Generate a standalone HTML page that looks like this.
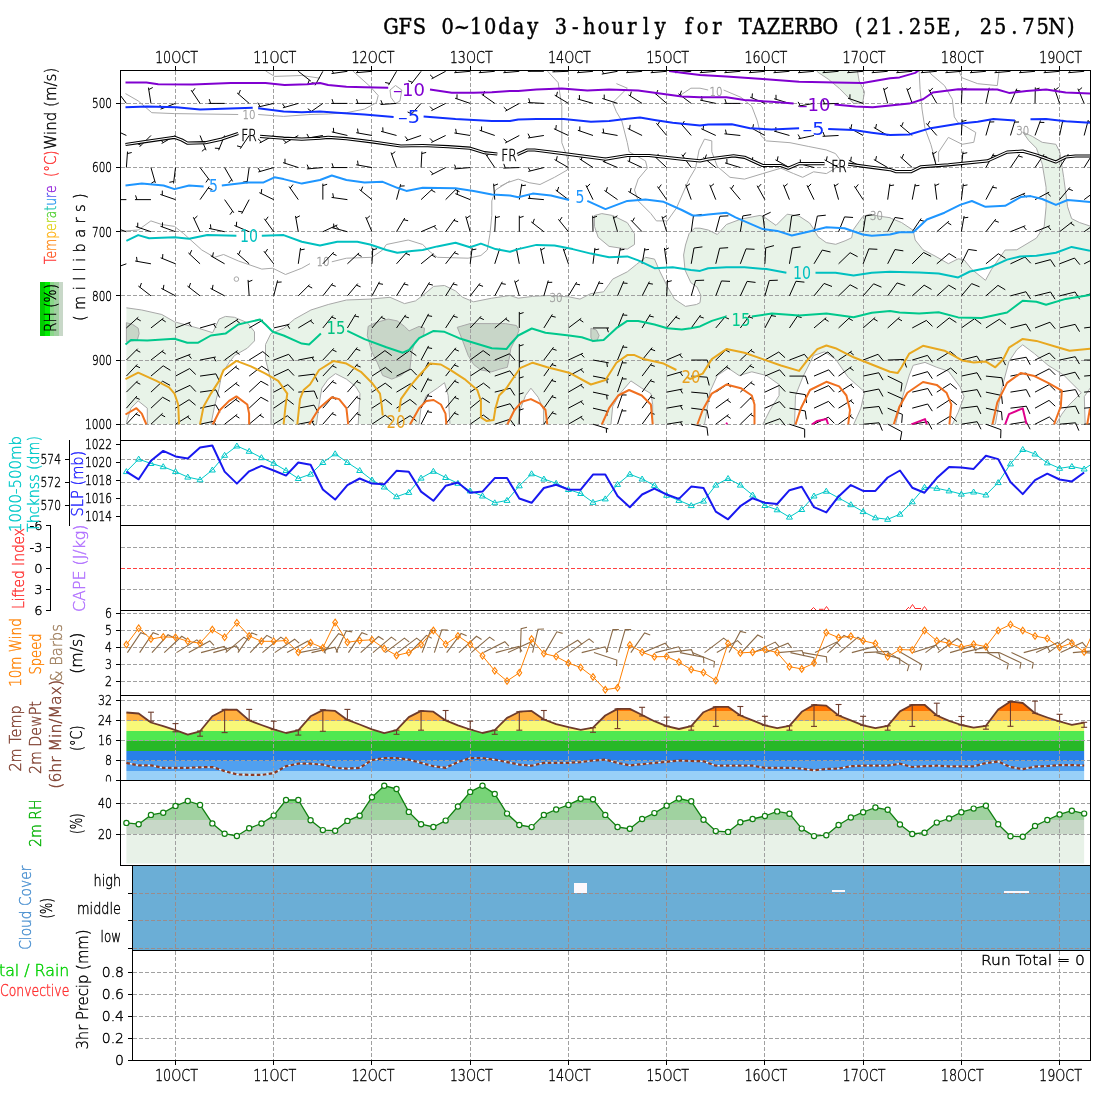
<!DOCTYPE html>
<html><head><meta charset="utf-8"><title>GFS 0~10day 3-hourly for TAZERBO</title>
<style>
html,body{margin:0;padding:0;background:#fff;width:1100px;height:1100px;overflow:hidden}
svg{display:block}
.F{font-family:"DejaVu Sans","Liberation Sans",sans-serif;font-weight:200;stroke:currentColor;stroke-width:0.4px}
.C{font-family:"DejaVu Sans","Liberation Sans",sans-serif}
.S{font-family:"Liberation Serif","DejaVu Serif",serif}
.M{font-family:"Liberation Mono","DejaVu Sans Mono",monospace}
</style></head><body>
<svg width="1100" height="1100" viewBox="0 0 1100 1100">
<rect x="0" y="0" width="1100" height="1100" fill="#fff"/>
<clipPath id="mainclip"><rect x="121" y="71" width="969" height="353.7"/></clipPath>
<g clip-path="url(#mainclip)">
<polygon points="126.4,307.8 141.8,310 161.8,314.5 174.5,321.8 198.2,328.2 212.7,332.7 219.1,319.1 225.5,316.4 234.5,317.3 247.3,322.7 254.5,331.8 254.5,340.9 247.3,348.2 234.5,355.5 229.1,362.7 221.8,373.6 219.1,388.2 214.5,406.4 210.9,424.5 271,424.5 271,380.9 265.5,359.1 265.5,344.5 270.9,333.6 283.6,328.2 294.5,319.1 310.9,310 328.2,304.5 346.4,300 370,299.1 390,297.3 404.5,303.6 415.5,300.9 422.7,295.5 433.6,286.4 444.5,285.5 455.5,290.9 462.7,297.3 473.6,301.8 491.8,298.2 510,295.5 518.2,298.2 532.7,296.4 549.1,295.5 569.1,296.9 580,299.1 590.9,293.6 603.6,291.8 612.7,279.1 627.3,271.8 636.4,264.5 645.5,257.3 654.5,259.1 660,271.8 667.3,286.4 674.5,299.1 685.5,306.4 696.4,304.5 700,302.7 700.9,295.5 697,287 690.9,282.7 685,270 683.6,255 685.5,245 689.1,233.6 694.5,228.2 700,228.2 708.2,230 717.3,234.5 726.4,224.5 740.9,219.1 760,215.4 763.5,216.5 776,225.4 787.2,214.2 799,216 809.6,223 814.4,230.1 817.9,236.6 826.2,242.6 835.7,244.3 845.1,240.8 851.6,237.8 853.4,229.6 859.3,221.3 862.8,216.5 869.9,214.2 878.2,216 890,217.7 891.7,218.6 901.5,222.5 913.2,230.3 915.2,240 923,249.8 935,256 948.4,263.7 958.2,258.8 964.1,259.8 971.9,269.5 985.5,280.3 991.4,269.5 1005.1,250 1016.8,249.8 1036.4,238.1 1044.2,226.4 1046.1,206.8 1046.1,187.3 1042.2,163.8 1036.4,148.2 1028.6,140.4 1022.7,132 1032.5,136.5 1042.2,142.3 1055.9,144.3 1059.8,152.1 1063.7,177.5 1067.6,206.8 1071.6,218.6 1079.4,222.5 1091,226.4 1091,424.2 126.4,424.2" fill="#e8f3e8" stroke="none" />
<polygon points="594.5,215.5 601.8,213.6 612.7,215.5 627.3,222.7 634.5,233.6 634.5,244.5 627.3,249.1 609.1,246.4 598.2,237.3 594.5,226.4" fill="#e8f3e8" stroke="#a8a8a8" stroke-width="1"/>
<polygon points="817.3,70 817.3,71.8 828.2,79.1 839.1,88.2 848.2,97.3 853.6,103.6 862.7,102.7 864.5,91.8 859.1,80.9 857.3,70" fill="#e8f3e8" stroke="#a8a8a8" stroke-width="1"/>
<polygon points="126.4,422.7 130.9,408.2 138.2,400.9 147.3,408.2 147.3,424.5" fill="#fff" stroke="none" />
<polygon points="316.4,424.5 319.1,404.5 321.8,388.2 328.2,379.1 335.5,373.6 346.4,379.1 355.5,386.4 360,393.6 359.1,408.2 358.2,424.5" fill="#fff" stroke="none" />
<polygon points="419.1,424.5 420.9,408.2 426.4,395.5 437.3,388.2 444.5,382.7 448.2,395.5 450,424.5" fill="#fff" stroke="none" />
<polygon points="518.2,424.5 520,410 525.5,395.5 530.9,388.2 538.2,397.3 543.6,410 543.6,424.5" fill="#fff" stroke="none" />
<polygon points="610.9,424.5 612.7,406.4 620,393.6 630.9,380.9 641.8,388.2 650.9,393.6 652.7,404.5 652.7,424.5" fill="#fff" stroke="none" />
<polygon points="704.5,424.5 710,391.8 717.3,375.5 728.2,368.2 739.1,375.5 751.8,371.8 766.4,375.5 779.1,384.5 779.1,395.5 770,410 762.7,424.5" fill="#fff" stroke="none" />
<polygon points="794.5,424.5 795.5,395.5 802.7,377.3 813.6,355.5 824.5,351.8 835.5,359.1 848.2,377.3 864.5,391.8 860.9,408.2 853.6,424.5" fill="#fff" stroke="none" />
<polygon points="895.6,424.5 901.5,400.5 909.3,375.1 913.2,365.3 925,362.4 936.7,367.3 948.4,371.2 960.1,386.8 964.1,396.6 958.2,412.2 952.3,424.5" fill="#fff" stroke="none" />
<polygon points="995.3,424.5 1001.2,390.7 1009,361.4 1016.8,349.7 1022.7,344.8 1034.4,353.6 1048.1,365.3 1063.7,375.1 1081.3,392.7 1067.6,406.4 1061.8,414.2 1055.9,424.5" fill="#fff" stroke="none" />
<polygon points="1085.2,424.5 1084.3,396.6 1091,386.8 1091,424.5" fill="#fff" stroke="none" />
<polygon points="126.4,322.7 132.7,324.5 138.2,328.2 139.1,333.6 137.3,340 126.4,341.8" fill="#c8d6c8" stroke="#a8a8a8" stroke-width="1"/>
<polygon points="368.2,326.4 375.5,322.7 388.2,319.1 397.3,320.9 404.5,326.4 409.1,330.9 419.1,326.4 424.5,328.2 423.6,335.5 415.5,340.9 411.8,351.8 410,368.2 400.9,375.5 391.8,379.1 382.7,375.5 377.3,362.7 371.8,351.8 367.3,335.5" fill="#c8d6c8" stroke="#a8a8a8" stroke-width="1"/>
<polygon points="457.3,327.3 470,323.6 491.8,323.6 505.5,323.6 516.4,325.5 519.1,330 516.4,337.3 510.9,348.2 509.1,359.1 507.3,367.3 500,369.1 491.8,371.8 480.9,370 473.6,364.5 468.2,355.5 462.7,340.9" fill="#c8d6c8" stroke="#a8a8a8" stroke-width="1"/>
<polygon points="590.9,328.2 596.4,330 599.1,335.5 597.3,340 592.7,341.8 590.9,337.3" fill="#c8d6c8" stroke="#a8a8a8" stroke-width="1"/>
<polyline points="126.4,307.8 141.8,310 161.8,314.5 174.5,321.8 198.2,328.2 212.7,332.7 219.1,319.1 225.5,316.4 234.5,317.3 247.3,322.7 254.5,331.8 254.5,340.9 247.3,348.2 234.5,355.5 229.1,362.7 221.8,373.6 219.1,388.2 214.5,406.4 210.9,424.5 271,424.5 271,380.9 265.5,359.1 265.5,344.5 270.9,333.6 283.6,328.2 294.5,319.1 310.9,310 328.2,304.5 346.4,300 370,299.1 390,297.3 404.5,303.6 415.5,300.9 422.7,295.5 433.6,286.4 444.5,285.5 455.5,290.9 462.7,297.3 473.6,301.8 491.8,298.2 510,295.5 518.2,298.2 532.7,296.4 549.1,295.5 569.1,296.9 580,299.1 590.9,293.6 603.6,291.8 612.7,279.1 627.3,271.8 636.4,264.5 645.5,257.3 654.5,259.1 660,271.8 667.3,286.4 674.5,299.1 685.5,306.4 696.4,304.5 700,302.7 700.9,295.5 697,287 690.9,282.7 685,270 683.6,255 685.5,245 689.1,233.6 694.5,228.2 700,228.2 708.2,230 717.3,234.5 726.4,224.5 740.9,219.1 760,215.4 763.5,216.5 776,225.4 787.2,214.2 799,216 809.6,223 814.4,230.1 817.9,236.6 826.2,242.6 835.7,244.3 845.1,240.8 851.6,237.8 853.4,229.6 859.3,221.3 862.8,216.5 869.9,214.2 878.2,216 890,217.7 891.7,218.6 901.5,222.5 913.2,230.3 915.2,240 923,249.8 935,256 948.4,263.7 958.2,258.8 964.1,259.8 971.9,269.5 985.5,280.3 991.4,269.5 1005.1,250 1016.8,249.8 1036.4,238.1 1044.2,226.4 1046.1,206.8 1046.1,187.3 1042.2,163.8 1036.4,148.2 1028.6,140.4 1022.7,132 1032.5,136.5 1042.2,142.3 1055.9,144.3 1059.8,152.1 1063.7,177.5 1067.6,206.8 1071.6,218.6 1079.4,222.5 1091,226.4" fill="none" stroke="#a8a8a8" stroke-width="1" stroke-linejoin="round" />
<polyline points="126.4,422.7 130.9,408.2 138.2,400.9 147.3,408.2 147.3,424.5" fill="none" stroke="#a8a8a8" stroke-width="1" stroke-linejoin="round" />
<polyline points="316.4,424.5 319.1,404.5 321.8,388.2 328.2,379.1 335.5,373.6 346.4,379.1 355.5,386.4 360,393.6 359.1,408.2 358.2,424.5" fill="none" stroke="#a8a8a8" stroke-width="1" stroke-linejoin="round" />
<polyline points="419.1,424.5 420.9,408.2 426.4,395.5 437.3,388.2 444.5,382.7 448.2,395.5 450,424.5" fill="none" stroke="#a8a8a8" stroke-width="1" stroke-linejoin="round" />
<polyline points="518.2,424.5 520,410 525.5,395.5 530.9,388.2 538.2,397.3 543.6,410 543.6,424.5" fill="none" stroke="#a8a8a8" stroke-width="1" stroke-linejoin="round" />
<polyline points="610.9,424.5 612.7,406.4 620,393.6 630.9,380.9 641.8,388.2 650.9,393.6 652.7,404.5 652.7,424.5" fill="none" stroke="#a8a8a8" stroke-width="1" stroke-linejoin="round" />
<polyline points="704.5,424.5 710,391.8 717.3,375.5 728.2,368.2 739.1,375.5 751.8,371.8 766.4,375.5 779.1,384.5 779.1,395.5 770,410 762.7,424.5" fill="none" stroke="#a8a8a8" stroke-width="1" stroke-linejoin="round" />
<polyline points="794.5,424.5 795.5,395.5 802.7,377.3 813.6,355.5 824.5,351.8 835.5,359.1 848.2,377.3 864.5,391.8 860.9,408.2 853.6,424.5" fill="none" stroke="#a8a8a8" stroke-width="1" stroke-linejoin="round" />
<polyline points="895.6,424.5 901.5,400.5 909.3,375.1 913.2,365.3 925,362.4 936.7,367.3 948.4,371.2 960.1,386.8 964.1,396.6 958.2,412.2 952.3,424.5" fill="none" stroke="#a8a8a8" stroke-width="1" stroke-linejoin="round" />
<polyline points="995.3,424.5 1001.2,390.7 1009,361.4 1016.8,349.7 1022.7,344.8 1034.4,353.6 1048.1,365.3 1063.7,375.1 1081.3,392.7 1067.6,406.4 1061.8,414.2 1055.9,424.5" fill="none" stroke="#a8a8a8" stroke-width="1" stroke-linejoin="round" />
<polyline points="1085.2,424.5 1084.3,396.6 1091,386.8 1091,424.5" fill="none" stroke="#a8a8a8" stroke-width="1" stroke-linejoin="round" />
</g>
<clipPath id="rhclip"><polygon points="126.38,822.9 138.66,824.2 150.94,814.9 163.22,812.7 175.5,805.9 187.78,801 200.06,804.9 212.34,823.4 224.62,833.7 236.89,836 249.17,828.3 261.45,823.5 273.73,815.6 286.01,800 298.29,800 310.57,820.3 322.85,830.1 335.13,830.7 347.41,820.9 359.69,815.7 371.96,797.2 384.24,785.7 396.52,789 408.8,811.9 421.08,824.2 433.36,827 445.64,820.6 457.92,806.5 470.2,791.9 482.48,785.7 494.75,793.9 507.03,813.6 519.31,825 531.59,827.1 543.87,814.9 556.15,809.5 568.43,804.9 580.71,798.8 592.99,799.3 605.26,814.9 617.54,827 629.82,828.8 642.1,819 654.38,813.1 666.66,805.7 678.94,798.5 691.22,801.3 703.5,819.8 715.78,831.1 728.05,831.9 740.33,822.2 752.61,819 764.89,816 777.17,811.4 789.45,813.7 801.73,828.6 814.01,836.1 826.29,835.2 838.57,825 850.85,817.5 863.12,812.2 875.4,807.5 887.68,809.8 899.96,824.5 912.24,834 924.52,832.7 936.8,822.6 949.08,818.5 961.36,812.2 973.63,808.6 985.91,805.7 998.19,824.2 1010.47,836.2 1022.75,836.8 1035.03,825.9 1047.31,820 1059.59,814.4 1071.87,810.7 1084.15,813.6 1084.15,863.6 126.38,863.6"/></clipPath>
<g clip-path="url(#rhclip)" shape-rendering="crispEdges">
<rect x="120" y="834.4" width="980" height="30" fill="#e8f2e8" stroke="none" stroke-width="1" />
<rect x="120" y="819.9" width="980" height="14.5" fill="#c8d8c8" stroke="none" stroke-width="1" />
<rect x="120" y="803.4" width="980" height="16.5" fill="#a0d2a0" stroke="none" stroke-width="1" />
<rect x="120" y="770" width="980" height="33.4" fill="#78d478" stroke="none" stroke-width="1" />
</g>
<clipPath id="t2clip"><polygon points="126.38,712.5 138.66,713.5 150.94,722.5 163.22,726.1 175.5,730.2 187.78,734.6 200.06,731.3 212.34,716.3 224.62,709.7 236.89,709.7 249.17,720.4 261.45,725 273.73,729.4 286.01,733 298.29,730.3 310.57,716.3 322.85,710.1 335.13,710.9 347.41,719.9 359.69,724.5 371.96,729.4 384.24,733.1 396.52,730.2 408.8,717.1 421.08,710.9 433.36,711.7 445.64,720.4 457.92,725.3 470.2,729.5 482.48,733 494.75,730.2 507.03,717.9 519.31,711.7 531.59,710.9 543.87,719.5 556.15,724.1 568.43,727.2 580.71,729.9 592.99,727.7 605.26,715.5 617.54,708.9 629.82,708.9 642.1,715 654.38,721.2 666.66,726.1 678.94,729 691.22,726.1 703.5,712.2 715.78,706.8 728.05,706.8 740.33,715.5 752.61,720.4 764.89,725.3 777.17,728.1 789.45,725.8 801.73,711.8 814.01,704.8 826.29,705.6 838.57,715.5 850.85,720.4 863.12,725.3 875.4,728.1 887.68,725.8 899.96,711.4 912.24,704.8 924.52,704.8 936.8,715.5 949.08,720.8 961.36,725 973.63,727.7 985.91,725.8 998.19,709.5 1010.47,701.5 1022.75,703 1035.03,713.2 1047.31,717.5 1059.59,721.5 1071.87,724.8 1084.15,722.6 1084.15,780 126.38,780"/></clipPath>
<g clip-path="url(#t2clip)" shape-rendering="crispEdges">
<rect x="120" y="696" width="980" height="14.6" fill="#ff7000" stroke="none" stroke-width="1" />
<rect x="120" y="710.6" width="980" height="9.9" fill="#ffb040" stroke="none" stroke-width="1" />
<rect x="120" y="720.5" width="980" height="10.2" fill="#f8f878" stroke="none" stroke-width="1" />
<rect x="120" y="730.7" width="980" height="10.1" fill="#50e850" stroke="none" stroke-width="1" />
<rect x="120" y="740.8" width="980" height="10" fill="#28b828" stroke="none" stroke-width="1" />
<rect x="120" y="750.8" width="980" height="9.8" fill="#2880e8" stroke="none" stroke-width="1" />
<rect x="120" y="760.6" width="980" height="10" fill="#50a0f0" stroke="none" stroke-width="1" />
<rect x="120" y="770.6" width="980" height="9.4" fill="#98d0f8" stroke="none" stroke-width="1" />
</g>
<rect x="133" y="866" width="957" height="84" fill="#6baed6" stroke="none" stroke-width="1" shape-rendering="crispEdges"/>
<rect x="574" y="883" width="13" height="10" fill="#fcf8fc" stroke="none" stroke-width="1" shape-rendering="crispEdges"/>
<rect x="832" y="890" width="13" height="2" fill="#fcf8fc" stroke="none" stroke-width="1" shape-rendering="crispEdges"/>
<rect x="1004" y="891" width="25" height="2" fill="#fcf8fc" stroke="none" stroke-width="1" shape-rendering="crispEdges"/>
<line x1="120.5" y1="103.4" x2="1090.5" y2="103.4" stroke="#a0a0a0" stroke-width="1" stroke-dasharray="4 2" stroke-linecap="butt" shape-rendering="crispEdges"/>
<line x1="120.5" y1="167.56" x2="1090.5" y2="167.56" stroke="#a0a0a0" stroke-width="1" stroke-dasharray="4 2" stroke-linecap="butt" shape-rendering="crispEdges"/>
<line x1="120.5" y1="231.72" x2="1090.5" y2="231.72" stroke="#a0a0a0" stroke-width="1" stroke-dasharray="4 2" stroke-linecap="butt" shape-rendering="crispEdges"/>
<line x1="120.5" y1="295.88" x2="1090.5" y2="295.88" stroke="#a0a0a0" stroke-width="1" stroke-dasharray="4 2" stroke-linecap="butt" shape-rendering="crispEdges"/>
<line x1="120.5" y1="360.04" x2="1090.5" y2="360.04" stroke="#a0a0a0" stroke-width="1" stroke-dasharray="4 2" stroke-linecap="butt" shape-rendering="crispEdges"/>
<line x1="120.5" y1="424.2" x2="1090.5" y2="424.2" stroke="#a0a0a0" stroke-width="1" stroke-dasharray="4 2" stroke-linecap="butt" shape-rendering="crispEdges"/>
<line x1="175.5" y1="70.5" x2="175.5" y2="440.5" stroke="#a0a0a0" stroke-width="1" stroke-dasharray="4 2" stroke-linecap="butt" shape-rendering="crispEdges"/>
<line x1="273.73" y1="70.5" x2="273.73" y2="440.5" stroke="#a0a0a0" stroke-width="1" stroke-dasharray="4 2" stroke-linecap="butt" shape-rendering="crispEdges"/>
<line x1="371.96" y1="70.5" x2="371.96" y2="440.5" stroke="#a0a0a0" stroke-width="1" stroke-dasharray="4 2" stroke-linecap="butt" shape-rendering="crispEdges"/>
<line x1="470.19" y1="70.5" x2="470.19" y2="440.5" stroke="#a0a0a0" stroke-width="1" stroke-dasharray="4 2" stroke-linecap="butt" shape-rendering="crispEdges"/>
<line x1="568.42" y1="70.5" x2="568.42" y2="440.5" stroke="#a0a0a0" stroke-width="1" stroke-dasharray="4 2" stroke-linecap="butt" shape-rendering="crispEdges"/>
<line x1="666.65" y1="70.5" x2="666.65" y2="440.5" stroke="#a0a0a0" stroke-width="1" stroke-dasharray="4 2" stroke-linecap="butt" shape-rendering="crispEdges"/>
<line x1="764.88" y1="70.5" x2="764.88" y2="440.5" stroke="#a0a0a0" stroke-width="1" stroke-dasharray="4 2" stroke-linecap="butt" shape-rendering="crispEdges"/>
<line x1="863.11" y1="70.5" x2="863.11" y2="440.5" stroke="#a0a0a0" stroke-width="1" stroke-dasharray="4 2" stroke-linecap="butt" shape-rendering="crispEdges"/>
<line x1="961.34" y1="70.5" x2="961.34" y2="440.5" stroke="#a0a0a0" stroke-width="1" stroke-dasharray="4 2" stroke-linecap="butt" shape-rendering="crispEdges"/>
<line x1="1059.57" y1="70.5" x2="1059.57" y2="440.5" stroke="#a0a0a0" stroke-width="1" stroke-dasharray="4 2" stroke-linecap="butt" shape-rendering="crispEdges"/>
<line x1="120.5" y1="459.5" x2="1090.5" y2="459.5" stroke="#a0a0a0" stroke-width="1" stroke-dasharray="4 2" stroke-linecap="butt" shape-rendering="crispEdges"/>
<line x1="120.5" y1="482.5" x2="1090.5" y2="482.5" stroke="#a0a0a0" stroke-width="1" stroke-dasharray="4 2" stroke-linecap="butt" shape-rendering="crispEdges"/>
<line x1="120.5" y1="505.5" x2="1090.5" y2="505.5" stroke="#a0a0a0" stroke-width="1" stroke-dasharray="4 2" stroke-linecap="butt" shape-rendering="crispEdges"/>
<line x1="175.5" y1="440.5" x2="175.5" y2="525.5" stroke="#a0a0a0" stroke-width="1" stroke-dasharray="4 2" stroke-linecap="butt" shape-rendering="crispEdges"/>
<line x1="273.73" y1="440.5" x2="273.73" y2="525.5" stroke="#a0a0a0" stroke-width="1" stroke-dasharray="4 2" stroke-linecap="butt" shape-rendering="crispEdges"/>
<line x1="371.96" y1="440.5" x2="371.96" y2="525.5" stroke="#a0a0a0" stroke-width="1" stroke-dasharray="4 2" stroke-linecap="butt" shape-rendering="crispEdges"/>
<line x1="470.19" y1="440.5" x2="470.19" y2="525.5" stroke="#a0a0a0" stroke-width="1" stroke-dasharray="4 2" stroke-linecap="butt" shape-rendering="crispEdges"/>
<line x1="568.42" y1="440.5" x2="568.42" y2="525.5" stroke="#a0a0a0" stroke-width="1" stroke-dasharray="4 2" stroke-linecap="butt" shape-rendering="crispEdges"/>
<line x1="666.65" y1="440.5" x2="666.65" y2="525.5" stroke="#a0a0a0" stroke-width="1" stroke-dasharray="4 2" stroke-linecap="butt" shape-rendering="crispEdges"/>
<line x1="764.88" y1="440.5" x2="764.88" y2="525.5" stroke="#a0a0a0" stroke-width="1" stroke-dasharray="4 2" stroke-linecap="butt" shape-rendering="crispEdges"/>
<line x1="863.11" y1="440.5" x2="863.11" y2="525.5" stroke="#a0a0a0" stroke-width="1" stroke-dasharray="4 2" stroke-linecap="butt" shape-rendering="crispEdges"/>
<line x1="961.34" y1="440.5" x2="961.34" y2="525.5" stroke="#a0a0a0" stroke-width="1" stroke-dasharray="4 2" stroke-linecap="butt" shape-rendering="crispEdges"/>
<line x1="1059.57" y1="440.5" x2="1059.57" y2="525.5" stroke="#a0a0a0" stroke-width="1" stroke-dasharray="4 2" stroke-linecap="butt" shape-rendering="crispEdges"/>
<line x1="120.5" y1="547.5" x2="1090.5" y2="547.5" stroke="#a0a0a0" stroke-width="1" stroke-dasharray="4 2" stroke-linecap="butt" shape-rendering="crispEdges"/>
<line x1="120.5" y1="589.5" x2="1090.5" y2="589.5" stroke="#a0a0a0" stroke-width="1" stroke-dasharray="4 2" stroke-linecap="butt" shape-rendering="crispEdges"/>
<line x1="120.5" y1="568.5" x2="1090.5" y2="568.5" stroke="#ff4040" stroke-width="1" stroke-dasharray="4 2" stroke-linecap="butt" shape-rendering="crispEdges"/>
<line x1="175.5" y1="525.5" x2="175.5" y2="610.5" stroke="#a0a0a0" stroke-width="1" stroke-dasharray="4 2" stroke-linecap="butt" shape-rendering="crispEdges"/>
<line x1="273.73" y1="525.5" x2="273.73" y2="610.5" stroke="#a0a0a0" stroke-width="1" stroke-dasharray="4 2" stroke-linecap="butt" shape-rendering="crispEdges"/>
<line x1="371.96" y1="525.5" x2="371.96" y2="610.5" stroke="#a0a0a0" stroke-width="1" stroke-dasharray="4 2" stroke-linecap="butt" shape-rendering="crispEdges"/>
<line x1="470.19" y1="525.5" x2="470.19" y2="610.5" stroke="#a0a0a0" stroke-width="1" stroke-dasharray="4 2" stroke-linecap="butt" shape-rendering="crispEdges"/>
<line x1="568.42" y1="525.5" x2="568.42" y2="610.5" stroke="#a0a0a0" stroke-width="1" stroke-dasharray="4 2" stroke-linecap="butt" shape-rendering="crispEdges"/>
<line x1="666.65" y1="525.5" x2="666.65" y2="610.5" stroke="#a0a0a0" stroke-width="1" stroke-dasharray="4 2" stroke-linecap="butt" shape-rendering="crispEdges"/>
<line x1="764.88" y1="525.5" x2="764.88" y2="610.5" stroke="#a0a0a0" stroke-width="1" stroke-dasharray="4 2" stroke-linecap="butt" shape-rendering="crispEdges"/>
<line x1="863.11" y1="525.5" x2="863.11" y2="610.5" stroke="#a0a0a0" stroke-width="1" stroke-dasharray="4 2" stroke-linecap="butt" shape-rendering="crispEdges"/>
<line x1="961.34" y1="525.5" x2="961.34" y2="610.5" stroke="#a0a0a0" stroke-width="1" stroke-dasharray="4 2" stroke-linecap="butt" shape-rendering="crispEdges"/>
<line x1="1059.57" y1="525.5" x2="1059.57" y2="610.5" stroke="#a0a0a0" stroke-width="1" stroke-dasharray="4 2" stroke-linecap="butt" shape-rendering="crispEdges"/>
<line x1="120.5" y1="613.5" x2="1090.5" y2="613.5" stroke="#a0a0a0" stroke-width="1" stroke-dasharray="4 2" stroke-linecap="butt" shape-rendering="crispEdges"/>
<line x1="120.5" y1="630.5" x2="1090.5" y2="630.5" stroke="#a0a0a0" stroke-width="1" stroke-dasharray="4 2" stroke-linecap="butt" shape-rendering="crispEdges"/>
<line x1="120.5" y1="647.5" x2="1090.5" y2="647.5" stroke="#a0a0a0" stroke-width="1" stroke-dasharray="4 2" stroke-linecap="butt" shape-rendering="crispEdges"/>
<line x1="120.5" y1="664.5" x2="1090.5" y2="664.5" stroke="#a0a0a0" stroke-width="1" stroke-dasharray="4 2" stroke-linecap="butt" shape-rendering="crispEdges"/>
<line x1="120.5" y1="681.5" x2="1090.5" y2="681.5" stroke="#a0a0a0" stroke-width="1" stroke-dasharray="4 2" stroke-linecap="butt" shape-rendering="crispEdges"/>
<line x1="175.5" y1="610.5" x2="175.5" y2="695.5" stroke="#a0a0a0" stroke-width="1" stroke-dasharray="4 2" stroke-linecap="butt" shape-rendering="crispEdges"/>
<line x1="273.73" y1="610.5" x2="273.73" y2="695.5" stroke="#a0a0a0" stroke-width="1" stroke-dasharray="4 2" stroke-linecap="butt" shape-rendering="crispEdges"/>
<line x1="371.96" y1="610.5" x2="371.96" y2="695.5" stroke="#a0a0a0" stroke-width="1" stroke-dasharray="4 2" stroke-linecap="butt" shape-rendering="crispEdges"/>
<line x1="470.19" y1="610.5" x2="470.19" y2="695.5" stroke="#a0a0a0" stroke-width="1" stroke-dasharray="4 2" stroke-linecap="butt" shape-rendering="crispEdges"/>
<line x1="568.42" y1="610.5" x2="568.42" y2="695.5" stroke="#a0a0a0" stroke-width="1" stroke-dasharray="4 2" stroke-linecap="butt" shape-rendering="crispEdges"/>
<line x1="666.65" y1="610.5" x2="666.65" y2="695.5" stroke="#a0a0a0" stroke-width="1" stroke-dasharray="4 2" stroke-linecap="butt" shape-rendering="crispEdges"/>
<line x1="764.88" y1="610.5" x2="764.88" y2="695.5" stroke="#a0a0a0" stroke-width="1" stroke-dasharray="4 2" stroke-linecap="butt" shape-rendering="crispEdges"/>
<line x1="863.11" y1="610.5" x2="863.11" y2="695.5" stroke="#a0a0a0" stroke-width="1" stroke-dasharray="4 2" stroke-linecap="butt" shape-rendering="crispEdges"/>
<line x1="961.34" y1="610.5" x2="961.34" y2="695.5" stroke="#a0a0a0" stroke-width="1" stroke-dasharray="4 2" stroke-linecap="butt" shape-rendering="crispEdges"/>
<line x1="1059.57" y1="610.5" x2="1059.57" y2="695.5" stroke="#a0a0a0" stroke-width="1" stroke-dasharray="4 2" stroke-linecap="butt" shape-rendering="crispEdges"/>
<line x1="120.5" y1="700.5" x2="1090.5" y2="700.5" stroke="#a0a0a0" stroke-width="1" stroke-dasharray="4 2" stroke-linecap="butt" shape-rendering="crispEdges"/>
<line x1="120.5" y1="720.5" x2="1090.5" y2="720.5" stroke="#a0a0a0" stroke-width="1" stroke-dasharray="4 2" stroke-linecap="butt" shape-rendering="crispEdges"/>
<line x1="120.5" y1="740.5" x2="1090.5" y2="740.5" stroke="#a0a0a0" stroke-width="1" stroke-dasharray="4 2" stroke-linecap="butt" shape-rendering="crispEdges"/>
<line x1="120.5" y1="760.5" x2="1090.5" y2="760.5" stroke="#a0a0a0" stroke-width="1" stroke-dasharray="4 2" stroke-linecap="butt" shape-rendering="crispEdges"/>
<line x1="175.5" y1="695.5" x2="175.5" y2="780.5" stroke="#a0a0a0" stroke-width="1" stroke-dasharray="4 2" stroke-linecap="butt" shape-rendering="crispEdges"/>
<line x1="273.73" y1="695.5" x2="273.73" y2="780.5" stroke="#a0a0a0" stroke-width="1" stroke-dasharray="4 2" stroke-linecap="butt" shape-rendering="crispEdges"/>
<line x1="371.96" y1="695.5" x2="371.96" y2="780.5" stroke="#a0a0a0" stroke-width="1" stroke-dasharray="4 2" stroke-linecap="butt" shape-rendering="crispEdges"/>
<line x1="470.19" y1="695.5" x2="470.19" y2="780.5" stroke="#a0a0a0" stroke-width="1" stroke-dasharray="4 2" stroke-linecap="butt" shape-rendering="crispEdges"/>
<line x1="568.42" y1="695.5" x2="568.42" y2="780.5" stroke="#a0a0a0" stroke-width="1" stroke-dasharray="4 2" stroke-linecap="butt" shape-rendering="crispEdges"/>
<line x1="666.65" y1="695.5" x2="666.65" y2="780.5" stroke="#a0a0a0" stroke-width="1" stroke-dasharray="4 2" stroke-linecap="butt" shape-rendering="crispEdges"/>
<line x1="764.88" y1="695.5" x2="764.88" y2="780.5" stroke="#a0a0a0" stroke-width="1" stroke-dasharray="4 2" stroke-linecap="butt" shape-rendering="crispEdges"/>
<line x1="863.11" y1="695.5" x2="863.11" y2="780.5" stroke="#a0a0a0" stroke-width="1" stroke-dasharray="4 2" stroke-linecap="butt" shape-rendering="crispEdges"/>
<line x1="961.34" y1="695.5" x2="961.34" y2="780.5" stroke="#a0a0a0" stroke-width="1" stroke-dasharray="4 2" stroke-linecap="butt" shape-rendering="crispEdges"/>
<line x1="1059.57" y1="695.5" x2="1059.57" y2="780.5" stroke="#a0a0a0" stroke-width="1" stroke-dasharray="4 2" stroke-linecap="butt" shape-rendering="crispEdges"/>
<line x1="120.5" y1="803.5" x2="1090.5" y2="803.5" stroke="#a0a0a0" stroke-width="1" stroke-dasharray="4 2" stroke-linecap="butt" shape-rendering="crispEdges"/>
<line x1="120.5" y1="834.5" x2="1090.5" y2="834.5" stroke="#a0a0a0" stroke-width="1" stroke-dasharray="4 2" stroke-linecap="butt" shape-rendering="crispEdges"/>
<line x1="175.5" y1="780.5" x2="175.5" y2="865.5" stroke="#a0a0a0" stroke-width="1" stroke-dasharray="4 2" stroke-linecap="butt" shape-rendering="crispEdges"/>
<line x1="273.73" y1="780.5" x2="273.73" y2="865.5" stroke="#a0a0a0" stroke-width="1" stroke-dasharray="4 2" stroke-linecap="butt" shape-rendering="crispEdges"/>
<line x1="371.96" y1="780.5" x2="371.96" y2="865.5" stroke="#a0a0a0" stroke-width="1" stroke-dasharray="4 2" stroke-linecap="butt" shape-rendering="crispEdges"/>
<line x1="470.19" y1="780.5" x2="470.19" y2="865.5" stroke="#a0a0a0" stroke-width="1" stroke-dasharray="4 2" stroke-linecap="butt" shape-rendering="crispEdges"/>
<line x1="568.42" y1="780.5" x2="568.42" y2="865.5" stroke="#a0a0a0" stroke-width="1" stroke-dasharray="4 2" stroke-linecap="butt" shape-rendering="crispEdges"/>
<line x1="666.65" y1="780.5" x2="666.65" y2="865.5" stroke="#a0a0a0" stroke-width="1" stroke-dasharray="4 2" stroke-linecap="butt" shape-rendering="crispEdges"/>
<line x1="764.88" y1="780.5" x2="764.88" y2="865.5" stroke="#a0a0a0" stroke-width="1" stroke-dasharray="4 2" stroke-linecap="butt" shape-rendering="crispEdges"/>
<line x1="863.11" y1="780.5" x2="863.11" y2="865.5" stroke="#a0a0a0" stroke-width="1" stroke-dasharray="4 2" stroke-linecap="butt" shape-rendering="crispEdges"/>
<line x1="961.34" y1="780.5" x2="961.34" y2="865.5" stroke="#a0a0a0" stroke-width="1" stroke-dasharray="4 2" stroke-linecap="butt" shape-rendering="crispEdges"/>
<line x1="1059.57" y1="780.5" x2="1059.57" y2="865.5" stroke="#a0a0a0" stroke-width="1" stroke-dasharray="4 2" stroke-linecap="butt" shape-rendering="crispEdges"/>
<line x1="132.5" y1="893.5" x2="1090.5" y2="893.5" stroke="#9a8c8c" stroke-width="1" stroke-dasharray="4 2" stroke-linecap="butt" shape-rendering="crispEdges"/>
<line x1="132.5" y1="920.5" x2="1090.5" y2="920.5" stroke="#9a8c8c" stroke-width="1" stroke-dasharray="4 2" stroke-linecap="butt" shape-rendering="crispEdges"/>
<line x1="132.5" y1="948.5" x2="1090.5" y2="948.5" stroke="#9a8c8c" stroke-width="1" stroke-dasharray="4 2" stroke-linecap="butt" shape-rendering="crispEdges"/>
<line x1="175.5" y1="865.5" x2="175.5" y2="950.5" stroke="#9a8c8c" stroke-width="1" stroke-dasharray="4 2" stroke-linecap="butt" shape-rendering="crispEdges"/>
<line x1="273.73" y1="865.5" x2="273.73" y2="950.5" stroke="#9a8c8c" stroke-width="1" stroke-dasharray="4 2" stroke-linecap="butt" shape-rendering="crispEdges"/>
<line x1="371.96" y1="865.5" x2="371.96" y2="950.5" stroke="#9a8c8c" stroke-width="1" stroke-dasharray="4 2" stroke-linecap="butt" shape-rendering="crispEdges"/>
<line x1="470.19" y1="865.5" x2="470.19" y2="950.5" stroke="#9a8c8c" stroke-width="1" stroke-dasharray="4 2" stroke-linecap="butt" shape-rendering="crispEdges"/>
<line x1="568.42" y1="865.5" x2="568.42" y2="950.5" stroke="#9a8c8c" stroke-width="1" stroke-dasharray="4 2" stroke-linecap="butt" shape-rendering="crispEdges"/>
<line x1="666.65" y1="865.5" x2="666.65" y2="950.5" stroke="#9a8c8c" stroke-width="1" stroke-dasharray="4 2" stroke-linecap="butt" shape-rendering="crispEdges"/>
<line x1="764.88" y1="865.5" x2="764.88" y2="950.5" stroke="#9a8c8c" stroke-width="1" stroke-dasharray="4 2" stroke-linecap="butt" shape-rendering="crispEdges"/>
<line x1="863.11" y1="865.5" x2="863.11" y2="950.5" stroke="#9a8c8c" stroke-width="1" stroke-dasharray="4 2" stroke-linecap="butt" shape-rendering="crispEdges"/>
<line x1="961.34" y1="865.5" x2="961.34" y2="950.5" stroke="#9a8c8c" stroke-width="1" stroke-dasharray="4 2" stroke-linecap="butt" shape-rendering="crispEdges"/>
<line x1="1059.57" y1="865.5" x2="1059.57" y2="950.5" stroke="#9a8c8c" stroke-width="1" stroke-dasharray="4 2" stroke-linecap="butt" shape-rendering="crispEdges"/>
<line x1="132.5" y1="972.5" x2="1090.5" y2="972.5" stroke="#a0a0a0" stroke-width="1" stroke-dasharray="4 2" stroke-linecap="butt" shape-rendering="crispEdges"/>
<line x1="132.5" y1="994.5" x2="1090.5" y2="994.5" stroke="#a0a0a0" stroke-width="1" stroke-dasharray="4 2" stroke-linecap="butt" shape-rendering="crispEdges"/>
<line x1="132.5" y1="1016.5" x2="1090.5" y2="1016.5" stroke="#a0a0a0" stroke-width="1" stroke-dasharray="4 2" stroke-linecap="butt" shape-rendering="crispEdges"/>
<line x1="132.5" y1="1038.5" x2="1090.5" y2="1038.5" stroke="#a0a0a0" stroke-width="1" stroke-dasharray="4 2" stroke-linecap="butt" shape-rendering="crispEdges"/>
<line x1="175.5" y1="950.5" x2="175.5" y2="1060.5" stroke="#a0a0a0" stroke-width="1" stroke-dasharray="4 2" stroke-linecap="butt" shape-rendering="crispEdges"/>
<line x1="273.73" y1="950.5" x2="273.73" y2="1060.5" stroke="#a0a0a0" stroke-width="1" stroke-dasharray="4 2" stroke-linecap="butt" shape-rendering="crispEdges"/>
<line x1="371.96" y1="950.5" x2="371.96" y2="1060.5" stroke="#a0a0a0" stroke-width="1" stroke-dasharray="4 2" stroke-linecap="butt" shape-rendering="crispEdges"/>
<line x1="470.19" y1="950.5" x2="470.19" y2="1060.5" stroke="#a0a0a0" stroke-width="1" stroke-dasharray="4 2" stroke-linecap="butt" shape-rendering="crispEdges"/>
<line x1="568.42" y1="950.5" x2="568.42" y2="1060.5" stroke="#a0a0a0" stroke-width="1" stroke-dasharray="4 2" stroke-linecap="butt" shape-rendering="crispEdges"/>
<line x1="666.65" y1="950.5" x2="666.65" y2="1060.5" stroke="#a0a0a0" stroke-width="1" stroke-dasharray="4 2" stroke-linecap="butt" shape-rendering="crispEdges"/>
<line x1="764.88" y1="950.5" x2="764.88" y2="1060.5" stroke="#a0a0a0" stroke-width="1" stroke-dasharray="4 2" stroke-linecap="butt" shape-rendering="crispEdges"/>
<line x1="863.11" y1="950.5" x2="863.11" y2="1060.5" stroke="#a0a0a0" stroke-width="1" stroke-dasharray="4 2" stroke-linecap="butt" shape-rendering="crispEdges"/>
<line x1="961.34" y1="950.5" x2="961.34" y2="1060.5" stroke="#a0a0a0" stroke-width="1" stroke-dasharray="4 2" stroke-linecap="butt" shape-rendering="crispEdges"/>
<line x1="1059.57" y1="950.5" x2="1059.57" y2="1060.5" stroke="#a0a0a0" stroke-width="1" stroke-dasharray="4 2" stroke-linecap="butt" shape-rendering="crispEdges"/>
<g clip-path="url(#mainclip)">
<polyline points="125.5,93.6 138.2,100.9 151.8,112.7 174.5,113.6 238.2,114.5" fill="none" stroke="#a8a8a8" stroke-width="1" stroke-linejoin="round" />
<polyline points="258.2,114.5 283.6,116.4 310,114.5 328.2,114 346.4,112.7 364.5,109.1 376.4,102.7 378.2,95.5 370,86.4 352.7,70.9" fill="none" stroke="#a8a8a8" stroke-width="1" stroke-linejoin="round" />
<polyline points="265.5,70.9 274.5,76.4 301.8,75.5 320,78.2" fill="none" stroke="#a8a8a8" stroke-width="1" stroke-linejoin="round" />
<polyline points="390,90 395.5,85.5 401.8,90 400,100.9 395.5,103.6 390.9,97.3 390,90" fill="none" stroke="#a8a8a8" stroke-width="1" stroke-linejoin="round" />
<polyline points="125.5,230.9 138.2,230 150.9,220.9 161.8,224.5 174.5,226.4 183.6,233.6 201.8,250 214.5,257.3 223.6,254.5 238.2,260.9 261.8,269.1 272.7,268.2 285.5,274.5 301.8,268.2 310,263.6" fill="none" stroke="#a8a8a8" stroke-width="1" stroke-linejoin="round" />
<polyline points="331.8,261.8 346.4,258.2 371.8,257.3 382.7,250 386.4,244.5 408.2,240 422.7,244.5 430,251.8 437.3,257.3 468.2,258.2 480.9,255.5 487.3,250 490,233.6 491.8,215.5 491.8,200.9 495.5,190 510,180.9" fill="none" stroke="#a8a8a8" stroke-width="1" stroke-linejoin="round" />
<polyline points="547.3,70.9 558.2,82.7 561.8,106.4 561.8,142.7 567.3,157.3 568.2,166.4 567.3,170 554.5,177.3 540,184.5 529.1,182.7 518.2,179.1 507.3,182.7 500,186.4" fill="none" stroke="#a8a8a8" stroke-width="1" stroke-linejoin="round" />
<polyline points="680,95.5 690.9,88.2 700,88.2 708.2,90" fill="none" stroke="#a8a8a8" stroke-width="1" stroke-linejoin="round" />
<polyline points="723.6,90 740.9,97.3 751.8,106.4 757.3,120.9 760.9,135.5 766.4,140.9 790,142.7 808.2,146.4 826.4,150 835.5,153.6 840.9,160.9 835.5,168.2 826.4,173.6 813.6,171.8 802.7,177.3 793.6,173.6 780.9,168.2 762.7,173.6 744.5,179.1 730,177.3 717.3,166.4 711.8,151.8 711.8,140.9 704.5,139.1 699.1,150 695.5,168.2 689.1,179.1 676.4,208.2 667.3,220.9 656.4,220.9 650.9,213.6 638.2,200.9 634.5,190 638.2,179.1 647.3,168.2 645.5,160.9 629.1,151.8 627.3,142.7 621.8,120.9 616.4,111.8 612.7,102.7 627.3,88.2 616.4,83.6" fill="none" stroke="#a8a8a8" stroke-width="1" stroke-linejoin="round" />
<polyline points="919.1,70 920.1,89.5 922,109.1 925,128.6 930.8,144.3 935.7,161.9" fill="none" stroke="#a8a8a8" stroke-width="1" stroke-linejoin="round" />
<polyline points="938.6,161.9 938.6,152.1 948.4,137.4 962.1,144.3 973.8,142.3 975.8,132.5 966,126.7 958.2,122.8 954.3,116.9 952.3,99.3 944.5,85.6 930.8,73.9 928.9,70" fill="none" stroke="#a8a8a8" stroke-width="1" stroke-linejoin="round" />
<polyline points="958.2,70 962.1,77.8 977.7,83.7 997.3,85.6 999.2,70" fill="none" stroke="#a8a8a8" stroke-width="1" stroke-linejoin="round" />
<circle cx="236.4" cy="279.1" r="2.3" fill="none" stroke="#a8a8a8" stroke-width="1"/>
<text class="F" x="249" y="118.5" font-size="13" fill="#a0a0a0" style="color:#a0a0a0" text-anchor="middle" textLength="13" lengthAdjust="spacingAndGlyphs" >10</text>
<text class="F" x="323" y="266" font-size="13" fill="#a0a0a0" style="color:#a0a0a0" text-anchor="middle" textLength="13" lengthAdjust="spacingAndGlyphs" >10</text>
</g><clipPath id="barbclip"><rect x="121" y="71" width="969" height="369"/></clipPath><g clip-path="url(#barbclip)">
<path d="M298.29 71.32L310.9 81.17M309.32 79.94L307.78 84.17" stroke="#000" stroke-width="1" fill="none"/>
<path d="M322.85 71.32L315.09 85.31M316.06 83.56L311.64 82.71" stroke="#000" stroke-width="1" fill="none"/>
<path d="M347.41 71.32L331.56 73.55M333.54 73.27L331.57 69.22" stroke="#000" stroke-width="1" fill="none"/>
<path d="M396.52 71.32L388.52 85.18M389.52 83.44L385.12 82.51" stroke="#000" stroke-width="1" fill="none"/>
<path d="M421.08 71.32L411.23 83.93M412.46 82.35L408.23 80.81" stroke="#000" stroke-width="1" fill="none"/>
<path d="M445.64 71.32L431.51 78.83M433.28 77.89L430.04 74.77" stroke="#000" stroke-width="1" fill="none"/>
<path d="M519.31 71.32L503.37 72.71M505.37 72.54L503.61 68.4" stroke="#000" stroke-width="1" fill="none"/>
<path d="M543.87 71.32L527.87 71.32M529.87 71.32L528.48 67.04" stroke="#000" stroke-width="1" fill="none"/>
<path d="M568.43 71.32L552.44 71.88M554.44 71.81L552.9 67.58" stroke="#000" stroke-width="1" fill="none"/>
<path d="M592.99 71.32L577.05 72.71M579.04 72.54L577.28 68.4" stroke="#000" stroke-width="1" fill="none"/>
<path d="M617.54 71.32L601.79 74.1M603.76 73.75L601.64 69.78" stroke="#000" stroke-width="1" fill="none"/>
<path d="M691.22 71.32L675.28 72.71M677.27 72.54L675.51 68.4" stroke="#000" stroke-width="1" fill="none"/>
<path d="M715.78 71.32L699.84 72.71M701.83 72.54L700.07 68.4" stroke="#000" stroke-width="1" fill="none"/>
<path d="M740.33 71.32L724.39 72.71M726.39 72.54L724.63 68.4" stroke="#000" stroke-width="1" fill="none"/>
<path d="M764.89 71.32L748.95 72.71M750.95 72.54L749.19 68.4" stroke="#000" stroke-width="1" fill="none"/>
<path d="M789.45 71.32L773.51 72.71M775.5 72.54L773.74 68.4" stroke="#000" stroke-width="1" fill="none"/>
<path d="M814.01 71.32L798.07 72.71M800.06 72.54L798.3 68.4" stroke="#000" stroke-width="1" fill="none"/>
<path d="M838.57 71.32L822.63 72.71M824.62 72.54L822.86 68.4" stroke="#000" stroke-width="1" fill="none"/>
<path d="M863.12 71.32L847.18 72.71M849.18 72.54L847.42 68.4" stroke="#000" stroke-width="1" fill="none"/>
<path d="M887.68 71.32L871.74 72.71M873.74 72.54L871.98 68.4" stroke="#000" stroke-width="1" fill="none"/>
<path d="M912.24 71.32L896.3 72.71M898.29 72.54L896.53 68.4" stroke="#000" stroke-width="1" fill="none"/>
<path d="M936.8 71.32L920.86 72.71M922.85 72.54L921.09 68.4" stroke="#000" stroke-width="1" fill="none"/>
<path d="M961.36 71.32L945.42 72.71M947.41 72.54L945.65 68.4" stroke="#000" stroke-width="1" fill="none"/>
<path d="M985.91 71.32L969.97 72.71M971.97 72.54L970.21 68.4" stroke="#000" stroke-width="1" fill="none"/>
<path d="M1010.47 71.32L994.53 72.71M996.53 72.54L994.77 68.4" stroke="#000" stroke-width="1" fill="none"/>
<path d="M1035.03 71.32L1019.09 72.71M1021.08 72.54L1019.32 68.4" stroke="#000" stroke-width="1" fill="none"/>
<path d="M1059.59 71.32L1043.65 72.71M1045.64 72.54L1043.88 68.4" stroke="#000" stroke-width="1" fill="none"/>
<path d="M1084.15 71.32L1068.21 72.71M1070.2 72.54L1068.44 68.4" stroke="#000" stroke-width="1" fill="none"/>
<path d="M470.2 71.32L454.26 72.71M456.25 72.54L454.49 68.4" stroke="#000" stroke-width="1" fill="none"/>
<path d="M494.75 71.32L478.81 72.71M480.81 72.54L479.05 68.4" stroke="#000" stroke-width="1" fill="none"/>
<path d="M642.1 71.32L626.16 72.71M628.16 72.54L626.4 68.4" stroke="#000" stroke-width="1" fill="none"/>
<path d="M666.66 71.32L650.72 72.71M652.71 72.54L650.95 68.4" stroke="#000" stroke-width="1" fill="none"/>
<path d="M371.96 71.32L356.02 72.71M358.02 72.54L356.26 68.4" stroke="#000" stroke-width="1" fill="none"/>
<path d="M126.38 103.4L116.75 90.62M117.96 92.22L120.54 88.53" stroke="#000" stroke-width="1" fill="none"/>
<path d="M150.94 103.4L148.44 87.6M148.75 89.57L152.76 87.53" stroke="#000" stroke-width="1" fill="none"/>
<path d="M175.5 103.4L160.56 109.13M162.43 108.42L159.6 104.92" stroke="#000" stroke-width="1" fill="none"/>
<path d="M200.06 103.4L191.11 90.14M192.23 91.79L195 88.25" stroke="#000" stroke-width="1" fill="none"/>
<path d="M224.62 103.4L208.62 103.4M210.62 103.4L209.23 99.12" stroke="#000" stroke-width="1" fill="none"/>
<path d="M249.17 103.4L237.1 92.9M238.61 94.22L240.37 90.07" stroke="#000" stroke-width="1" fill="none"/>
<path d="M273.73 103.4L258.14 107M260.09 106.55L257.77 102.69" stroke="#000" stroke-width="1" fill="none"/>
<path d="M298.29 103.4L282.91 107.81M284.83 107.26L282.32 103.53" stroke="#000" stroke-width="1" fill="none"/>
<path d="M322.85 103.4L309.74 112.58M311.38 111.43L307.79 108.72" stroke="#000" stroke-width="1" fill="none"/>
<path d="M347.41 103.4L331.41 103.4M333.41 103.4L332.02 99.12" stroke="#000" stroke-width="1" fill="none"/>
<path d="M371.96 103.4L355.96 103.4M357.96 103.4L356.57 99.12" stroke="#000" stroke-width="1" fill="none"/>
<path d="M396.52 103.4L380.56 104.52M382.56 104.38L380.87 100.2" stroke="#000" stroke-width="1" fill="none"/>
<path d="M421.08 103.4L410.37 115.29M411.71 113.8L407.6 111.97" stroke="#000" stroke-width="1" fill="none"/>
<path d="M445.64 103.4L431.38 110.66M433.16 109.76L429.98 106.57" stroke="#000" stroke-width="1" fill="none"/>
<path d="M470.2 103.4L455.07 98.19M456.96 98.84L457.04 94.34" stroke="#000" stroke-width="1" fill="none"/>
<path d="M494.75 103.4L481.65 94.22M483.29 95.37L484.6 91.07" stroke="#000" stroke-width="1" fill="none"/>
<path d="M519.31 103.4L505.32 111.16M507.07 110.19L503.78 107.12" stroke="#000" stroke-width="1" fill="none"/>
<path d="M543.87 103.4L527.89 102.56M529.89 102.67L528.72 98.32" stroke="#000" stroke-width="1" fill="none"/>
<path d="M568.43 103.4L554.71 95.16M556.43 96.19L557.44 91.8" stroke="#000" stroke-width="1" fill="none"/>
<path d="M592.99 103.4L577.61 98.99M579.53 99.54L579.37 95.04" stroke="#000" stroke-width="1" fill="none"/>
<path d="M617.54 103.4L602.33 98.46M604.23 99.07L604.23 94.57" stroke="#000" stroke-width="1" fill="none"/>
<path d="M642.1 103.4L628.53 94.92M630.23 95.98L631.32 91.61" stroke="#000" stroke-width="1" fill="none"/>
<path d="M666.66 103.4L654.58 92.9M656.09 94.22L657.85 90.07" stroke="#000" stroke-width="1" fill="none"/>
<path d="M691.22 103.4L678.44 93.77M680.04 94.97L681.5 90.72" stroke="#000" stroke-width="1" fill="none"/>
<path d="M715.78 103.4L700.13 100.07M702.08 100.49L701.61 96.01" stroke="#000" stroke-width="1" fill="none"/>
<path d="M740.33 103.4L724.33 103.4M726.33 103.4L724.94 99.12" stroke="#000" stroke-width="1" fill="none"/>
<path d="M764.89 103.4L750.16 97.15M752 97.93L752.4 93.45" stroke="#000" stroke-width="1" fill="none"/>
<path d="M789.45 103.4L774.15 98.72M776.06 99.31L775.98 94.81" stroke="#000" stroke-width="1" fill="none"/>
<path d="M814.01 103.4L798.25 106.18M800.22 105.83L798.11 101.86" stroke="#000" stroke-width="1" fill="none"/>
<path d="M838.57 103.4L822.58 103.96M824.57 103.89L823.04 99.66" stroke="#000" stroke-width="1" fill="none"/>
<path d="M863.12 103.4L848 98.19M849.89 98.84L849.97 94.34" stroke="#000" stroke-width="1" fill="none"/>
<path d="M887.68 103.4L883.54 87.95M884.06 89.88L887.83 87.43" stroke="#000" stroke-width="1" fill="none"/>
<path d="M912.24 103.4L906.77 88.36M907.45 90.24L911 87.47" stroke="#000" stroke-width="1" fill="none"/>
<path d="M936.8 103.4L928.8 89.54M929.8 91.28L932.81 87.93" stroke="#000" stroke-width="1" fill="none"/>
<path d="M961.36 103.4L962.19 87.42M962.09 89.42L966.44 88.25" stroke="#000" stroke-width="1" fill="none"/>
<path d="M985.91 103.4L989.24 87.75M988.82 89.71L993.3 89.24" stroke="#000" stroke-width="1" fill="none"/>
<path d="M1010.47 103.4L1016.72 88.67M1015.94 90.51L1020.43 90.91" stroke="#000" stroke-width="1" fill="none"/>
<path d="M1035.03 103.4L1035.31 87.4M1035.27 89.4L1039.58 88.09" stroke="#000" stroke-width="1" fill="none"/>
<path d="M1059.59 103.4L1054.38 88.27M1055.03 90.16L1058.62 87.45" stroke="#000" stroke-width="1" fill="none"/>
<path d="M1084.15 103.4L1077.89 88.67M1078.68 90.51L1082.07 87.56" stroke="#000" stroke-width="1" fill="none"/>
<path d="M126.38 135.48L111.88 128.72M113.7 129.56L114.24 125.1" stroke="#000" stroke-width="1" fill="none"/>
<path d="M150.94 135.48L139.63 146.79M141.04 145.38L137.03 143.34" stroke="#000" stroke-width="1" fill="none"/>
<path d="M175.5 135.48L161.64 143.48M163.38 142.48L160.03 139.47" stroke="#000" stroke-width="1" fill="none"/>
<path d="M200.06 135.48L206.05 150.31M205.3 148.46L201.86 151.35" stroke="#000" stroke-width="1" fill="none"/>
<path d="M224.62 135.48L218.62 150.31M219.37 148.46L214.88 148.15" stroke="#000" stroke-width="1" fill="none"/>
<path d="M249.17 135.48L240.23 148.74M241.35 147.09L237.02 145.85" stroke="#000" stroke-width="1" fill="none"/>
<path d="M273.73 135.48L259.6 142.99M261.37 142.05L258.13 138.93" stroke="#000" stroke-width="1" fill="none"/>
<path d="M298.29 135.48L284.43 143.48M286.17 142.48L282.82 139.47" stroke="#000" stroke-width="1" fill="none"/>
<path d="M322.85 135.48L307.09 138.26M309.06 137.91L306.95 133.94" stroke="#000" stroke-width="1" fill="none"/>
<path d="M347.41 135.48L331.82 131.88M333.76 132.33L333.37 127.85" stroke="#000" stroke-width="1" fill="none"/>
<path d="M371.96 135.48L356.21 132.7M358.18 133.05L357.55 128.59" stroke="#000" stroke-width="1" fill="none"/>
<path d="M396.52 135.48L381.07 131.34M383 131.86L382.76 127.36" stroke="#000" stroke-width="1" fill="none"/>
<path d="M421.08 135.48L405.95 140.69M407.84 140.04L405.13 136.44" stroke="#000" stroke-width="1" fill="none"/>
<path d="M445.64 135.48L431.26 142.49M433.05 141.62L429.93 138.38" stroke="#000" stroke-width="1" fill="none"/>
<path d="M470.2 135.48L454.39 132.98M456.37 133.29L455.66 128.85" stroke="#000" stroke-width="1" fill="none"/>
<path d="M494.75 135.48L479.63 130.27M481.52 130.92L481.6 126.42" stroke="#000" stroke-width="1" fill="none"/>
<path d="M519.31 135.48L505.18 142.99M506.95 142.05L503.71 138.93" stroke="#000" stroke-width="1" fill="none"/>
<path d="M543.87 135.48L528.07 137.98M530.04 137.67L528 133.66" stroke="#000" stroke-width="1" fill="none"/>
<path d="M568.43 135.48L553.93 128.72M555.74 129.56L556.29 125.1" stroke="#000" stroke-width="1" fill="none"/>
<path d="M592.99 135.48L577.86 130.27M579.75 130.92L579.83 126.42" stroke="#000" stroke-width="1" fill="none"/>
<path d="M617.54 135.48L601.79 132.7M603.76 133.05L603.13 128.59" stroke="#000" stroke-width="1" fill="none"/>
<path d="M642.1 135.48L627.72 128.47M629.52 129.34L630.15 124.89" stroke="#000" stroke-width="1" fill="none"/>
<path d="M666.66 135.48L656.38 123.22M657.66 124.76L660.05 120.94" stroke="#000" stroke-width="1" fill="none"/>
<path d="M691.22 135.48L680.72 123.4M682.03 124.91L684.35 121.06" stroke="#000" stroke-width="1" fill="none"/>
<path d="M715.78 135.48L701.28 128.72M703.09 129.56L703.64 125.1" stroke="#000" stroke-width="1" fill="none"/>
<path d="M740.33 135.48L724.42 133.81M726.41 134.02L725.48 129.61" stroke="#000" stroke-width="1" fill="none"/>
<path d="M764.89 135.48L750.9 127.72M752.65 128.69L753.51 124.28" stroke="#000" stroke-width="1" fill="none"/>
<path d="M789.45 135.48L774.07 131.07M775.99 131.62L775.84 127.12" stroke="#000" stroke-width="1" fill="none"/>
<path d="M814.01 135.48L798.36 138.81M800.31 138.39L798.06 134.49" stroke="#000" stroke-width="1" fill="none"/>
<path d="M838.57 135.48L822.59 136.32M824.59 136.21L822.97 132.01" stroke="#000" stroke-width="1" fill="none"/>
<path d="M863.12 135.48L849.13 127.72M850.88 128.69L851.74 124.28" stroke="#000" stroke-width="1" fill="none"/>
<path d="M887.68 135.48L873.83 127.48M875.56 128.48L876.49 124.08" stroke="#000" stroke-width="1" fill="none"/>
<path d="M912.24 135.48L899.98 125.2M901.52 126.48L903.2 122.31" stroke="#000" stroke-width="1" fill="none"/>
<path d="M936.8 135.48L926.3 123.4M927.61 124.91L929.93 121.06" stroke="#000" stroke-width="1" fill="none"/>
<path d="M961.36 135.48L962.19 119.5M962.09 121.5L966.44 120.33" stroke="#000" stroke-width="1" fill="none"/>
<path d="M985.91 135.48L990.32 120.1M989.77 122.02L994.27 121.87" stroke="#000" stroke-width="1" fill="none"/>
<path d="M1010.47 135.48L1015.15 120.18M1014.57 122.09L1019.06 122.01" stroke="#000" stroke-width="1" fill="none"/>
<path d="M1035.03 135.48L1040.5 120.44M1039.82 122.32L1044.32 122.48" stroke="#000" stroke-width="1" fill="none"/>
<path d="M1059.59 135.48L1062.91 119.83M1062.5 121.79L1066.97 121.32" stroke="#000" stroke-width="1" fill="none"/>
<path d="M1084.15 135.48L1088.29 120.03M1087.77 121.96L1092.26 121.72" stroke="#000" stroke-width="1" fill="none"/>
<path d="M126.38 167.56L127.5 151.6M127.36 153.59L131.73 152.51" stroke="#000" stroke-width="1" fill="none"/>
<path d="M150.94 167.56L155.35 182.94M154.8 181.02L151.07 183.53" stroke="#000" stroke-width="1" fill="none"/>
<path d="M175.5 167.56L173.55 183.44M173.79 181.46L169.38 182.31" stroke="#000" stroke-width="1" fill="none"/>
<path d="M200.06 167.56L209.69 180.34M208.48 178.74L205.9 182.43" stroke="#000" stroke-width="1" fill="none"/>
<path d="M224.62 167.56L232.62 181.42M231.62 179.68L228.6 183.03" stroke="#000" stroke-width="1" fill="none"/>
<path d="M249.17 167.56L246.95 183.4M247.23 181.42L242.79 182.21" stroke="#000" stroke-width="1" fill="none"/>
<path d="M273.73 167.56L258.35 171.97M260.27 171.42L257.76 167.69" stroke="#000" stroke-width="1" fill="none"/>
<path d="M298.29 167.56L283.07 162.62M284.98 163.23L284.98 158.73" stroke="#000" stroke-width="1" fill="none"/>
<path d="M322.85 167.56L306.91 168.95M308.9 168.78L307.14 164.64" stroke="#000" stroke-width="1" fill="none"/>
<path d="M347.41 167.56L331.41 167.56M333.41 167.56L332.02 163.28" stroke="#000" stroke-width="1" fill="none"/>
<path d="M371.96 167.56L356.21 164.78M358.18 165.13L357.55 160.67" stroke="#000" stroke-width="1" fill="none"/>
<path d="M396.52 167.56L391.05 152.52M391.73 154.4L395.28 151.63" stroke="#000" stroke-width="1" fill="none"/>
<path d="M421.08 167.56L421.92 151.58M421.81 153.58L426.16 152.41" stroke="#000" stroke-width="1" fill="none"/>
<path d="M445.64 167.56L431.38 174.82M433.16 173.92L429.98 170.73" stroke="#000" stroke-width="1" fill="none"/>
<path d="M470.2 167.56L454.26 168.95M456.25 168.78L454.49 164.64" stroke="#000" stroke-width="1" fill="none"/>
<path d="M494.75 167.56L485.81 154.3M486.93 155.95L489.7 152.41" stroke="#000" stroke-width="1" fill="none"/>
<path d="M519.31 167.56L503.32 168.12M505.32 168.05L503.78 163.82" stroke="#000" stroke-width="1" fill="none"/>
<path d="M543.87 167.56L528.35 171.43M530.29 170.95L527.9 167.13" stroke="#000" stroke-width="1" fill="none"/>
<path d="M568.43 167.56L554.57 159.56M556.3 160.56L557.24 156.16" stroke="#000" stroke-width="1" fill="none"/>
<path d="M592.99 167.56L579.57 158.85M581.24 159.94L582.41 155.59" stroke="#000" stroke-width="1" fill="none"/>
<path d="M617.54 167.56L602.82 161.31M604.66 162.09L605.05 157.61" stroke="#000" stroke-width="1" fill="none"/>
<path d="M642.1 167.56L627.6 160.8M629.41 161.64L629.96 157.18" stroke="#000" stroke-width="1" fill="none"/>
<path d="M666.66 167.56L654.96 156.65M656.42 158.01L658.32 153.93" stroke="#000" stroke-width="1" fill="none"/>
<path d="M691.22 167.56L681.81 154.62M682.99 156.23L685.63 152.59" stroke="#000" stroke-width="1" fill="none"/>
<path d="M715.78 167.56L703.34 157.49M704.9 158.75L706.51 154.55" stroke="#000" stroke-width="1" fill="none"/>
<path d="M740.33 167.56L725.03 162.88M726.95 163.47L726.87 158.97" stroke="#000" stroke-width="1" fill="none"/>
<path d="M764.89 167.56L750.39 160.8M752.2 161.64L752.75 157.18" stroke="#000" stroke-width="1" fill="none"/>
<path d="M789.45 167.56L775.46 159.8M777.21 160.77L778.06 156.36" stroke="#000" stroke-width="1" fill="none"/>
<path d="M814.01 167.56L798.55 163.42M800.49 163.94L800.25 159.44" stroke="#000" stroke-width="1" fill="none"/>
<path d="M838.57 167.56L824.57 159.8M826.32 160.77L827.18 156.36" stroke="#000" stroke-width="1" fill="none"/>
<path d="M863.12 167.56L848.87 160.3M850.65 161.2L851.35 156.76" stroke="#000" stroke-width="1" fill="none"/>
<path d="M887.68 167.56L873.83 159.56M875.56 160.56L876.49 156.16" stroke="#000" stroke-width="1" fill="none"/>
<path d="M912.24 167.56L900.35 156.85M901.84 158.19L903.67 154.08" stroke="#000" stroke-width="1" fill="none"/>
<path d="M936.8 167.56L932.39 152.18M932.94 154.1L936.67 151.59" stroke="#000" stroke-width="1" fill="none"/>
<path d="M961.36 167.56L963.03 151.65M962.82 153.64L967.22 152.7" stroke="#000" stroke-width="1" fill="none"/>
<path d="M985.91 167.56L993.67 153.57M992.7 155.32L997.12 156.17" stroke="#000" stroke-width="1" fill="none"/>
<path d="M1010.47 167.56L1019.42 154.3M1018.3 155.95L1022.63 157.19" stroke="#000" stroke-width="1" fill="none"/>
<path d="M1035.03 167.56L1043.98 154.3M1042.86 155.95L1047.18 157.19" stroke="#000" stroke-width="1" fill="none"/>
<path d="M1059.59 167.56L1068.3 154.14M1067.21 155.82L1071.56 156.98" stroke="#000" stroke-width="1" fill="none"/>
<path d="M1084.15 167.56L1092.62 153.99M1091.56 155.69L1095.93 156.78" stroke="#000" stroke-width="1" fill="none"/>
<path d="M126.38 199.64L110.38 199.64M112.38 199.64L110.99 195.36" stroke="#000" stroke-width="1" fill="none"/>
<path d="M150.94 199.64L134.94 199.64M136.94 199.64L135.55 195.36" stroke="#000" stroke-width="1" fill="none"/>
<path d="M175.5 199.64L160.37 194.43M162.26 195.08L162.34 190.58" stroke="#000" stroke-width="1" fill="none"/>
<path d="M200.06 199.64L209.24 186.53M208.09 188.17L212.39 189.49" stroke="#000" stroke-width="1" fill="none"/>
<path d="M224.62 199.64L233.79 212.75M232.65 211.11L229.94 214.7" stroke="#000" stroke-width="1" fill="none"/>
<path d="M249.17 199.64L241.66 213.77M242.6 212L238.17 211.22" stroke="#000" stroke-width="1" fill="none"/>
<path d="M273.73 199.64L259.35 192.63M261.15 193.5L261.78 189.05" stroke="#000" stroke-width="1" fill="none"/>
<path d="M298.29 199.64L289.11 186.53M290.26 188.17L292.97 184.58" stroke="#000" stroke-width="1" fill="none"/>
<path d="M322.85 199.64L322.85 183.64M322.85 185.64L327.13 184.25" stroke="#000" stroke-width="1" fill="none"/>
<path d="M347.41 199.64L331.56 197.41M333.54 197.69L332.76 193.26" stroke="#000" stroke-width="1" fill="none"/>
<path d="M371.96 199.64L359.53 189.57M361.08 190.83L362.7 186.63" stroke="#000" stroke-width="1" fill="none"/>
<path d="M396.52 199.64L400.66 184.19M400.15 186.12L404.64 185.88" stroke="#000" stroke-width="1" fill="none"/>
<path d="M421.08 199.64L432.78 188.73M431.32 190.09L435.25 192.27" stroke="#000" stroke-width="1" fill="none"/>
<path d="M445.64 199.64L456.95 188.33M455.54 189.74L459.55 191.78" stroke="#000" stroke-width="1" fill="none"/>
<path d="M470.2 199.64L455.36 193.65M457.22 194.4L457.53 189.91" stroke="#000" stroke-width="1" fill="none"/>
<path d="M494.75 199.64L493.64 183.68M493.78 185.67L497.95 183.99" stroke="#000" stroke-width="1" fill="none"/>
<path d="M519.31 199.64L521.81 183.84M521.5 185.81L525.95 185.11" stroke="#000" stroke-width="1" fill="none"/>
<path d="M543.87 199.64L527.93 198.25M529.92 198.42L528.91 194.04" stroke="#000" stroke-width="1" fill="none"/>
<path d="M568.43 199.64L555.65 190.01M557.25 191.21L558.71 186.96" stroke="#000" stroke-width="1" fill="none"/>
<path d="M592.99 199.64L585.97 185.26M586.85 187.06L590.09 183.93" stroke="#000" stroke-width="1" fill="none"/>
<path d="M617.54 199.64L604.44 190.46M606.08 191.61L607.39 187.31" stroke="#000" stroke-width="1" fill="none"/>
<path d="M642.1 199.64L628.39 191.4M630.1 192.43L631.11 188.04" stroke="#000" stroke-width="1" fill="none"/>
<path d="M666.66 199.64L657.48 186.53M658.63 188.17L661.34 184.58" stroke="#000" stroke-width="1" fill="none"/>
<path d="M691.22 199.64L685.75 184.6M686.43 186.48L689.98 183.71" stroke="#000" stroke-width="1" fill="none"/>
<path d="M715.78 199.64L709.78 184.81M710.53 186.66L713.98 183.77" stroke="#000" stroke-width="1" fill="none"/>
<path d="M740.33 199.64L730.05 187.38M731.33 188.92L733.72 185.1" stroke="#000" stroke-width="1" fill="none"/>
<path d="M764.89 199.64L757.14 185.65M758.1 187.4L761.17 184.1" stroke="#000" stroke-width="1" fill="none"/>
<path d="M789.45 199.64L783.46 184.81M784.21 186.66L787.65 183.77" stroke="#000" stroke-width="1" fill="none"/>
<path d="M814.01 199.64L806.99 185.26M807.87 187.06L811.11 183.93" stroke="#000" stroke-width="1" fill="none"/>
<path d="M838.57 199.64L834.16 184.26M834.71 186.18L838.44 183.67" stroke="#000" stroke-width="1" fill="none"/>
<path d="M863.12 199.64L854.41 186.22M855.5 187.9L858.33 184.4" stroke="#000" stroke-width="1" fill="none"/>
<path d="M887.68 199.64L889.91 183.8M889.63 185.78L894.06 184.99" stroke="#000" stroke-width="1" fill="none"/>
<path d="M912.24 199.64L915.29 183.93M914.91 185.9L919.38 185.35" stroke="#000" stroke-width="1" fill="none"/>
<path d="M936.8 199.64L934.85 183.76M935.09 185.74L939.17 183.84" stroke="#000" stroke-width="1" fill="none"/>
<path d="M961.36 199.64L963.31 183.76M963.06 185.74L967.48 184.89" stroke="#000" stroke-width="1" fill="none"/>
<path d="M985.91 199.64L993.43 185.51M992.49 187.28L996.92 188.06" stroke="#000" stroke-width="1" fill="none"/>
<path d="M1010.47 199.64L1025.09 193.13M1023.26 193.95L1026.27 197.29" stroke="#000" stroke-width="1" fill="none"/>
<path d="M1035.03 199.64L1049.16 192.13M1047.39 193.07L1050.63 196.19" stroke="#000" stroke-width="1" fill="none"/>
<path d="M1059.59 199.64L1069.87 187.38M1068.59 188.92L1072.76 190.6" stroke="#000" stroke-width="1" fill="none"/>
<path d="M1084.15 199.64L1096.92 190.01M1095.33 191.21L1099.01 193.8" stroke="#000" stroke-width="1" fill="none"/>
<path d="M126.38 231.72L111.26 226.51M113.15 227.16L113.23 222.66" stroke="#000" stroke-width="1" fill="none"/>
<path d="M150.94 231.72L135.81 226.51M137.7 227.16L137.78 222.66" stroke="#000" stroke-width="1" fill="none"/>
<path d="M175.5 231.72L160.46 226.25M162.34 226.93L162.5 222.43" stroke="#000" stroke-width="1" fill="none"/>
<path d="M200.06 231.72L193.3 217.22M194.14 219.03L197.43 215.96" stroke="#000" stroke-width="1" fill="none"/>
<path d="M224.62 231.72L208.97 228.39M210.92 228.81L210.45 224.33" stroke="#000" stroke-width="1" fill="none"/>
<path d="M249.17 231.72L234.45 225.47M236.29 226.25L236.68 221.77" stroke="#000" stroke-width="1" fill="none"/>
<path d="M273.73 231.72L264.33 218.78M265.5 220.39L268.15 216.75" stroke="#000" stroke-width="1" fill="none"/>
<path d="M298.29 231.72L295.51 215.96M295.86 217.93L299.83 215.82" stroke="#000" stroke-width="1" fill="none"/>
<path d="M322.85 231.72L337.35 224.96M335.54 225.8L338.61 229.09" stroke="#000" stroke-width="1" fill="none"/>
<path d="M347.41 231.72L331.95 227.58M333.88 228.1L333.65 223.6" stroke="#000" stroke-width="1" fill="none"/>
<path d="M371.96 231.72L365.71 216.99M366.49 218.83L369.89 215.88" stroke="#000" stroke-width="1" fill="none"/>
<path d="M396.52 231.72L404.76 218.01M403.73 219.72L408.12 220.73" stroke="#000" stroke-width="1" fill="none"/>
<path d="M421.08 231.72L435.81 225.47M433.97 226.25L436.92 229.65" stroke="#000" stroke-width="1" fill="none"/>
<path d="M445.64 231.72L455.04 218.78M453.87 220.39L458.15 221.78" stroke="#000" stroke-width="1" fill="none"/>
<path d="M470.2 231.72L465.79 216.34M466.34 218.26L470.07 215.75" stroke="#000" stroke-width="1" fill="none"/>
<path d="M494.75 231.72L495.59 215.74M495.49 217.74L499.83 216.57" stroke="#000" stroke-width="1" fill="none"/>
<path d="M519.31 231.72L519.31 215.72M519.31 217.72L523.59 216.33" stroke="#000" stroke-width="1" fill="none"/>
<path d="M543.87 231.72L531.26 221.87M532.84 223.1L534.38 218.87" stroke="#000" stroke-width="1" fill="none"/>
<path d="M568.43 231.72L558.36 219.29M559.62 220.84L562.07 217.07" stroke="#000" stroke-width="1" fill="none"/>
<path d="M592.99 231.72L592.71 215.72M592.74 217.72L597 216.26" stroke="#000" stroke-width="1" fill="none"/>
<path d="M617.54 231.72L613.13 216.34M613.69 218.26L617.42 215.75" stroke="#000" stroke-width="1" fill="none"/>
<path d="M642.1 231.72L630.99 220.21M632.38 221.65L634.49 217.68" stroke="#000" stroke-width="1" fill="none"/>
<path d="M666.66 231.72L661.98 216.42M662.57 218.33L666.25 215.75" stroke="#000" stroke-width="1" fill="none"/>
<path d="M691.22 231.72L693.44 215.88L701.82 214.4" stroke="#000" stroke-width="1" fill="none"/>
<path d="M715.78 231.72L719.92 216.27L728.41 215.82" stroke="#000" stroke-width="1" fill="none"/>
<path d="M740.33 231.72L742.84 215.92L751.23 214.59" stroke="#000" stroke-width="1" fill="none"/>
<path d="M764.89 231.72L762.94 215.84L770.65 212.25" stroke="#000" stroke-width="1" fill="none"/>
<path d="M789.45 231.72L791.68 215.88L800.05 214.4" stroke="#000" stroke-width="1" fill="none"/>
<path d="M814.01 231.72L817.33 216.07L825.79 215.18" stroke="#000" stroke-width="1" fill="none"/>
<path d="M838.57 231.72L844.56 216.89L853.04 217.48" stroke="#000" stroke-width="1" fill="none"/>
<path d="M863.12 231.72L865.63 215.92L874.02 214.59" stroke="#000" stroke-width="1" fill="none"/>
<path d="M887.68 231.72L894.95 217.46L903.34 218.79" stroke="#000" stroke-width="1" fill="none"/>
<path d="M912.24 231.72L921.19 218.46M920.07 220.11L924.39 221.35" stroke="#000" stroke-width="1" fill="none"/>
<path d="M936.8 231.72L948.87 221.22M947.36 222.54L951.22 224.85" stroke="#000" stroke-width="1" fill="none"/>
<path d="M961.36 231.72L964.13 215.96M963.79 217.93L968.24 217.31" stroke="#000" stroke-width="1" fill="none"/>
<path d="M985.91 231.72L995.76 219.11M994.53 220.69L998.76 222.23" stroke="#000" stroke-width="1" fill="none"/>
<path d="M1010.47 231.72L1025.31 225.73M1023.45 226.48L1026.35 229.92" stroke="#000" stroke-width="1" fill="none"/>
<path d="M1035.03 231.72L1049.86 225.73M1048.01 226.48L1050.9 229.92" stroke="#000" stroke-width="1" fill="none"/>
<path d="M1059.59 231.72L1072.2 221.87M1070.62 223.1L1074.35 225.62" stroke="#000" stroke-width="1" fill="none"/>
<path d="M1084.15 231.72L1097.25 222.54M1095.61 223.69L1099.21 226.4" stroke="#000" stroke-width="1" fill="none"/>
<path d="M126.38 263.8L111.35 269.27M113.23 268.59L110.46 265.04" stroke="#000" stroke-width="1" fill="none"/>
<path d="M150.94 263.8L135.19 261.02M137.15 261.37L136.53 256.91" stroke="#000" stroke-width="1" fill="none"/>
<path d="M175.5 263.8L160.67 257.81M162.52 258.56L162.83 254.07" stroke="#000" stroke-width="1" fill="none"/>
<path d="M200.06 263.8L188.36 252.89M189.82 254.25L191.72 250.17" stroke="#000" stroke-width="1" fill="none"/>
<path d="M224.62 263.8L210.76 255.8M212.49 256.8L213.43 252.4" stroke="#000" stroke-width="1" fill="none"/>
<path d="M249.17 263.8L237.1 253.3M238.61 254.62L240.37 250.47" stroke="#000" stroke-width="1" fill="none"/>
<path d="M273.73 263.8L263.88 251.19M265.11 252.77L267.63 249.04" stroke="#000" stroke-width="1" fill="none"/>
<path d="M298.29 263.8L300.52 247.96M300.24 249.94L304.67 249.15" stroke="#000" stroke-width="1" fill="none"/>
<path d="M322.85 263.8L333.76 252.1M332.4 253.56L336.47 255.46" stroke="#000" stroke-width="1" fill="none"/>
<path d="M347.41 263.8L359.11 252.89M357.64 254.25L361.58 256.43" stroke="#000" stroke-width="1" fill="none"/>
<path d="M371.96 263.8L372.8 247.82M372.7 249.82L377.04 248.65" stroke="#000" stroke-width="1" fill="none"/>
<path d="M396.52 263.8L407.23 251.91M405.89 253.4L410 255.23" stroke="#000" stroke-width="1" fill="none"/>
<path d="M421.08 263.8L433.51 253.73M431.96 254.99L435.73 257.44" stroke="#000" stroke-width="1" fill="none"/>
<path d="M445.64 263.8L455.49 251.19M454.26 252.77L458.49 254.31" stroke="#000" stroke-width="1" fill="none"/>
<path d="M470.2 263.8L472.15 247.92M471.9 249.9L476.32 249.05" stroke="#000" stroke-width="1" fill="none"/>
<path d="M494.75 263.8L499.7 248.58M499.08 250.49L503.58 250.49" stroke="#000" stroke-width="1" fill="none"/>
<path d="M519.31 263.8L516.26 248.09M516.64 250.06L520.58 247.88" stroke="#000" stroke-width="1" fill="none"/>
<path d="M543.87 263.8L540.54 248.15M540.96 250.11L544.86 247.86" stroke="#000" stroke-width="1" fill="none"/>
<path d="M568.43 263.8L563.22 248.67M563.87 250.56L567.46 247.85" stroke="#000" stroke-width="1" fill="none"/>
<path d="M592.99 263.8L594.94 247.92M594.69 249.9L599.11 249.05" stroke="#000" stroke-width="1" fill="none"/>
<path d="M617.54 263.8L620.32 248.04M619.98 250.01L624.43 249.39" stroke="#000" stroke-width="1" fill="none"/>
<path d="M642.1 263.8L644.88 248.04M644.53 250.01L648.99 249.39" stroke="#000" stroke-width="1" fill="none"/>
<path d="M666.66 263.8L664.43 247.96M664.71 249.94L668.76 247.96" stroke="#000" stroke-width="1" fill="none"/>
<path d="M691.22 263.8L694 248.04L702.41 246.86" stroke="#000" stroke-width="1" fill="none"/>
<path d="M715.78 263.8L719.65 248.28L728.13 247.68" stroke="#000" stroke-width="1" fill="none"/>
<path d="M740.33 263.8L746.07 248.86L754.56 249.31" stroke="#000" stroke-width="1" fill="none"/>
<path d="M764.89 263.8L765.73 247.82L773.94 245.62" stroke="#000" stroke-width="1" fill="none"/>
<path d="M789.45 263.8L792.23 248.04L800.65 246.86" stroke="#000" stroke-width="1" fill="none"/>
<path d="M814.01 263.8L822.25 250.09L830.53 252" stroke="#000" stroke-width="1" fill="none"/>
<path d="M838.57 263.8L850.08 252.69L857.58 256.68" stroke="#000" stroke-width="1" fill="none"/>
<path d="M863.12 263.8L868.86 248.86L877.35 249.31" stroke="#000" stroke-width="1" fill="none"/>
<path d="M887.68 263.8L894.95 249.54L903.34 250.87" stroke="#000" stroke-width="1" fill="none"/>
<path d="M912.24 263.8L923.55 252.49L931.13 256.35" stroke="#000" stroke-width="1" fill="none"/>
<path d="M936.8 263.8L949.05 253.52L956.26 258.02" stroke="#000" stroke-width="1" fill="none"/>
<path d="M961.36 263.8L968.37 249.42L976.79 250.6" stroke="#000" stroke-width="1" fill="none"/>
<path d="M985.91 263.8L998.35 253.73L1005.48 258.36" stroke="#000" stroke-width="1" fill="none"/>
<path d="M1010.47 263.8L1024.97 257.04L1030.77 263.25" stroke="#000" stroke-width="1" fill="none"/>
<path d="M1035.03 263.8L1050.48 259.66L1055.11 266.79" stroke="#000" stroke-width="1" fill="none"/>
<path d="M1059.59 263.8L1074.53 258.07L1079.87 264.67" stroke="#000" stroke-width="1" fill="none"/>
<path d="M1084.15 263.8L1098.4 256.54L1104.41 262.55" stroke="#000" stroke-width="1" fill="none"/>
<path d="M150.94 295.88L138.33 286.03M139.91 287.26L141.45 283.03" stroke="#000" stroke-width="1" fill="none"/>
<path d="M175.5 295.88L161.37 288.37M163.14 289.31L163.92 284.88" stroke="#000" stroke-width="1" fill="none"/>
<path d="M200.06 295.88L187.45 286.03M189.03 287.26L190.56 283.03" stroke="#000" stroke-width="1" fill="none"/>
<path d="M224.62 295.88L210.49 288.37M212.25 289.31L213.04 284.88" stroke="#000" stroke-width="1" fill="none"/>
<path d="M249.17 295.88L248.06 279.92M248.2 281.91L252.37 280.23" stroke="#000" stroke-width="1" fill="none"/>
<path d="M273.73 295.88L277.6 280.36M277.12 282.3L281.61 281.98" stroke="#000" stroke-width="1" fill="none"/>
<path d="M298.29 295.88L309.6 284.57M308.19 285.98L312.2 288.02" stroke="#000" stroke-width="1" fill="none"/>
<path d="M322.85 295.88L332.7 283.27M331.47 284.85L335.7 286.39" stroke="#000" stroke-width="1" fill="none"/>
<path d="M347.41 295.88L357.69 283.62M356.41 285.16L360.58 286.84" stroke="#000" stroke-width="1" fill="none"/>
<path d="M371.96 295.88L379.48 281.75M378.54 283.52L382.97 284.3" stroke="#000" stroke-width="1" fill="none"/>
<path d="M396.52 295.88L405 282.31M403.94 284.01L408.31 285.1" stroke="#000" stroke-width="1" fill="none"/>
<path d="M421.08 295.88L429.56 282.31M428.5 284.01L432.87 285.1" stroke="#000" stroke-width="1" fill="none"/>
<path d="M445.64 295.88L454.12 282.31M453.06 284.01L457.42 285.1" stroke="#000" stroke-width="1" fill="none"/>
<path d="M470.2 295.88L480.05 283.27M478.82 284.85L483.04 286.39" stroke="#000" stroke-width="1" fill="none"/>
<path d="M494.75 295.88L502.27 281.75M501.33 283.52L505.76 284.3" stroke="#000" stroke-width="1" fill="none"/>
<path d="M519.31 295.88L514.63 280.58M515.22 282.49L518.9 279.91" stroke="#000" stroke-width="1" fill="none"/>
<path d="M543.87 295.88L548.28 280.5M547.73 282.42L552.23 282.27" stroke="#000" stroke-width="1" fill="none"/>
<path d="M568.43 295.88L576.67 282.17M575.64 283.88L580.02 284.89" stroke="#000" stroke-width="1" fill="none"/>
<path d="M592.99 295.88L599.49 281.26M598.68 283.09L603.16 283.56" stroke="#000" stroke-width="1" fill="none"/>
<path d="M617.54 295.88L623.8 281.15M623.01 282.99L627.5 283.39" stroke="#000" stroke-width="1" fill="none"/>
<path d="M642.1 295.88L649.37 281.62M648.46 283.41L652.9 284.11" stroke="#000" stroke-width="1" fill="none"/>
<path d="M666.66 295.88L667.5 279.9M667.39 281.9L671.74 280.73" stroke="#000" stroke-width="1" fill="none"/>
<path d="M691.22 295.88L695.63 280.5L704.12 280.2" stroke="#000" stroke-width="1" fill="none"/>
<path d="M715.78 295.88L721.51 280.94L730 281.39" stroke="#000" stroke-width="1" fill="none"/>
<path d="M740.33 295.88L747.1 281.38L755.53 282.41" stroke="#000" stroke-width="1" fill="none"/>
<path d="M764.89 295.88L769.3 280.5L777.8 280.2" stroke="#000" stroke-width="1" fill="none"/>
<path d="M789.45 295.88L795.96 281.26L804.41 282.15" stroke="#000" stroke-width="1" fill="none"/>
<path d="M814.01 295.88L824.08 283.45L832.01 286.49" stroke="#000" stroke-width="1" fill="none"/>
<path d="M838.57 295.88L850.08 284.77L857.58 288.76" stroke="#000" stroke-width="1" fill="none"/>
<path d="M863.12 295.88L873.62 283.8L881.45 287.13" stroke="#000" stroke-width="1" fill="none"/>
<path d="M887.68 295.88L897.09 282.94L905.17 285.56" stroke="#000" stroke-width="1" fill="none"/>
<path d="M912.24 295.88L924.13 285.17L931.49 289.42" stroke="#000" stroke-width="1" fill="none"/>
<path d="M936.8 295.88L948.69 285.17L956.05 289.42" stroke="#000" stroke-width="1" fill="none"/>
<path d="M961.36 295.88L971.64 283.62L979.52 286.81" stroke="#000" stroke-width="1" fill="none"/>
<path d="M985.91 295.88L997.99 285.38L1005.28 289.76" stroke="#000" stroke-width="1" fill="none"/>
<path d="M1010.47 295.88L1025.93 291.74L1030.56 298.87" stroke="#000" stroke-width="1" fill="none"/>
<path d="M1035.03 295.88L1050.55 292.01L1055.06 299.22" stroke="#000" stroke-width="1" fill="none"/>
<path d="M1059.59 295.88L1075.11 292.01L1079.62 299.22" stroke="#000" stroke-width="1" fill="none"/>
<path d="M1084.15 295.88L1099.36 290.94L1104.36 297.81" stroke="#000" stroke-width="1" fill="none"/>
<path d="M126.38 327.96L138.27 317.25M136.79 318.59L140.69 320.84" stroke="#000" stroke-width="1" fill="none"/>
<path d="M150.94 327.96L163.55 318.11M161.97 319.34L165.7 321.86" stroke="#000" stroke-width="1" fill="none"/>
<path d="M175.5 327.96L190.44 322.23M188.57 322.94L191.4 326.44" stroke="#000" stroke-width="1" fill="none"/>
<path d="M200.06 327.96L215.44 323.55M213.52 324.1L216.03 327.83" stroke="#000" stroke-width="1" fill="none"/>
<path d="M224.62 327.96L238.03 319.25M236.36 320.34L239.85 323.17" stroke="#000" stroke-width="1" fill="none"/>
<path d="M249.17 327.96L263.03 319.96M261.3 320.96L264.64 323.97" stroke="#000" stroke-width="1" fill="none"/>
<path d="M273.73 327.96L289.32 324.36M287.37 324.81L289.69 328.67" stroke="#000" stroke-width="1" fill="none"/>
<path d="M298.29 327.96L312 319.72M310.29 320.75L313.69 323.7" stroke="#000" stroke-width="1" fill="none"/>
<path d="M322.85 327.96L332.92 315.53M331.66 317.08L335.86 318.69" stroke="#000" stroke-width="1" fill="none"/>
<path d="M347.41 327.96L355.65 314.25M354.62 315.96L359 316.97" stroke="#000" stroke-width="1" fill="none"/>
<path d="M371.96 327.96L382.46 315.88M381.15 317.39L385.29 319.15" stroke="#000" stroke-width="1" fill="none"/>
<path d="M396.52 327.96L405.7 314.85M404.55 316.49L408.86 317.81" stroke="#000" stroke-width="1" fill="none"/>
<path d="M421.08 327.96L428.59 313.83M427.65 315.6L432.08 316.38" stroke="#000" stroke-width="1" fill="none"/>
<path d="M445.64 327.96L454.35 314.54M453.26 316.22L457.61 317.38" stroke="#000" stroke-width="1" fill="none"/>
<path d="M470.2 327.96L481.11 316.26M479.74 317.72L483.82 319.62" stroke="#000" stroke-width="1" fill="none"/>
<path d="M494.75 327.96L507.01 317.68M505.48 318.96L509.29 321.35" stroke="#000" stroke-width="1" fill="none"/>
<path d="M519.31 327.96L519.31 311.96M519.31 313.96L523.59 312.57" stroke="#000" stroke-width="1" fill="none"/>
<path d="M543.87 327.96L552.35 314.39M551.29 316.09L555.66 317.18" stroke="#000" stroke-width="1" fill="none"/>
<path d="M568.43 327.96L581.21 318.33M579.61 319.53L583.3 322.12" stroke="#000" stroke-width="1" fill="none"/>
<path d="M592.99 327.96L608.99 327.96M606.99 327.96L608.38 332.24" stroke="#000" stroke-width="1" fill="none"/>
<path d="M617.54 327.96L623.54 313.13M622.79 314.98L627.28 315.29" stroke="#000" stroke-width="1" fill="none"/>
<path d="M642.1 327.96L650.34 314.25M649.31 315.96L653.7 316.97" stroke="#000" stroke-width="1" fill="none"/>
<path d="M666.66 327.96L676.94 315.7M675.66 317.24L679.83 318.92" stroke="#000" stroke-width="1" fill="none"/>
<path d="M691.22 327.96L700.62 315.02M699.45 316.63L703.73 318.02" stroke="#000" stroke-width="1" fill="none"/>
<path d="M715.78 327.96L726.06 315.7M724.78 317.24L728.95 318.92" stroke="#000" stroke-width="1" fill="none"/>
<path d="M740.33 327.96L749.96 315.18M748.76 316.78L753.01 318.24" stroke="#000" stroke-width="1" fill="none"/>
<path d="M764.89 327.96L772.4 313.83M771.46 315.6L775.9 316.38" stroke="#000" stroke-width="1" fill="none"/>
<path d="M789.45 327.96L798.4 314.7M797.28 316.35L801.6 317.59" stroke="#000" stroke-width="1" fill="none"/>
<path d="M814.01 327.96L826.26 317.68M824.73 318.96L828.55 321.35" stroke="#000" stroke-width="1" fill="none"/>
<path d="M838.57 327.96L850.27 317.05M848.8 318.41L852.74 320.59" stroke="#000" stroke-width="1" fill="none"/>
<path d="M863.12 327.96L875.2 317.46M873.69 318.78L877.55 321.09" stroke="#000" stroke-width="1" fill="none"/>
<path d="M887.68 327.96L899.57 317.25M898.09 318.59L901.98 320.84" stroke="#000" stroke-width="1" fill="none"/>
<path d="M912.24 327.96L926.37 320.45L932.48 326.35" stroke="#000" stroke-width="1" fill="none"/>
<path d="M936.8 327.96L949.23 317.89L956.36 322.52" stroke="#000" stroke-width="1" fill="none"/>
<path d="M961.36 327.96L974.46 318.78L981.25 323.9" stroke="#000" stroke-width="1" fill="none"/>
<path d="M985.91 327.96L999.33 319.25L1005.94 324.59" stroke="#000" stroke-width="1" fill="none"/>
<path d="M1010.47 327.96L1026 324.09L1030.5 331.3" stroke="#000" stroke-width="1" fill="none"/>
<path d="M1035.03 327.96L1049.97 322.23L1055.32 328.83" stroke="#000" stroke-width="1" fill="none"/>
<path d="M1059.59 327.96L1075.18 324.36L1079.56 331.65" stroke="#000" stroke-width="1" fill="none"/>
<path d="M1084.15 327.96L1100.03 326.01L1103.62 333.71" stroke="#000" stroke-width="1" fill="none"/>
<path d="M126.38 360.04L137.7 348.73M136.28 350.14L140.29 352.18" stroke="#000" stroke-width="1" fill="none"/>
<path d="M150.94 360.04L163.55 350.19M161.97 351.42L165.7 353.94" stroke="#000" stroke-width="1" fill="none"/>
<path d="M175.5 360.04L190.44 354.31M188.57 355.02L191.4 358.52" stroke="#000" stroke-width="1" fill="none"/>
<path d="M200.06 360.04L215.76 356.99M213.8 357.37L215.98 361.3" stroke="#000" stroke-width="1" fill="none"/>
<path d="M224.62 360.04L237.56 350.64M235.94 351.81L239.58 354.46" stroke="#000" stroke-width="1" fill="none"/>
<path d="M249.17 360.04L262.74 351.56L269.25 357.02" stroke="#000" stroke-width="1" fill="none"/>
<path d="M273.73 360.04L288.67 354.31L294.02 360.91" stroke="#000" stroke-width="1" fill="none"/>
<path d="M298.29 360.04L314 356.99M312.03 357.37L314.21 361.3" stroke="#000" stroke-width="1" fill="none"/>
<path d="M322.85 360.04L333.76 348.34M332.4 349.8L336.47 351.7" stroke="#000" stroke-width="1" fill="none"/>
<path d="M347.41 360.04L357.26 347.43M356.03 349.01L360.25 350.55" stroke="#000" stroke-width="1" fill="none"/>
<path d="M371.96 360.04L384.91 350.64L391.78 355.63" stroke="#000" stroke-width="1" fill="none"/>
<path d="M396.52 360.04L409.47 350.64L416.34 355.63" stroke="#000" stroke-width="1" fill="none"/>
<path d="M421.08 360.04L428.59 345.91M427.65 347.68L432.08 348.46" stroke="#000" stroke-width="1" fill="none"/>
<path d="M445.64 360.04L455.92 347.78M454.64 349.32L458.81 351" stroke="#000" stroke-width="1" fill="none"/>
<path d="M470.2 360.04L483.14 350.64L490.02 355.63" stroke="#000" stroke-width="1" fill="none"/>
<path d="M494.75 360.04L509.48 353.79L515.06 360.2" stroke="#000" stroke-width="1" fill="none"/>
<path d="M519.31 360.04L519.31 344.04M519.31 346.04L523.59 344.65" stroke="#000" stroke-width="1" fill="none"/>
<path d="M543.87 360.04L553.5 347.26M552.3 348.86L556.55 350.32" stroke="#000" stroke-width="1" fill="none"/>
<path d="M568.43 360.04L582.93 353.28M581.12 354.12L584.19 357.41" stroke="#000" stroke-width="1" fill="none"/>
<path d="M592.99 360.04L608.74 362.82M606.77 362.47L607.4 366.93" stroke="#000" stroke-width="1" fill="none"/>
<path d="M617.54 360.04L623.54 345.21M622.79 347.06L627.28 347.37" stroke="#000" stroke-width="1" fill="none"/>
<path d="M642.1 360.04L652.17 347.61M650.91 349.16L655.11 350.77" stroke="#000" stroke-width="1" fill="none"/>
<path d="M666.66 360.04L681.39 353.79M679.55 354.57L682.5 357.97" stroke="#000" stroke-width="1" fill="none"/>
<path d="M691.22 360.04L707.22 360.04L709.84 368.12" stroke="#000" stroke-width="1" fill="none"/>
<path d="M715.78 360.04L727.09 348.73M725.68 350.14L729.69 352.18" stroke="#000" stroke-width="1" fill="none"/>
<path d="M740.33 360.04L752.04 349.13M750.57 350.49L754.51 352.67" stroke="#000" stroke-width="1" fill="none"/>
<path d="M764.89 360.04L778.75 352.04L785.07 357.73" stroke="#000" stroke-width="1" fill="none"/>
<path d="M789.45 360.04L804.39 354.31L809.74 360.91" stroke="#000" stroke-width="1" fill="none"/>
<path d="M814.01 360.04L827.86 352.04L834.18 357.73" stroke="#000" stroke-width="1" fill="none"/>
<path d="M838.57 360.04L851.83 351.09M850.17 352.21L853.72 354.98" stroke="#000" stroke-width="1" fill="none"/>
<path d="M863.12 360.04L878.06 354.31L883.41 360.91" stroke="#000" stroke-width="1" fill="none"/>
<path d="M887.68 360.04L903.67 359.48L906.58 367.47" stroke="#000" stroke-width="1" fill="none"/>
<path d="M912.24 360.04L927.54 355.36L932.42 362.32" stroke="#000" stroke-width="1" fill="none"/>
<path d="M936.8 360.04L950.37 351.56L956.88 357.02" stroke="#000" stroke-width="1" fill="none"/>
<path d="M961.36 360.04L976.88 356.17L981.39 363.38" stroke="#000" stroke-width="1" fill="none"/>
<path d="M985.91 360.04L1001.72 357.54L1005.58 365.11" stroke="#000" stroke-width="1" fill="none"/>
<path d="M1010.47 360.04L1026.23 357.26L1030.22 364.77" stroke="#000" stroke-width="1" fill="none"/>
<path d="M1035.03 360.04L1049.41 353.03L1055.32 359.14" stroke="#000" stroke-width="1" fill="none"/>
<path d="M1059.59 360.04L1075.24 356.71L1079.49 364.07" stroke="#000" stroke-width="1" fill="none"/>
<path d="M1084.15 360.04L1100.15 360.04L1102.77 368.12" stroke="#000" stroke-width="1" fill="none"/>
<path d="M126.38 376.08L137.3 364.38M135.93 365.84L140.01 367.74" stroke="#000" stroke-width="1" fill="none"/>
<path d="M150.94 376.08L163.2 365.8L170.41 370.3" stroke="#000" stroke-width="1" fill="none"/>
<path d="M175.5 376.08L189.63 368.57L195.74 374.47" stroke="#000" stroke-width="1" fill="none"/>
<path d="M200.06 376.08L215.9 373.85L219.63 381.49" stroke="#000" stroke-width="1" fill="none"/>
<path d="M224.62 376.08L236.87 365.8M235.34 367.08L239.16 369.47" stroke="#000" stroke-width="1" fill="none"/>
<path d="M249.17 376.08L261.78 366.23L268.83 370.98" stroke="#000" stroke-width="1" fill="none"/>
<path d="M273.73 376.08L288.23 369.32L294.03 375.53" stroke="#000" stroke-width="1" fill="none"/>
<path d="M298.29 376.08L314.17 374.13L317.76 381.83" stroke="#000" stroke-width="1" fill="none"/>
<path d="M322.85 376.08L333.76 364.38M332.4 365.84L336.47 367.74" stroke="#000" stroke-width="1" fill="none"/>
<path d="M347.41 376.08L357.69 363.82M356.41 365.36L360.58 367.04" stroke="#000" stroke-width="1" fill="none"/>
<path d="M371.96 376.08L385.38 367.37L391.99 372.71" stroke="#000" stroke-width="1" fill="none"/>
<path d="M396.52 376.08L410.9 369.07L416.81 375.18" stroke="#000" stroke-width="1" fill="none"/>
<path d="M421.08 376.08L428.59 361.95M427.65 363.72L432.08 364.5" stroke="#000" stroke-width="1" fill="none"/>
<path d="M445.64 376.08L455.49 363.47M454.26 365.05L458.49 366.59" stroke="#000" stroke-width="1" fill="none"/>
<path d="M470.2 376.08L483.61 367.37L490.22 372.71" stroke="#000" stroke-width="1" fill="none"/>
<path d="M494.75 376.08L509.88 370.87L515 377.66" stroke="#000" stroke-width="1" fill="none"/>
<path d="M519.31 376.08L519.31 360.08M519.31 362.08L523.59 360.69" stroke="#000" stroke-width="1" fill="none"/>
<path d="M543.87 376.08L553.05 362.97M551.9 364.61L556.2 365.93" stroke="#000" stroke-width="1" fill="none"/>
<path d="M568.43 376.08L582.56 368.57M580.79 369.51L584.03 372.63" stroke="#000" stroke-width="1" fill="none"/>
<path d="M592.99 376.08L608.69 379.13M606.73 378.75L607.28 383.22" stroke="#000" stroke-width="1" fill="none"/>
<path d="M617.54 376.08L622.75 360.95M622.1 362.84L626.6 362.92" stroke="#000" stroke-width="1" fill="none"/>
<path d="M642.1 376.08L651.73 363.3M650.53 364.9L654.78 366.36" stroke="#000" stroke-width="1" fill="none"/>
<path d="M666.66 376.08L682.04 371.67M680.12 372.22L682.63 375.95" stroke="#000" stroke-width="1" fill="none"/>
<path d="M691.22 376.08L707.18 377.2L709.24 385.44" stroke="#000" stroke-width="1" fill="none"/>
<path d="M715.78 376.08L727.85 365.58M726.34 366.9L730.2 369.21" stroke="#000" stroke-width="1" fill="none"/>
<path d="M740.33 376.08L751.25 364.38M749.88 365.84L753.96 367.74" stroke="#000" stroke-width="1" fill="none"/>
<path d="M764.89 376.08L779.62 369.83L785.2 376.24" stroke="#000" stroke-width="1" fill="none"/>
<path d="M789.45 376.08L805.45 376.08L808.08 384.16" stroke="#000" stroke-width="1" fill="none"/>
<path d="M814.01 376.08L828.74 369.83L834.31 376.24" stroke="#000" stroke-width="1" fill="none"/>
<path d="M838.57 376.08L851.51 366.68M849.89 367.85L853.53 370.5" stroke="#000" stroke-width="1" fill="none"/>
<path d="M863.12 376.08L878.77 372.75L883.02 380.11" stroke="#000" stroke-width="1" fill="none"/>
<path d="M887.68 376.08L902.06 383.09L900.88 391.51" stroke="#000" stroke-width="1" fill="none"/>
<path d="M912.24 376.08L927.62 371.67L932.37 378.72" stroke="#000" stroke-width="1" fill="none"/>
<path d="M936.8 376.08L950.65 368.08L956.97 373.77" stroke="#000" stroke-width="1" fill="none"/>
<path d="M961.36 376.08L977.01 372.75L981.26 380.11" stroke="#000" stroke-width="1" fill="none"/>
<path d="M985.91 376.08L1001.83 377.75L1003.59 386.07" stroke="#000" stroke-width="1" fill="none"/>
<path d="M1010.47 376.08L1026.18 373.03L1030.3 380.46" stroke="#000" stroke-width="1" fill="none"/>
<path d="M1035.03 376.08L1049.29 368.82L1055.3 374.83" stroke="#000" stroke-width="1" fill="none"/>
<path d="M1059.59 376.08L1075.11 372.21L1079.62 379.42" stroke="#000" stroke-width="1" fill="none"/>
<path d="M1084.15 376.08L1100.09 374.69L1103.41 382.51" stroke="#000" stroke-width="1" fill="none"/>
<path d="M126.38 392.12L137.7 380.81M136.28 382.22L140.29 384.26" stroke="#000" stroke-width="1" fill="none"/>
<path d="M150.94 392.12L162.64 381.21L170.08 385.33" stroke="#000" stroke-width="1" fill="none"/>
<path d="M175.5 392.12L190 385.36L195.8 391.57" stroke="#000" stroke-width="1" fill="none"/>
<path d="M200.06 392.12L215.9 389.89L219.63 397.53" stroke="#000" stroke-width="1" fill="none"/>
<path d="M224.62 392.12L237.22 382.27M235.65 383.5L239.38 386.02" stroke="#000" stroke-width="1" fill="none"/>
<path d="M249.17 392.12L260.88 381.21L268.31 385.33" stroke="#000" stroke-width="1" fill="none"/>
<path d="M273.73 392.12L287.86 384.61L293.97 390.51" stroke="#000" stroke-width="1" fill="none"/>
<path d="M298.29 392.12L314.25 391L317.44 398.88" stroke="#000" stroke-width="1" fill="none"/>
<path d="M322.85 392.12L333.55 380.23M332.22 381.72L336.33 383.55" stroke="#000" stroke-width="1" fill="none"/>
<path d="M347.41 392.12L357.9 380.04M356.59 381.55L360.73 383.31" stroke="#000" stroke-width="1" fill="none"/>
<path d="M371.96 392.12L385.23 383.17L391.93 388.41" stroke="#000" stroke-width="1" fill="none"/>
<path d="M396.52 392.12L410.24 383.88L416.65 389.46" stroke="#000" stroke-width="1" fill="none"/>
<path d="M421.08 392.12L428.34 377.86M427.44 379.65L431.88 380.35" stroke="#000" stroke-width="1" fill="none"/>
<path d="M445.64 392.12L455.71 379.69M454.45 381.24L458.65 382.85" stroke="#000" stroke-width="1" fill="none"/>
<path d="M470.2 392.12L483.46 383.17L490.16 388.41" stroke="#000" stroke-width="1" fill="none"/>
<path d="M494.75 392.12L510.28 388.25L514.78 395.46" stroke="#000" stroke-width="1" fill="none"/>
<path d="M519.31 392.12L519.31 376.12M519.31 378.12L523.59 376.73" stroke="#000" stroke-width="1" fill="none"/>
<path d="M543.87 392.12L552.82 378.86M551.7 380.51L556.02 381.75" stroke="#000" stroke-width="1" fill="none"/>
<path d="M568.43 392.12L582.28 384.12M580.55 385.12L583.9 388.13" stroke="#000" stroke-width="1" fill="none"/>
<path d="M592.99 392.12L608.64 395.45M606.68 395.03L607.15 399.51" stroke="#000" stroke-width="1" fill="none"/>
<path d="M617.54 392.12L622.75 376.99M622.1 378.88L626.6 378.96" stroke="#000" stroke-width="1" fill="none"/>
<path d="M642.1 392.12L651.51 379.18M650.33 380.79L654.61 382.18" stroke="#000" stroke-width="1" fill="none"/>
<path d="M666.66 392.12L682.37 389.07M680.4 389.45L682.58 393.38" stroke="#000" stroke-width="1" fill="none"/>
<path d="M691.22 392.12L707.16 393.51L709.07 401.8" stroke="#000" stroke-width="1" fill="none"/>
<path d="M715.78 392.12L729.04 383.17M727.38 384.29L730.93 387.06" stroke="#000" stroke-width="1" fill="none"/>
<path d="M740.33 392.12L752.22 381.41M750.74 382.75L754.64 385" stroke="#000" stroke-width="1" fill="none"/>
<path d="M764.89 392.12L779.39 385.36L785.19 391.57" stroke="#000" stroke-width="1" fill="none"/>
<path d="M789.45 392.12L805.25 394.62L806.58 403.02" stroke="#000" stroke-width="1" fill="none"/>
<path d="M814.01 392.12L828.62 385.61L834.31 391.93" stroke="#000" stroke-width="1" fill="none"/>
<path d="M838.57 392.12L852.28 383.88M850.57 384.91L853.96 387.86" stroke="#000" stroke-width="1" fill="none"/>
<path d="M863.12 392.12L878.83 389.07L882.95 396.5" stroke="#000" stroke-width="1" fill="none"/>
<path d="M887.68 392.12L902.3 398.63L901.41 407.08" stroke="#000" stroke-width="1" fill="none"/>
<path d="M912.24 392.12L927.83 388.52L932.21 395.81" stroke="#000" stroke-width="1" fill="none"/>
<path d="M936.8 392.12L950.37 383.64L956.88 389.1" stroke="#000" stroke-width="1" fill="none"/>
<path d="M961.36 392.12L977.16 389.62L981.02 397.19" stroke="#000" stroke-width="1" fill="none"/>
<path d="M985.91 392.12L1001.56 395.45L1002.45 403.9" stroke="#000" stroke-width="1" fill="none"/>
<path d="M1010.47 392.12L1026.28 389.62L1030.13 397.19" stroke="#000" stroke-width="1" fill="none"/>
<path d="M1035.03 392.12L1049.16 384.61L1055.27 390.51" stroke="#000" stroke-width="1" fill="none"/>
<path d="M1059.59 392.12L1075.39 389.62L1079.25 397.19" stroke="#000" stroke-width="1" fill="none"/>
<path d="M1084.15 392.12L1100.09 390.73L1103.41 398.55" stroke="#000" stroke-width="1" fill="none"/>
<path d="M126.38 408.16L136.88 396.08M135.57 397.59L139.71 399.35" stroke="#000" stroke-width="1" fill="none"/>
<path d="M150.94 408.16L162.64 397.25L170.08 401.37" stroke="#000" stroke-width="1" fill="none"/>
<path d="M175.5 408.16L189.07 399.68L195.58 405.14" stroke="#000" stroke-width="1" fill="none"/>
<path d="M200.06 408.16L215.71 404.83L219.96 412.19" stroke="#000" stroke-width="1" fill="none"/>
<path d="M224.62 408.16L237.22 398.31M235.65 399.54L239.38 402.06" stroke="#000" stroke-width="1" fill="none"/>
<path d="M249.17 408.16L260.88 397.25L268.31 401.37" stroke="#000" stroke-width="1" fill="none"/>
<path d="M273.73 408.16L287 399.21L293.69 404.45" stroke="#000" stroke-width="1" fill="none"/>
<path d="M298.29 408.16L314 405.11L318.12 412.54" stroke="#000" stroke-width="1" fill="none"/>
<path d="M322.85 408.16L333.34 396.08M332.03 397.59L336.18 399.35" stroke="#000" stroke-width="1" fill="none"/>
<path d="M347.41 408.16L357.69 395.9M356.41 397.44L360.58 399.12" stroke="#000" stroke-width="1" fill="none"/>
<path d="M371.96 408.16L385.38 399.45L391.99 404.79" stroke="#000" stroke-width="1" fill="none"/>
<path d="M396.52 408.16L409.94 399.45L416.55 404.79" stroke="#000" stroke-width="1" fill="none"/>
<path d="M421.08 408.16L428.59 394.03M427.65 395.8L432.08 396.58" stroke="#000" stroke-width="1" fill="none"/>
<path d="M445.64 408.16L455.92 395.9M454.64 397.44L458.81 399.12" stroke="#000" stroke-width="1" fill="none"/>
<path d="M470.2 408.16L482.63 398.09L489.76 402.72" stroke="#000" stroke-width="1" fill="none"/>
<path d="M494.75 408.16L510.13 403.75L514.89 410.8" stroke="#000" stroke-width="1" fill="none"/>
<path d="M519.31 408.16L519.31 392.16M519.31 394.16L523.59 392.77" stroke="#000" stroke-width="1" fill="none"/>
<path d="M543.87 408.16L553.05 395.05M551.9 396.69L556.2 398.01" stroke="#000" stroke-width="1" fill="none"/>
<path d="M568.43 408.16L582.56 400.65M580.79 401.59L584.03 404.71" stroke="#000" stroke-width="1" fill="none"/>
<path d="M592.99 408.16L608.58 411.76M606.63 411.31L607.02 415.79" stroke="#000" stroke-width="1" fill="none"/>
<path d="M617.54 408.16L622.75 393.03M622.1 394.92L626.6 395" stroke="#000" stroke-width="1" fill="none"/>
<path d="M642.1 408.16L651.73 395.38M650.53 396.98L654.78 398.44" stroke="#000" stroke-width="1" fill="none"/>
<path d="M666.66 408.16L682.42 405.38M680.45 405.73L682.56 409.7" stroke="#000" stroke-width="1" fill="none"/>
<path d="M691.22 408.16L707.1 410.11L708.72 418.45" stroke="#000" stroke-width="1" fill="none"/>
<path d="M715.78 408.16L728.72 398.76M727.1 399.93L730.74 402.58" stroke="#000" stroke-width="1" fill="none"/>
<path d="M740.33 408.16L751.65 396.85M750.23 398.26L754.24 400.3" stroke="#000" stroke-width="1" fill="none"/>
<path d="M764.89 408.16L779.51 401.65L785.2 407.97" stroke="#000" stroke-width="1" fill="none"/>
<path d="M789.45 408.16L805.21 410.94L806.39 419.36" stroke="#000" stroke-width="1" fill="none"/>
<path d="M814.01 408.16L828.51 401.4L834.31 407.61" stroke="#000" stroke-width="1" fill="none"/>
<path d="M838.57 408.16L852.13 399.68M850.44 400.74L853.89 403.63" stroke="#000" stroke-width="1" fill="none"/>
<path d="M863.12 408.16L879.04 406.49L882.49 414.25" stroke="#000" stroke-width="1" fill="none"/>
<path d="M887.68 408.16L902.41 414.41L901.67 422.88" stroke="#000" stroke-width="1" fill="none"/>
<path d="M912.24 408.16L927.69 404.02L932.32 411.15" stroke="#000" stroke-width="1" fill="none"/>
<path d="M936.8 408.16L950.22 399.45L956.82 404.79" stroke="#000" stroke-width="1" fill="none"/>
<path d="M961.36 408.16L977.24 406.21L980.83 413.91" stroke="#000" stroke-width="1" fill="none"/>
<path d="M985.91 408.16L1001.5 411.76L1002.24 420.23" stroke="#000" stroke-width="1" fill="none"/>
<path d="M1010.47 408.16L1026.35 406.21L1029.94 413.91" stroke="#000" stroke-width="1" fill="none"/>
<path d="M1035.03 408.16L1049.02 400.4L1055.24 406.2" stroke="#000" stroke-width="1" fill="none"/>
<path d="M1059.59 408.16L1075.47 406.21L1079.06 413.91" stroke="#000" stroke-width="1" fill="none"/>
<path d="M1084.15 408.16L1100.09 406.77L1103.41 414.59" stroke="#000" stroke-width="1" fill="none"/>
<path d="M126.38 424.2L137.3 412.5M135.93 413.96L140.01 415.86" stroke="#000" stroke-width="1" fill="none"/>
<path d="M150.94 424.2L162.64 413.29M161.18 414.65L165.12 416.83" stroke="#000" stroke-width="1" fill="none"/>
<path d="M175.5 424.2L189.07 415.72M187.37 416.78L190.82 419.67" stroke="#000" stroke-width="1" fill="none"/>
<path d="M200.06 424.2L215.71 420.87M213.75 421.29L216 425.19" stroke="#000" stroke-width="1" fill="none"/>
<path d="M224.62 424.2L237.22 414.35M235.65 415.58L239.38 418.1" stroke="#000" stroke-width="1" fill="none"/>
<path d="M249.17 424.2L261.43 413.92M259.9 415.2L263.71 417.59" stroke="#000" stroke-width="1" fill="none"/>
<path d="M273.73 424.2L287.3 415.72L293.81 421.18" stroke="#000" stroke-width="1" fill="none"/>
<path d="M298.29 424.2L314 421.15M312.03 421.53L314.21 425.46" stroke="#000" stroke-width="1" fill="none"/>
<path d="M322.85 424.2L333.34 412.12M332.03 413.63L336.18 415.39" stroke="#000" stroke-width="1" fill="none"/>
<path d="M347.41 424.2L357.9 412.12M356.59 413.63L360.73 415.39" stroke="#000" stroke-width="1" fill="none"/>
<path d="M371.96 424.2L385.23 415.25L391.93 420.49" stroke="#000" stroke-width="1" fill="none"/>
<path d="M396.52 424.2L410.09 415.72L416.6 421.18" stroke="#000" stroke-width="1" fill="none"/>
<path d="M421.08 424.2L428.34 409.94M427.44 411.73L431.88 412.43" stroke="#000" stroke-width="1" fill="none"/>
<path d="M445.64 424.2L455.49 411.59M454.26 413.17L458.49 414.71" stroke="#000" stroke-width="1" fill="none"/>
<path d="M470.2 424.2L483.3 415.02L490.09 420.14" stroke="#000" stroke-width="1" fill="none"/>
<path d="M494.75 424.2L509.97 419.26L514.97 426.13" stroke="#000" stroke-width="1" fill="none"/>
<path d="M519.31 424.2L519.31 408.2M519.31 410.2L523.59 408.81" stroke="#000" stroke-width="1" fill="none"/>
<path d="M543.87 424.2L553.27 411.26M552.1 412.87L556.38 414.26" stroke="#000" stroke-width="1" fill="none"/>
<path d="M568.43 424.2L582.28 416.2M580.55 417.2L583.9 420.21" stroke="#000" stroke-width="1" fill="none"/>
<path d="M592.99 424.2L608.29 428.88M606.37 428.29L606.45 432.79" stroke="#000" stroke-width="1" fill="none"/>
<path d="M617.54 424.2L622.49 408.98M621.87 410.89L626.37 410.89" stroke="#000" stroke-width="1" fill="none"/>
<path d="M642.1 424.2L651.51 411.26M650.33 412.87L654.61 414.26" stroke="#000" stroke-width="1" fill="none"/>
<path d="M666.66 424.2L682.46 421.7M680.49 422.01L682.53 426.02" stroke="#000" stroke-width="1" fill="none"/>
<path d="M691.22 424.2L706.92 427.25L707.96 435.69" stroke="#000" stroke-width="1" fill="none"/>
<path d="M715.78 424.2L728.55 414.57M726.96 415.77L730.64 418.36" stroke="#000" stroke-width="1" fill="none"/>
<path d="M740.33 424.2L751.84 413.09M750.4 414.47L754.38 416.59" stroke="#000" stroke-width="1" fill="none"/>
<path d="M764.89 424.2L779.93 418.73L785.16 425.43" stroke="#000" stroke-width="1" fill="none"/>
<path d="M789.45 424.2L804.67 429.14L804.67 437.64" stroke="#000" stroke-width="1" fill="none"/>
<path d="M814.01 424.2L828.39 417.19L834.29 423.3" stroke="#000" stroke-width="1" fill="none"/>
<path d="M838.57 424.2L851.51 414.8M849.89 415.97L853.53 418.62" stroke="#000" stroke-width="1" fill="none"/>
<path d="M863.12 424.2L879.06 422.81L882.38 430.63" stroke="#000" stroke-width="1" fill="none"/>
<path d="M887.68 424.2L901.81 431.71L900.33 440.08" stroke="#000" stroke-width="1" fill="none"/>
<path d="M912.24 424.2L928.04 421.7L931.9 429.27" stroke="#000" stroke-width="1" fill="none"/>
<path d="M936.8 424.2L950.51 415.96L956.93 421.54" stroke="#000" stroke-width="1" fill="none"/>
<path d="M961.36 424.2L977.16 421.7L981.02 429.27" stroke="#000" stroke-width="1" fill="none"/>
<path d="M985.91 424.2L1000.95 429.67L1000.65 438.17" stroke="#000" stroke-width="1" fill="none"/>
<path d="M1010.47 424.2L1026.28 421.7L1030.13 429.27" stroke="#000" stroke-width="1" fill="none"/>
<path d="M1035.03 424.2L1049.29 416.94L1055.3 422.95" stroke="#000" stroke-width="1" fill="none"/>
<path d="M1059.59 424.2L1075.53 422.81L1078.85 430.63" stroke="#000" stroke-width="1" fill="none"/>
<path d="M1084.15 424.2L1100.12 423.36L1103.17 431.3" stroke="#000" stroke-width="1" fill="none"/>
</g><g clip-path="url(#mainclip)">
<polyline points="125.5,82.4 146.4,82.4 158.2,84.2 192.7,84.5 230.9,83.1 265.5,83.1 284.5,84.9 307.3,84.2 320,83.1 328.2,84.9 346.4,86.7 364.5,87.3 388.2,87.8" fill="none" stroke="#8000d0" stroke-width="2" stroke-linejoin="round" />
<polyline points="430,89.6 451.8,92.7 473.6,92.7 491.8,92.2 510,90.9 518.2,90.9 536.4,89.6 561.8,88.5 587.3,90.4 609.1,89.6 638.2,90.4 650.9,92.2 667.3,94.5 681.8,96.4 700,97.3 726.4,97.3 744.5,100 771.8,101.8 793.6,103.6" fill="none" stroke="#8000d0" stroke-width="2" stroke-linejoin="round" />
<polyline points="834.5,104.5 855.5,106.4 872.7,107.3 890,105.5 909.3,103.6 923,99.3 932.8,92.5 958.2,89.2 997.3,89.5 1009,92.9 1026.6,91.1 1046.1,89.5 1065.7,92.5 1090,93.5" fill="none" stroke="#8000d0" stroke-width="2" stroke-linejoin="round" />
<polyline points="669.1,70.9 681.8,72.7 700,75.1 726.4,76.4 762.7,79.1 799.1,81.8 835.5,82.4 862.7,83.1 890,78.2 899.5,77.4 915.2,72.9 919.1,70" fill="none" stroke="#8000d0" stroke-width="2" stroke-linejoin="round" />
<polyline points="125.5,107.3 147.3,106.4 176.4,107.3 200,109.6 252.7,107.8" fill="none" stroke="#1030ff" stroke-width="2" stroke-linejoin="round" />
<polyline points="258.2,108.2 283.6,111.5 301.8,112.2 320,111.5 337.3,112.7 364.5,114.5 393.6,116.9" fill="none" stroke="#1030ff" stroke-width="2" stroke-linejoin="round" />
<polyline points="423.6,116.4 455.5,119.1 491.8,120.9 510,120.9 518.2,119.5 536.4,119.1 563.6,119.1 590.9,121.8 609.1,120.9 627.3,118.7 640,117.6 654.5,120 672.7,122.7 700,125.5 708.2,124.5 731.8,124.2 750,128.2 771.8,129.6 799.1,128.2" fill="none" stroke="#1030ff" stroke-width="2" stroke-linejoin="round" />
<polyline points="828.2,129.1 853.6,130 871.8,132.7 890,135.1 909.3,134.5 928.9,128.6 958.2,123.8 977.7,121.8 993.4,118.9 1014.9,120.4" fill="none" stroke="#1030ff" stroke-width="2" stroke-linejoin="round" />
<polyline points="1030.5,119.3 1046.1,118.9 1065.7,121.2 1090,122.8" fill="none" stroke="#1030ff" stroke-width="2" stroke-linejoin="round" />
<polyline points="125.5,144.5 143.6,141.8 174.5,137.3 181.8,140 187.3,143.1 205.5,142.7 221.8,139.1 238.2,133.6" fill="none" stroke="#000" stroke-width="3.2" stroke-linejoin="round" />
<polyline points="125.5,144.5 143.6,141.8 174.5,137.3 181.8,140 187.3,143.1 205.5,142.7 221.8,139.1 238.2,133.6" fill="none" stroke="#fff" stroke-width="1.1" stroke-linejoin="round" />
<polyline points="260,136.4 283.6,138.2 301.8,139.1 320,138.2 328.2,137.3 346.4,138.7 371.8,141.8 400.9,146 422.7,145.5 448.2,146.7 470,148.2 484.5,152.7 497.3,154" fill="none" stroke="#000" stroke-width="3.2" stroke-linejoin="round" />
<polyline points="260,136.4 283.6,138.2 301.8,139.1 320,138.2 328.2,137.3 346.4,138.7 371.8,141.8 400.9,146 422.7,145.5 448.2,146.7 470,148.2 484.5,152.7 497.3,154" fill="none" stroke="#fff" stroke-width="1.1" stroke-linejoin="round" />
<polyline points="517.3,154.5 527.3,150 534.5,150 563.6,153.6 605.5,159.1 627.3,155.5 649.1,155.5 681.8,159.1 700,160.9 708.2,159.1 733.6,155.8 744.5,157.3 762.7,165.5 780.9,165.5 788.2,168.2 799.1,163.6 824.5,163.6" fill="none" stroke="#000" stroke-width="3.2" stroke-linejoin="round" />
<polyline points="517.3,154.5 527.3,150 534.5,150 563.6,153.6 605.5,159.1 627.3,155.5 649.1,155.5 681.8,159.1 700,160.9 708.2,159.1 733.6,155.8 744.5,157.3 762.7,165.5 780.9,165.5 788.2,168.2 799.1,163.6 824.5,163.6" fill="none" stroke="#fff" stroke-width="1.1" stroke-linejoin="round" />
<polyline points="848.2,164.2 871.8,167.3 890,169.6 895.6,171.6 911.3,171.6 921,166.8 948.4,164.8 987.5,160.9 1007.1,152.1 1022.7,151.1 1036.4,155 1055.9,161.9 1065.7,157 1075.5,156 1090,156" fill="none" stroke="#000" stroke-width="3.2" stroke-linejoin="round" />
<polyline points="848.2,164.2 871.8,167.3 890,169.6 895.6,171.6 911.3,171.6 921,166.8 948.4,164.8 987.5,160.9 1007.1,152.1 1022.7,151.1 1036.4,155 1055.9,161.9 1065.7,157 1075.5,156 1090,156" fill="none" stroke="#fff" stroke-width="1.1" stroke-linejoin="round" />
<polyline points="125.5,185.5 141.8,183.6 163.6,185.5 174.5,189.1 189.1,185.5 203.6,186.4" fill="none" stroke="#1e96ff" stroke-width="2" stroke-linejoin="round" />
<polyline points="221.8,185.5 247.3,182.4 263.6,182.4 274.5,177.3 283.6,179.1 301.8,183.6 320,180 331.8,175.5 346.4,180 364.5,182.4 382.7,181.8 397.3,187.8 406.4,190.9 422.7,187.8 455.5,188.2 473.6,190.9 491.8,194.5 510,195.5 518.2,197.3 532.7,193.6 550.9,195.5 569.1,200" fill="none" stroke="#1e96ff" stroke-width="2" stroke-linejoin="round" />
<polyline points="587.3,200.9 605.5,209.1 627.3,200.9 645.5,199.5 663.6,201.8 681.8,210 692.7,215.5 700,215.5 708.2,214.5 726.4,212.7 735.5,217.3 762.7,229.1 777.3,230.9 791.8,235.5 808.2,231.8 826.4,227.3 844.5,228.2 862.7,234.5 871.8,235.8 890,234.5 899.5,232.2 913.2,232.2 926.9,219.5 944.5,212.7 960.1,204.9 971.9,201 985.5,206.8 1005.1,205.8 1020.7,197.1 1030.5,196.1 1042.2,199 1055.9,204.9 1067.6,200 1079.4,201 1090,201.9" fill="none" stroke="#1e96ff" stroke-width="2" stroke-linejoin="round" />
<polyline points="126.4,240.9 138.2,235.1 149.1,238.2 174.5,237.3 189.1,238.7 207.3,235.1 236.4,235.8" fill="none" stroke="#00c0c0" stroke-width="2" stroke-linejoin="round" />
<polyline points="261.8,235.8 283.6,235.1 301.8,241.8 320,245.5 324.5,244.5 337.3,241.8 357.3,241.8 370,244.5 386.4,250 397.3,252.7 411.8,250.9 422.7,250 437.3,246.4 455.5,242.7 470,247.3 480.9,243.6 495.5,249.1 510,251.8 518.2,249.1 536.4,244.9 554.5,245.5 572.7,249.1 590.9,253.6 609.1,257.3 627.3,256.4 638.2,260.4 654.5,268.2 672.7,267.3 690.9,270 700,270.9 708.2,268.2 726.4,267.3 744.5,267.3 766.4,269.1 786.4,272.7" fill="none" stroke="#00c0c0" stroke-width="2" stroke-linejoin="round" />
<polyline points="815.5,272.7 835.5,272.7 853.6,275.5 871.8,272.7 890,271.8 919.1,272.5 938.6,273.5 958.2,277.4 969.9,271.5 989.5,267.6 1007.1,259.6 1020,256.5 1036.4,255.7 1055.9,252.8 1071.6,246.9 1090,250.8" fill="none" stroke="#00c0c0" stroke-width="2" stroke-linejoin="round" />
<polyline points="125.5,344.5 130.9,340 147.3,340.5 174.5,338.7 187.3,342.7 198.2,342.7 210.9,335.5 225.5,333.6 238.2,324.5 247.3,322.4 260,319.5 265.5,324.5 272.7,331.8 283.6,335.5 301.8,343.6 309.1,344.5 314,340 320.9,333.6" fill="none" stroke="#00c88c" stroke-width="2" stroke-linejoin="round" />
<polyline points="347.3,330.9 364.5,339.1 386.4,347.3 402.7,352.7 409.1,350 419.1,338.2 433.6,330.9 444.5,331.8 459.1,338.2 473.6,342.7 491.8,348.2 506.4,349.1 510,344.5 518.2,335.5 531.8,328.5 545.5,332.7 569.1,335.5 581.8,337.3 592.7,340.9 603.6,340 616.4,328.2 627.3,320.9 638.2,320.9 654.5,324.5 667.3,328.2 681.8,329.6 690.9,328.2 700,326.4 711.8,320.9 726.4,316.4" fill="none" stroke="#00c88c" stroke-width="2" stroke-linejoin="round" />
<polyline points="751.8,316.4 771.8,313.6 799.1,315.5 826.4,313.6 853.6,317.3 871.8,312.7 890,310.9 899.5,312.5 919.1,313.5 938.6,312.2 958.2,317.4 981.6,318 1007.1,312.5 1022.7,300.8 1036.4,301.8 1046.1,304.7 1065.7,298.9 1090,295" fill="none" stroke="#00c88c" stroke-width="2" stroke-linejoin="round" />
<polyline points="125.5,379.1 138.2,372.7 156.4,380.9 169.1,387.3 174.5,393.6 178.2,404.5 179.1,424.5" fill="none" stroke="#e8a820" stroke-width="2" stroke-linejoin="round" />
<polyline points="200,424.5 203.6,406.4 210.9,393.6 219.1,380.9 223.6,370 236.4,360.9 250.9,366.4 265.5,373.6 278.2,380.9 287.3,393.6 285.5,406.4 283.6,424.5" fill="none" stroke="#e8a820" stroke-width="2" stroke-linejoin="round" />
<polyline points="297.3,424.5 300,399.1 303.6,390 310,384.5 319.1,370 333.6,360.9 346.4,363.6 360.9,371.8 371.8,382.7 380,393.6 381.8,406.4 382.7,415.5" fill="none" stroke="#e8a820" stroke-width="2" stroke-linejoin="round" />
<polyline points="399.1,411.8 400.9,399.1 410,386.4 419.1,375.5 430,363.6 440.9,364.5 451.8,370.9 464.5,379.1 477.3,390 480.9,400.9 480.9,417.3 486.4,420.9 493.6,420 495.5,408.2 499.1,395.5 506.4,388.2 510,382.7 520,368.2 532.7,362.7 547.3,367.3 569.1,372.7 590.9,384.5 605.5,380 616.4,362.7 627.3,355.1 634.5,355.1 643.6,359.1 663.6,363.6 676.4,370" fill="none" stroke="#e8a820" stroke-width="2" stroke-linejoin="round" />
<polyline points="687,377 690,379 702.7,373.6 711.8,359.1 726.4,349.1 744.5,352.7 762.7,359.1 780.9,365.5 799.1,370.9 808.2,359.1 817.3,349.1 826.4,345.5 835.5,348.2 853.6,357.3 871.8,364.5 890,371.8 897.6,373.1 901.5,367.3 909.3,353.6 923,345.8 944.5,350.7 962.1,360.4 973.8,362.4 985.5,361.4 995.3,367.3 1003.1,359.5 1009,347.7 1022.7,338.9 1036.4,340.9 1055.9,346.8 1069.6,350.7 1090,348.7" fill="none" stroke="#e8a820" stroke-width="2" stroke-linejoin="round" />
<polyline points="125.5,414.5 136.4,408.2 141.8,413.6 146.4,424.5" fill="none" stroke="#f07020" stroke-width="2" stroke-linejoin="round" />
<polyline points="212.7,424.5 220,410 229.1,400.9 236.4,396.4 247.3,404.5 249.1,413.6 249.1,424.5" fill="none" stroke="#f07020" stroke-width="2" stroke-linejoin="round" />
<polyline points="309.1,424.5 319.1,408.2 331.8,397.3 339.1,399.1 346.4,408.2 348.2,424.5" fill="none" stroke="#f07020" stroke-width="2" stroke-linejoin="round" />
<polyline points="410,424.5 419.1,408.2 426.4,400.9 433.6,400 440.9,404.5 445.5,413.6 446.4,424.5" fill="none" stroke="#f07020" stroke-width="2" stroke-linejoin="round" />
<polyline points="507.3,424.5 514.5,410 521.8,401.8 530.9,399.1 540,403.6 545.5,410 547.3,424.5" fill="none" stroke="#f07020" stroke-width="2" stroke-linejoin="round" />
<polyline points="601.8,424.5 609.1,408.2 618.2,395.5 629.1,390 641.8,395.5 650.9,404.5 652.7,424.5" fill="none" stroke="#f07020" stroke-width="2" stroke-linejoin="round" />
<polyline points="697.3,424.5 702.7,410 711.8,393.6 726.4,384.5 740.9,388.2 751.8,395.5 754.5,404.5 754.5,424.5" fill="none" stroke="#f07020" stroke-width="2" stroke-linejoin="round" />
<polyline points="795.5,424.5 800.9,408.2 810,390 826.4,381.8 839.1,386.4 846.4,395.5 850,410 848.2,424.5" fill="none" stroke="#f07020" stroke-width="2" stroke-linejoin="round" />
<polyline points="893.7,424.5 899.5,406.4 907.4,392.7 923,382 936.7,384.9 946.5,392.7 951.3,404.4 949.4,424.5" fill="none" stroke="#f07020" stroke-width="2" stroke-linejoin="round" />
<polyline points="992.4,424.5 997.3,402.5 1007.1,382.9 1020.7,373.1 1034.4,376.1 1048.1,382.9 1061.8,390.7 1060.8,406.4 1054,424.5" fill="none" stroke="#f07020" stroke-width="2" stroke-linejoin="round" />
<polyline points="1087.2,424.5 1090,408.3" fill="none" stroke="#f07020" stroke-width="2" stroke-linejoin="round" />
<polyline points="811.8,424.5 817.3,420.9 826.4,419.1 828.2,424.5" fill="none" stroke="#e0008c" stroke-width="2" stroke-linejoin="round" />
<polyline points="911.3,424.5 925,419.1 926.9,424.5" fill="none" stroke="#e0008c" stroke-width="2" stroke-linejoin="round" />
<polyline points="1005.1,424.5 1009,414.2 1022.7,408.3 1026.6,424.5" fill="none" stroke="#e0008c" stroke-width="2" stroke-linejoin="round" />
<polyline points="726.4,424.5 727,422.6" fill="none" stroke="#e0008c" stroke-width="2" stroke-linejoin="round" />
</g><g clip-path="url(#barbclip)">
<text class="C" x="409" y="95.7" font-size="17" fill="#8000d0" style="color:#8000d0" text-anchor="middle" textLength="32" lengthAdjust="spacingAndGlyphs" >–10</text>
<text class="C" x="409" y="123.2" font-size="17" fill="#1030ff" style="color:#1030ff" text-anchor="middle" textLength="22" lengthAdjust="spacingAndGlyphs" >–5</text>
<text class="F" x="249" y="141" font-size="16" fill="#000" style="color:#000" text-anchor="middle" textLength="15.5" lengthAdjust="spacingAndGlyphs" >FR</text>
<text class="F" x="509" y="161" font-size="16" fill="#000" style="color:#000" text-anchor="middle" textLength="15.5" lengthAdjust="spacingAndGlyphs" >FR</text>
<text class="C" x="213.5" y="191.7" font-size="17" fill="#1e96ff" style="color:#1e96ff" text-anchor="middle" textLength="9" lengthAdjust="spacingAndGlyphs" >5</text>
<text class="C" x="249" y="241.7" font-size="17" fill="#00c0c0" style="color:#00c0c0" text-anchor="middle" textLength="18" lengthAdjust="spacingAndGlyphs" >10</text>
<text class="C" x="336" y="334.2" font-size="17" fill="#00c080" style="color:#00c080" text-anchor="middle" textLength="19" lengthAdjust="spacingAndGlyphs" >15</text>
<text class="C" x="396" y="428.2" font-size="17" fill="#e8a020" style="color:#e8a020" text-anchor="middle" textLength="19" lengthAdjust="spacingAndGlyphs" >20</text>
<text class="C" x="580" y="203.2" font-size="17" fill="#1e96ff" style="color:#1e96ff" text-anchor="middle" textLength="9" lengthAdjust="spacingAndGlyphs" >5</text>
<text class="F" x="556" y="301.5" font-size="13" fill="#a0a0a0" style="color:#a0a0a0" text-anchor="middle" textLength="13" lengthAdjust="spacingAndGlyphs" >30</text>
<text class="C" x="814.5" y="110.7" font-size="17" fill="#8000d0" style="color:#8000d0" text-anchor="middle" textLength="32" lengthAdjust="spacingAndGlyphs" >–10</text>
<text class="C" x="813.5" y="135.2" font-size="17" fill="#1030ff" style="color:#1030ff" text-anchor="middle" textLength="22" lengthAdjust="spacingAndGlyphs" >–5</text>
<text class="F" x="839" y="171.5" font-size="16" fill="#000" style="color:#000" text-anchor="middle" textLength="15.5" lengthAdjust="spacingAndGlyphs" >FR</text>
<text class="F" x="716" y="96" font-size="13" fill="#a0a0a0" style="color:#a0a0a0" text-anchor="middle" textLength="13" lengthAdjust="spacingAndGlyphs" >10</text>
<text class="C" x="802" y="278.9" font-size="17" fill="#00c0c0" style="color:#00c0c0" text-anchor="middle" textLength="18" lengthAdjust="spacingAndGlyphs" >10</text>
<text class="C" x="741" y="326.2" font-size="17" fill="#00c88c" style="color:#00c88c" text-anchor="middle" textLength="19" lengthAdjust="spacingAndGlyphs" >15</text>
<text class="C" x="691" y="383.2" font-size="17" fill="#e8a020" style="color:#e8a020" text-anchor="middle" textLength="19" lengthAdjust="spacingAndGlyphs" >20</text>
<text class="F" x="1022.7" y="134.5" font-size="13" fill="#a0a0a0" style="color:#a0a0a0" text-anchor="middle" textLength="13" lengthAdjust="spacingAndGlyphs" >30</text>
<text class="F" x="876.5" y="220" font-size="13" fill="#a0a0a0" style="color:#a0a0a0" text-anchor="middle" textLength="13" lengthAdjust="spacingAndGlyphs" >30</text>
</g>
<clipPath id="slpclip"><rect x="121" y="441" width="969" height="84"/></clipPath>
<clipPath id="wclip"><rect x="121" y="611" width="969" height="84"/></clipPath>
<g clip-path="url(#slpclip)">
<polyline points="126.38,471.6 138.66,459.1 150.94,463.5 163.22,466.7 175.5,471.6 187.78,477.1 200.06,479.8 212.34,470 224.62,455.3 236.89,446 249.17,451.3 261.45,457.7 273.73,463.3 286.01,470.5 298.29,478.5 310.57,474.2 322.85,462.5 335.13,453.8 347.41,462.5 359.69,470.5 371.96,480 384.24,487 396.52,496.7 408.8,492.4 421.08,478.1 433.36,471.3 445.64,477.5 457.92,483.3 470.2,490.9 482.48,496 494.75,502.8 507.03,500.4 519.31,485.8 531.59,473.8 543.87,479 556.15,483.3 568.43,489.5 580.71,493.5 592.99,502.3 605.26,498.9 617.54,484.4 629.82,474.2 642.1,479 654.38,485.4 666.66,495.3 678.94,500.4 691.22,505.6 703.5,501.1 715.78,485.1 728.05,478.5 740.33,485.1 752.61,495 764.89,505.5 777.17,509.8 789.45,517.1 801.73,509.5 814.01,496 826.29,491.2 838.57,497.9 850.85,504.7 863.12,511.6 875.4,517.8 887.68,519.3 899.96,514.2 912.24,501.8 924.52,487.3 936.8,488.3 949.08,490.9 961.36,494.1 973.63,492 985.91,495 998.19,482.6 1010.47,463.9 1022.75,449.5 1035.03,454 1047.31,462.9 1059.59,468.3 1071.87,466.5 1084.15,469 1096.42,461" fill="none" stroke="#00c8c8" stroke-width="1" stroke-linejoin="round" />
<polygon points="126.38,468.6 123.38,473.6 129.38,473.6" fill="none" stroke="#00c8c8" stroke-width="1"/>
<polygon points="138.66,456.1 135.66,461.1 141.66,461.1" fill="none" stroke="#00c8c8" stroke-width="1"/>
<polygon points="150.94,460.5 147.94,465.5 153.94,465.5" fill="none" stroke="#00c8c8" stroke-width="1"/>
<polygon points="163.22,463.7 160.22,468.7 166.22,468.7" fill="none" stroke="#00c8c8" stroke-width="1"/>
<polygon points="175.5,468.6 172.5,473.6 178.5,473.6" fill="none" stroke="#00c8c8" stroke-width="1"/>
<polygon points="187.78,474.1 184.78,479.1 190.78,479.1" fill="none" stroke="#00c8c8" stroke-width="1"/>
<polygon points="200.06,476.8 197.06,481.8 203.06,481.8" fill="none" stroke="#00c8c8" stroke-width="1"/>
<polygon points="212.34,467 209.34,472 215.34,472" fill="none" stroke="#00c8c8" stroke-width="1"/>
<polygon points="224.62,452.3 221.62,457.3 227.62,457.3" fill="none" stroke="#00c8c8" stroke-width="1"/>
<polygon points="236.89,443 233.89,448 239.89,448" fill="none" stroke="#00c8c8" stroke-width="1"/>
<polygon points="249.17,448.3 246.17,453.3 252.17,453.3" fill="none" stroke="#00c8c8" stroke-width="1"/>
<polygon points="261.45,454.7 258.45,459.7 264.45,459.7" fill="none" stroke="#00c8c8" stroke-width="1"/>
<polygon points="273.73,460.3 270.73,465.3 276.73,465.3" fill="none" stroke="#00c8c8" stroke-width="1"/>
<polygon points="286.01,467.5 283.01,472.5 289.01,472.5" fill="none" stroke="#00c8c8" stroke-width="1"/>
<polygon points="298.29,475.5 295.29,480.5 301.29,480.5" fill="none" stroke="#00c8c8" stroke-width="1"/>
<polygon points="310.57,471.2 307.57,476.2 313.57,476.2" fill="none" stroke="#00c8c8" stroke-width="1"/>
<polygon points="322.85,459.5 319.85,464.5 325.85,464.5" fill="none" stroke="#00c8c8" stroke-width="1"/>
<polygon points="335.13,450.8 332.13,455.8 338.13,455.8" fill="none" stroke="#00c8c8" stroke-width="1"/>
<polygon points="347.41,459.5 344.41,464.5 350.41,464.5" fill="none" stroke="#00c8c8" stroke-width="1"/>
<polygon points="359.69,467.5 356.69,472.5 362.69,472.5" fill="none" stroke="#00c8c8" stroke-width="1"/>
<polygon points="371.96,477 368.96,482 374.96,482" fill="none" stroke="#00c8c8" stroke-width="1"/>
<polygon points="384.24,484 381.24,489 387.24,489" fill="none" stroke="#00c8c8" stroke-width="1"/>
<polygon points="396.52,493.7 393.52,498.7 399.52,498.7" fill="none" stroke="#00c8c8" stroke-width="1"/>
<polygon points="408.8,489.4 405.8,494.4 411.8,494.4" fill="none" stroke="#00c8c8" stroke-width="1"/>
<polygon points="421.08,475.1 418.08,480.1 424.08,480.1" fill="none" stroke="#00c8c8" stroke-width="1"/>
<polygon points="433.36,468.3 430.36,473.3 436.36,473.3" fill="none" stroke="#00c8c8" stroke-width="1"/>
<polygon points="445.64,474.5 442.64,479.5 448.64,479.5" fill="none" stroke="#00c8c8" stroke-width="1"/>
<polygon points="457.92,480.3 454.92,485.3 460.92,485.3" fill="none" stroke="#00c8c8" stroke-width="1"/>
<polygon points="470.2,487.9 467.2,492.9 473.2,492.9" fill="none" stroke="#00c8c8" stroke-width="1"/>
<polygon points="482.48,493 479.48,498 485.48,498" fill="none" stroke="#00c8c8" stroke-width="1"/>
<polygon points="494.75,499.8 491.75,504.8 497.75,504.8" fill="none" stroke="#00c8c8" stroke-width="1"/>
<polygon points="507.03,497.4 504.03,502.4 510.03,502.4" fill="none" stroke="#00c8c8" stroke-width="1"/>
<polygon points="519.31,482.8 516.31,487.8 522.31,487.8" fill="none" stroke="#00c8c8" stroke-width="1"/>
<polygon points="531.59,470.8 528.59,475.8 534.59,475.8" fill="none" stroke="#00c8c8" stroke-width="1"/>
<polygon points="543.87,476 540.87,481 546.87,481" fill="none" stroke="#00c8c8" stroke-width="1"/>
<polygon points="556.15,480.3 553.15,485.3 559.15,485.3" fill="none" stroke="#00c8c8" stroke-width="1"/>
<polygon points="568.43,486.5 565.43,491.5 571.43,491.5" fill="none" stroke="#00c8c8" stroke-width="1"/>
<polygon points="580.71,490.5 577.71,495.5 583.71,495.5" fill="none" stroke="#00c8c8" stroke-width="1"/>
<polygon points="592.99,499.3 589.99,504.3 595.99,504.3" fill="none" stroke="#00c8c8" stroke-width="1"/>
<polygon points="605.26,495.9 602.26,500.9 608.26,500.9" fill="none" stroke="#00c8c8" stroke-width="1"/>
<polygon points="617.54,481.4 614.54,486.4 620.54,486.4" fill="none" stroke="#00c8c8" stroke-width="1"/>
<polygon points="629.82,471.2 626.82,476.2 632.82,476.2" fill="none" stroke="#00c8c8" stroke-width="1"/>
<polygon points="642.1,476 639.1,481 645.1,481" fill="none" stroke="#00c8c8" stroke-width="1"/>
<polygon points="654.38,482.4 651.38,487.4 657.38,487.4" fill="none" stroke="#00c8c8" stroke-width="1"/>
<polygon points="666.66,492.3 663.66,497.3 669.66,497.3" fill="none" stroke="#00c8c8" stroke-width="1"/>
<polygon points="678.94,497.4 675.94,502.4 681.94,502.4" fill="none" stroke="#00c8c8" stroke-width="1"/>
<polygon points="691.22,502.6 688.22,507.6 694.22,507.6" fill="none" stroke="#00c8c8" stroke-width="1"/>
<polygon points="703.5,498.1 700.5,503.1 706.5,503.1" fill="none" stroke="#00c8c8" stroke-width="1"/>
<polygon points="715.78,482.1 712.78,487.1 718.78,487.1" fill="none" stroke="#00c8c8" stroke-width="1"/>
<polygon points="728.05,475.5 725.05,480.5 731.05,480.5" fill="none" stroke="#00c8c8" stroke-width="1"/>
<polygon points="740.33,482.1 737.33,487.1 743.33,487.1" fill="none" stroke="#00c8c8" stroke-width="1"/>
<polygon points="752.61,492 749.61,497 755.61,497" fill="none" stroke="#00c8c8" stroke-width="1"/>
<polygon points="764.89,502.5 761.89,507.5 767.89,507.5" fill="none" stroke="#00c8c8" stroke-width="1"/>
<polygon points="777.17,506.8 774.17,511.8 780.17,511.8" fill="none" stroke="#00c8c8" stroke-width="1"/>
<polygon points="789.45,514.1 786.45,519.1 792.45,519.1" fill="none" stroke="#00c8c8" stroke-width="1"/>
<polygon points="801.73,506.5 798.73,511.5 804.73,511.5" fill="none" stroke="#00c8c8" stroke-width="1"/>
<polygon points="814.01,493 811.01,498 817.01,498" fill="none" stroke="#00c8c8" stroke-width="1"/>
<polygon points="826.29,488.2 823.29,493.2 829.29,493.2" fill="none" stroke="#00c8c8" stroke-width="1"/>
<polygon points="838.57,494.9 835.57,499.9 841.57,499.9" fill="none" stroke="#00c8c8" stroke-width="1"/>
<polygon points="850.85,501.7 847.85,506.7 853.85,506.7" fill="none" stroke="#00c8c8" stroke-width="1"/>
<polygon points="863.12,508.6 860.12,513.6 866.12,513.6" fill="none" stroke="#00c8c8" stroke-width="1"/>
<polygon points="875.4,514.8 872.4,519.8 878.4,519.8" fill="none" stroke="#00c8c8" stroke-width="1"/>
<polygon points="887.68,516.3 884.68,521.3 890.68,521.3" fill="none" stroke="#00c8c8" stroke-width="1"/>
<polygon points="899.96,511.2 896.96,516.2 902.96,516.2" fill="none" stroke="#00c8c8" stroke-width="1"/>
<polygon points="912.24,498.8 909.24,503.8 915.24,503.8" fill="none" stroke="#00c8c8" stroke-width="1"/>
<polygon points="924.52,484.3 921.52,489.3 927.52,489.3" fill="none" stroke="#00c8c8" stroke-width="1"/>
<polygon points="936.8,485.3 933.8,490.3 939.8,490.3" fill="none" stroke="#00c8c8" stroke-width="1"/>
<polygon points="949.08,487.9 946.08,492.9 952.08,492.9" fill="none" stroke="#00c8c8" stroke-width="1"/>
<polygon points="961.36,491.1 958.36,496.1 964.36,496.1" fill="none" stroke="#00c8c8" stroke-width="1"/>
<polygon points="973.63,489 970.63,494 976.63,494" fill="none" stroke="#00c8c8" stroke-width="1"/>
<polygon points="985.91,492 982.91,497 988.91,497" fill="none" stroke="#00c8c8" stroke-width="1"/>
<polygon points="998.19,479.6 995.19,484.6 1001.19,484.6" fill="none" stroke="#00c8c8" stroke-width="1"/>
<polygon points="1010.47,460.9 1007.47,465.9 1013.47,465.9" fill="none" stroke="#00c8c8" stroke-width="1"/>
<polygon points="1022.75,446.5 1019.75,451.5 1025.75,451.5" fill="none" stroke="#00c8c8" stroke-width="1"/>
<polygon points="1035.03,451 1032.03,456 1038.03,456" fill="none" stroke="#00c8c8" stroke-width="1"/>
<polygon points="1047.31,459.9 1044.31,464.9 1050.31,464.9" fill="none" stroke="#00c8c8" stroke-width="1"/>
<polygon points="1059.59,465.3 1056.59,470.3 1062.59,470.3" fill="none" stroke="#00c8c8" stroke-width="1"/>
<polygon points="1071.87,463.5 1068.87,468.5 1074.87,468.5" fill="none" stroke="#00c8c8" stroke-width="1"/>
<polygon points="1084.15,466 1081.15,471 1087.15,471" fill="none" stroke="#00c8c8" stroke-width="1"/>
<polyline points="126.38,471.6 138.66,479.3 150.94,460.7 163.22,450.9 175.5,456.4 187.78,458.5 200.06,447.6 212.34,445.5 224.62,471.6 236.89,483.6 249.17,471.3 261.45,465.9 273.73,470.5 286.01,475.6 298.29,462.5 310.57,464.7 322.85,489.5 335.13,499.6 347.41,485.1 359.69,478.5 371.96,483.6 384.24,484.3 396.52,470.8 408.8,471.7 421.08,491.6 433.36,500.8 445.64,485.8 457.92,482.5 470.2,492.7 482.48,491.6 494.75,478.1 507.03,478.1 519.31,498.5 531.59,502.8 543.87,488 556.15,484.8 568.43,489.5 580.71,489.7 592.99,474.6 605.26,474.6 617.54,496 629.82,507.2 642.1,494.5 654.38,488.7 666.66,494.5 678.94,498.9 691.22,486.6 703.5,488 715.78,511.6 728.05,519.3 740.33,506.2 752.61,498.2 764.89,502.8 777.17,504 789.45,490.2 801.73,486.8 814.01,507.2 826.29,512.4 838.57,496.4 850.85,485.1 863.12,490.9 875.4,490.9 887.68,477.5 899.96,470.5 912.24,487.7 924.52,492.7 936.8,478.1 949.08,466.9 961.36,467.6 973.63,468.9 985.91,455.8 998.19,459.1 1010.47,482 1022.75,494.1 1035.03,480.1 1047.31,473.7 1059.59,479.5 1071.87,481.4 1084.15,472.5" fill="none" stroke="#1818f0" stroke-width="2" stroke-linejoin="round" />
</g>
<g clip-path="url(#wclip)">
<polyline points="127.38,652.6 140.8,632.7 146.48,634.66" fill="none" stroke="#8a6a48" stroke-width="1.1"/>
<polyline points="139.66,652.6 153.08,632.7 158.76,634.66" fill="none" stroke="#8a6a48" stroke-width="1.1"/>
<polyline points="151.94,652.6 168,634.76 173.35,637.49" fill="none" stroke="#8a6a48" stroke-width="1.1"/>
<polyline points="164.22,652.6 181.77,636.23 186.86,639.41" fill="none" stroke="#8a6a48" stroke-width="1.1"/>
<polyline points="176.5,652.6 196.85,639.88 201.24,643.97" fill="none" stroke="#8a6a48" stroke-width="1.1"/>
<polyline points="188.78,652.6 209.77,640.96 213.94,645.28" fill="none" stroke="#8a6a48" stroke-width="1.1"/>
<polyline points="201.06,652.6 224.24,646.39 227.24,651.58" fill="none" stroke="#8a6a48" stroke-width="1.1"/>
<polyline points="213.34,652.6 236.41,645.98 239.5,651.13" fill="none" stroke="#8a6a48" stroke-width="1.1"/>
<polyline points="225.62,652.6 244,637.17 248.92,640.61" fill="none" stroke="#8a6a48" stroke-width="1.1"/>
<polyline points="237.89,652.6 251.66,632.94 257.3,634.99" fill="none" stroke="#8a6a48" stroke-width="1.1"/>
<polyline points="250.17,652.6 266.85,635.34 272.09,638.24" fill="none" stroke="#8a6a48" stroke-width="1.1"/>
<polyline points="262.45,652.6 280.84,637.17 285.75,640.61" fill="none" stroke="#8a6a48" stroke-width="1.1"/>
<polyline points="274.73,652.6 294.63,639.18 299.16,643.12" fill="none" stroke="#8a6a48" stroke-width="1.1"/>
<polyline points="287.01,652.6 308,640.96 312.17,645.28" fill="none" stroke="#8a6a48" stroke-width="1.1"/>
<polyline points="299.29,652.6 322.85,648.02 325.48,653.41" fill="none" stroke="#8a6a48" stroke-width="1.1"/>
<polyline points="311.57,652.6 334.95,647.2 337.77,652.5" fill="none" stroke="#8a6a48" stroke-width="1.1"/>
<polyline points="323.85,652.6 338.62,633.69 344.15,636.03" fill="none" stroke="#8a6a48" stroke-width="1.1"/>
<polyline points="336.13,652.6 346.27,630.85 352.18,631.89" fill="none" stroke="#8a6a48" stroke-width="1.1"/>
<polyline points="348.41,652.6 361.83,632.7 367.5,634.66" fill="none" stroke="#8a6a48" stroke-width="1.1"/>
<polyline points="360.69,652.6 378.52,636.54 383.55,639.81" fill="none" stroke="#8a6a48" stroke-width="1.1"/>
<polyline points="372.96,652.6 391.35,637.17 396.26,640.61" fill="none" stroke="#8a6a48" stroke-width="1.1"/>
<polyline points="385.24,652.6 404.41,638.16 409.14,641.85" fill="none" stroke="#8a6a48" stroke-width="1.1"/>
<polyline points="397.52,652.6 416.69,638.16 421.42,641.85" fill="none" stroke="#8a6a48" stroke-width="1.1"/>
<polyline points="409.8,652.6 426.47,635.34 431.72,638.24" fill="none" stroke="#8a6a48" stroke-width="1.1"/>
<polyline points="422.08,652.6 430.68,630.19 436.65,630.82" fill="none" stroke="#8a6a48" stroke-width="1.1"/>
<polyline points="434.36,652.6 441.78,629.77 447.77,630.09" fill="none" stroke="#8a6a48" stroke-width="1.1"/>
<polyline points="446.64,652.6 461.08,633.43 466.64,635.68" fill="none" stroke="#8a6a48" stroke-width="1.1"/>
<polyline points="458.92,652.6 476.47,636.23 481.56,639.41" fill="none" stroke="#8a6a48" stroke-width="1.1"/>
<polyline points="471.2,652.6 489.58,637.17 494.5,640.61" fill="none" stroke="#8a6a48" stroke-width="1.1"/>
<polyline points="483.48,652.6 504.86,641.7 508.87,646.16" fill="none" stroke="#8a6a48" stroke-width="1.1"/>
<polyline points="495.75,652.6 518.94,646.39 521.94,651.58" fill="none" stroke="#8a6a48" stroke-width="1.1"/>
<polyline points="508.03,652.6 529.78,642.46 533.64,647.05" fill="none" stroke="#8a6a48" stroke-width="1.1"/>
<polyline points="520.31,652.6 521.15,628.61 527,627.26" fill="none" stroke="#8a6a48" stroke-width="1.1"/>
<polyline points="532.59,652.6 537.99,629.22 543.99,629.01" fill="none" stroke="#8a6a48" stroke-width="1.1"/>
<polyline points="544.87,652.6 556.87,631.82 562.67,633.37" fill="none" stroke="#8a6a48" stroke-width="1.1"/>
<polyline points="557.15,652.6 577.72,640.24 582.04,644.41" fill="none" stroke="#8a6a48" stroke-width="1.1"/>
<polyline points="569.43,652.6 589.09,638.83 593.68,642.69" fill="none" stroke="#8a6a48" stroke-width="1.1"/>
<polyline points="581.71,652.6 604.99,646.79 607.9,652.04" fill="none" stroke="#8a6a48" stroke-width="1.1"/>
<polyline points="593.99,652.6 616.81,660.02 616.5,666.01" fill="none" stroke="#8a6a48" stroke-width="1.1"/>
<polyline points="606.26,652.6 612.88,629.53 618.88,629.63" fill="none" stroke="#8a6a48" stroke-width="1.1"/>
<polyline points="618.54,652.6 625.16,629.53 631.16,629.63" fill="none" stroke="#8a6a48" stroke-width="1.1"/>
<polyline points="630.82,652.6 644.59,632.94 650.23,634.99" fill="none" stroke="#8a6a48" stroke-width="1.1"/>
<polyline points="643.1,652.6 665.19,643.22 668.89,647.95" fill="none" stroke="#8a6a48" stroke-width="1.1"/>
<polyline points="655.38,652.6 678.67,646.79 681.58,652.04" fill="none" stroke="#8a6a48" stroke-width="1.1"/>
<polyline points="667.66,652.6 691.48,649.68 693.73,655.24" fill="none" stroke="#8a6a48" stroke-width="1.1"/>
<polyline points="679.94,652.6 703.5,657.18 703.92,663.16" fill="none" stroke="#8a6a48" stroke-width="1.1"/>
<polyline points="692.22,652.6 714.47,661.59 713.74,667.55" fill="none" stroke="#8a6a48" stroke-width="1.1"/>
<polyline points="704.5,652.6 723.66,638.16 728.39,641.85" fill="none" stroke="#8a6a48" stroke-width="1.1"/>
<polyline points="716.78,652.6 737.56,640.6 741.8,644.84" fill="none" stroke="#8a6a48" stroke-width="1.1"/>
<polyline points="729.05,652.6 740.32,631.41 746.17,632.76" fill="none" stroke="#8a6a48" stroke-width="1.1"/>
<polyline points="741.33,652.6 757.7,635.05 763,637.86" fill="none" stroke="#8a6a48" stroke-width="1.1"/>
<polyline points="753.61,652.6 775.18,642.08 779.12,646.61" fill="none" stroke="#8a6a48" stroke-width="1.1"/>
<polyline points="765.89,652.6 787.98,643.22 791.68,647.95" fill="none" stroke="#8a6a48" stroke-width="1.1"/>
<polyline points="778.17,652.6 802.08,650.51 804.13,656.15" fill="none" stroke="#8a6a48" stroke-width="1.1"/>
<polyline points="790.45,652.6 813.93,657.59 814.24,663.58" fill="none" stroke="#8a6a48" stroke-width="1.1"/>
<polyline points="802.73,652.6 826.36,656.77 826.89,662.74" fill="none" stroke="#8a6a48" stroke-width="1.1"/>
<polyline points="815.01,652.6 836.58,642.08 840.52,646.61" fill="none" stroke="#8a6a48" stroke-width="1.1"/>
<polyline points="827.29,652.6 843.96,635.34 849.21,638.24" fill="none" stroke="#8a6a48" stroke-width="1.1"/>
<polyline points="839.57,652.6 857.95,637.17 862.87,640.61" fill="none" stroke="#8a6a48" stroke-width="1.1"/>
<polyline points="851.85,652.6 875.03,646.39 878.03,651.58" fill="none" stroke="#8a6a48" stroke-width="1.1"/>
<polyline points="864.12,652.6 888.09,651.34 889.95,657.05" fill="none" stroke="#8a6a48" stroke-width="1.1"/>
<polyline points="876.4,652.6 899.69,658.41 899.79,664.41" fill="none" stroke="#8a6a48" stroke-width="1.1"/>
<polyline points="888.68,652.6 909.04,665.32 907.28,671.06" fill="none" stroke="#8a6a48" stroke-width="1.1"/>
<polyline points="900.96,652.6 921.75,664.6 920.19,670.4" fill="none" stroke="#8a6a48" stroke-width="1.1"/>
<polyline points="913.24,652.6 936.07,645.18 939.33,650.22" fill="none" stroke="#8a6a48" stroke-width="1.1"/>
<polyline points="925.52,652.6 944.69,638.16 949.41,641.85" fill="none" stroke="#8a6a48" stroke-width="1.1"/>
<polyline points="937.8,652.6 957.21,638.49 961.88,642.27" fill="none" stroke="#8a6a48" stroke-width="1.1"/>
<polyline points="950.08,652.6 973.15,645.98 976.24,651.13" fill="none" stroke="#8a6a48" stroke-width="1.1"/>
<polyline points="962.36,652.6 985.74,647.2 988.56,652.5" fill="none" stroke="#8a6a48" stroke-width="1.1"/>
<polyline points="974.63,652.6 998.63,652.6 1000.19,658.4" fill="none" stroke="#8a6a48" stroke-width="1.1"/>
<polyline points="986.91,652.6 1008.3,663.5 1007.05,669.36" fill="none" stroke="#8a6a48" stroke-width="1.1"/>
<polyline points="999.19,652.6 1020.94,662.74 1019.9,668.65" fill="none" stroke="#8a6a48" stroke-width="1.1"/>
<polyline points="1011.47,652.6 1033.22,662.74 1032.18,668.65" fill="none" stroke="#8a6a48" stroke-width="1.1"/>
<polyline points="1023.75,652.6 1046.93,646.39 1049.93,651.58" fill="none" stroke="#8a6a48" stroke-width="1.1"/>
<polyline points="1036.03,652.6 1057.78,642.46 1061.64,647.05" fill="none" stroke="#8a6a48" stroke-width="1.1"/>
<polyline points="1048.31,652.6 1067.97,638.83 1072.56,642.69" fill="none" stroke="#8a6a48" stroke-width="1.1"/>
<polyline points="1060.59,652.6 1082.34,642.46 1086.2,647.05" fill="none" stroke="#8a6a48" stroke-width="1.1"/>
<polyline points="1072.87,652.6 1096.78,650.51 1098.83,656.15" fill="none" stroke="#8a6a48" stroke-width="1.1"/>
<polyline points="1085.15,652.6 1109.05,654.69 1110.1,660.6" fill="none" stroke="#8a6a48" stroke-width="1.1"/>
<polyline points="126.38,644.6 138.66,628.2 150.94,639.1 163.22,636.9 175.5,637.3 187.78,641.3 200.06,643.2 212.34,629.6 224.62,637.3 236.89,622.8 249.17,635.9 261.45,641.3 273.73,641.3 286.01,640.5 298.29,652.2 310.57,642.7 322.85,647.8 335.13,622.4 347.41,642.3 359.69,640.5 371.96,639.8 384.24,648.5 396.52,655.4 408.8,652.5 421.08,644.6 433.36,630.4 445.64,644.2 457.92,635.9 470.2,644.2 482.48,655.8 494.75,670.8 507.03,681 519.31,672.8 531.59,639.1 543.87,653.6 556.15,656.5 568.43,663.1 580.71,667.5 592.99,676.9 605.26,689.7 617.54,687.8 629.82,644.9 642.1,652.2 654.38,656.8 666.66,656.5 678.94,662.1 691.22,669.6 703.5,672.5 715.78,680.5 728.05,643.5 740.33,652.9 752.61,652.2 764.89,649.6 777.17,652.5 789.45,666.7 801.73,668.9 814.01,663.1 826.29,632.5 838.57,637.6 850.85,636.2 863.12,640.8 875.4,643.6 887.68,656.8 899.96,649.6 912.24,650 924.52,630.4 936.8,640.8 949.08,643.2 961.36,647.1 973.63,644.2 985.91,646.7 998.19,630.5 1010.47,624.5 1022.75,630.5 1035.03,636 1047.31,638.5 1059.59,647.5 1071.87,643 1084.15,652 1096.42,625" fill="none" stroke="#ff8000" stroke-width="1" stroke-linejoin="round" />
<polygon points="126.38,641.3 128.78,644.6 126.38,647.9 123.98,644.6" fill="none" stroke="#ff8000" stroke-width="1.1"/>
<polygon points="138.66,624.9 141.06,628.2 138.66,631.5 136.26,628.2" fill="none" stroke="#ff8000" stroke-width="1.1"/>
<polygon points="150.94,635.8 153.34,639.1 150.94,642.4 148.54,639.1" fill="none" stroke="#ff8000" stroke-width="1.1"/>
<polygon points="163.22,633.6 165.62,636.9 163.22,640.2 160.82,636.9" fill="none" stroke="#ff8000" stroke-width="1.1"/>
<polygon points="175.5,634 177.9,637.3 175.5,640.6 173.1,637.3" fill="none" stroke="#ff8000" stroke-width="1.1"/>
<polygon points="187.78,638 190.18,641.3 187.78,644.6 185.38,641.3" fill="none" stroke="#ff8000" stroke-width="1.1"/>
<polygon points="200.06,639.9 202.46,643.2 200.06,646.5 197.66,643.2" fill="none" stroke="#ff8000" stroke-width="1.1"/>
<polygon points="212.34,626.3 214.74,629.6 212.34,632.9 209.94,629.6" fill="none" stroke="#ff8000" stroke-width="1.1"/>
<polygon points="224.62,634 227.02,637.3 224.62,640.6 222.22,637.3" fill="none" stroke="#ff8000" stroke-width="1.1"/>
<polygon points="236.89,619.5 239.29,622.8 236.89,626.1 234.49,622.8" fill="none" stroke="#ff8000" stroke-width="1.1"/>
<polygon points="249.17,632.6 251.57,635.9 249.17,639.2 246.77,635.9" fill="none" stroke="#ff8000" stroke-width="1.1"/>
<polygon points="261.45,638 263.85,641.3 261.45,644.6 259.05,641.3" fill="none" stroke="#ff8000" stroke-width="1.1"/>
<polygon points="273.73,638 276.13,641.3 273.73,644.6 271.33,641.3" fill="none" stroke="#ff8000" stroke-width="1.1"/>
<polygon points="286.01,637.2 288.41,640.5 286.01,643.8 283.61,640.5" fill="none" stroke="#ff8000" stroke-width="1.1"/>
<polygon points="298.29,648.9 300.69,652.2 298.29,655.5 295.89,652.2" fill="none" stroke="#ff8000" stroke-width="1.1"/>
<polygon points="310.57,639.4 312.97,642.7 310.57,646 308.17,642.7" fill="none" stroke="#ff8000" stroke-width="1.1"/>
<polygon points="322.85,644.5 325.25,647.8 322.85,651.1 320.45,647.8" fill="none" stroke="#ff8000" stroke-width="1.1"/>
<polygon points="335.13,619.1 337.53,622.4 335.13,625.7 332.73,622.4" fill="none" stroke="#ff8000" stroke-width="1.1"/>
<polygon points="347.41,639 349.81,642.3 347.41,645.6 345.01,642.3" fill="none" stroke="#ff8000" stroke-width="1.1"/>
<polygon points="359.69,637.2 362.08,640.5 359.69,643.8 357.29,640.5" fill="none" stroke="#ff8000" stroke-width="1.1"/>
<polygon points="371.96,636.5 374.36,639.8 371.96,643.1 369.56,639.8" fill="none" stroke="#ff8000" stroke-width="1.1"/>
<polygon points="384.24,645.2 386.64,648.5 384.24,651.8 381.84,648.5" fill="none" stroke="#ff8000" stroke-width="1.1"/>
<polygon points="396.52,652.1 398.92,655.4 396.52,658.7 394.12,655.4" fill="none" stroke="#ff8000" stroke-width="1.1"/>
<polygon points="408.8,649.2 411.2,652.5 408.8,655.8 406.4,652.5" fill="none" stroke="#ff8000" stroke-width="1.1"/>
<polygon points="421.08,641.3 423.48,644.6 421.08,647.9 418.68,644.6" fill="none" stroke="#ff8000" stroke-width="1.1"/>
<polygon points="433.36,627.1 435.76,630.4 433.36,633.7 430.96,630.4" fill="none" stroke="#ff8000" stroke-width="1.1"/>
<polygon points="445.64,640.9 448.04,644.2 445.64,647.5 443.24,644.2" fill="none" stroke="#ff8000" stroke-width="1.1"/>
<polygon points="457.92,632.6 460.32,635.9 457.92,639.2 455.52,635.9" fill="none" stroke="#ff8000" stroke-width="1.1"/>
<polygon points="470.2,640.9 472.6,644.2 470.2,647.5 467.8,644.2" fill="none" stroke="#ff8000" stroke-width="1.1"/>
<polygon points="482.48,652.5 484.88,655.8 482.48,659.1 480.08,655.8" fill="none" stroke="#ff8000" stroke-width="1.1"/>
<polygon points="494.75,667.5 497.15,670.8 494.75,674.1 492.35,670.8" fill="none" stroke="#ff8000" stroke-width="1.1"/>
<polygon points="507.03,677.7 509.43,681 507.03,684.3 504.63,681" fill="none" stroke="#ff8000" stroke-width="1.1"/>
<polygon points="519.31,669.5 521.71,672.8 519.31,676.1 516.91,672.8" fill="none" stroke="#ff8000" stroke-width="1.1"/>
<polygon points="531.59,635.8 533.99,639.1 531.59,642.4 529.19,639.1" fill="none" stroke="#ff8000" stroke-width="1.1"/>
<polygon points="543.87,650.3 546.27,653.6 543.87,656.9 541.47,653.6" fill="none" stroke="#ff8000" stroke-width="1.1"/>
<polygon points="556.15,653.2 558.55,656.5 556.15,659.8 553.75,656.5" fill="none" stroke="#ff8000" stroke-width="1.1"/>
<polygon points="568.43,659.8 570.83,663.1 568.43,666.4 566.03,663.1" fill="none" stroke="#ff8000" stroke-width="1.1"/>
<polygon points="580.71,664.2 583.11,667.5 580.71,670.8 578.31,667.5" fill="none" stroke="#ff8000" stroke-width="1.1"/>
<polygon points="592.99,673.6 595.39,676.9 592.99,680.2 590.59,676.9" fill="none" stroke="#ff8000" stroke-width="1.1"/>
<polygon points="605.26,686.4 607.66,689.7 605.26,693 602.87,689.7" fill="none" stroke="#ff8000" stroke-width="1.1"/>
<polygon points="617.54,684.5 619.94,687.8 617.54,691.1 615.14,687.8" fill="none" stroke="#ff8000" stroke-width="1.1"/>
<polygon points="629.82,641.6 632.22,644.9 629.82,648.2 627.42,644.9" fill="none" stroke="#ff8000" stroke-width="1.1"/>
<polygon points="642.1,648.9 644.5,652.2 642.1,655.5 639.7,652.2" fill="none" stroke="#ff8000" stroke-width="1.1"/>
<polygon points="654.38,653.5 656.78,656.8 654.38,660.1 651.98,656.8" fill="none" stroke="#ff8000" stroke-width="1.1"/>
<polygon points="666.66,653.2 669.06,656.5 666.66,659.8 664.26,656.5" fill="none" stroke="#ff8000" stroke-width="1.1"/>
<polygon points="678.94,658.8 681.34,662.1 678.94,665.4 676.54,662.1" fill="none" stroke="#ff8000" stroke-width="1.1"/>
<polygon points="691.22,666.3 693.62,669.6 691.22,672.9 688.82,669.6" fill="none" stroke="#ff8000" stroke-width="1.1"/>
<polygon points="703.5,669.2 705.9,672.5 703.5,675.8 701.1,672.5" fill="none" stroke="#ff8000" stroke-width="1.1"/>
<polygon points="715.78,677.2 718.18,680.5 715.78,683.8 713.38,680.5" fill="none" stroke="#ff8000" stroke-width="1.1"/>
<polygon points="728.05,640.2 730.45,643.5 728.05,646.8 725.65,643.5" fill="none" stroke="#ff8000" stroke-width="1.1"/>
<polygon points="740.33,649.6 742.73,652.9 740.33,656.2 737.93,652.9" fill="none" stroke="#ff8000" stroke-width="1.1"/>
<polygon points="752.61,648.9 755.01,652.2 752.61,655.5 750.21,652.2" fill="none" stroke="#ff8000" stroke-width="1.1"/>
<polygon points="764.89,646.3 767.29,649.6 764.89,652.9 762.49,649.6" fill="none" stroke="#ff8000" stroke-width="1.1"/>
<polygon points="777.17,649.2 779.57,652.5 777.17,655.8 774.77,652.5" fill="none" stroke="#ff8000" stroke-width="1.1"/>
<polygon points="789.45,663.4 791.85,666.7 789.45,670 787.05,666.7" fill="none" stroke="#ff8000" stroke-width="1.1"/>
<polygon points="801.73,665.6 804.13,668.9 801.73,672.2 799.33,668.9" fill="none" stroke="#ff8000" stroke-width="1.1"/>
<polygon points="814.01,659.8 816.41,663.1 814.01,666.4 811.61,663.1" fill="none" stroke="#ff8000" stroke-width="1.1"/>
<polygon points="826.29,629.2 828.69,632.5 826.29,635.8 823.89,632.5" fill="none" stroke="#ff8000" stroke-width="1.1"/>
<polygon points="838.57,634.3 840.97,637.6 838.57,640.9 836.17,637.6" fill="none" stroke="#ff8000" stroke-width="1.1"/>
<polygon points="850.85,632.9 853.25,636.2 850.85,639.5 848.45,636.2" fill="none" stroke="#ff8000" stroke-width="1.1"/>
<polygon points="863.12,637.5 865.52,640.8 863.12,644.1 860.72,640.8" fill="none" stroke="#ff8000" stroke-width="1.1"/>
<polygon points="875.4,640.3 877.8,643.6 875.4,646.9 873,643.6" fill="none" stroke="#ff8000" stroke-width="1.1"/>
<polygon points="887.68,653.5 890.08,656.8 887.68,660.1 885.28,656.8" fill="none" stroke="#ff8000" stroke-width="1.1"/>
<polygon points="899.96,646.3 902.36,649.6 899.96,652.9 897.56,649.6" fill="none" stroke="#ff8000" stroke-width="1.1"/>
<polygon points="912.24,646.7 914.64,650 912.24,653.3 909.84,650" fill="none" stroke="#ff8000" stroke-width="1.1"/>
<polygon points="924.52,627.1 926.92,630.4 924.52,633.7 922.12,630.4" fill="none" stroke="#ff8000" stroke-width="1.1"/>
<polygon points="936.8,637.5 939.2,640.8 936.8,644.1 934.4,640.8" fill="none" stroke="#ff8000" stroke-width="1.1"/>
<polygon points="949.08,639.9 951.48,643.2 949.08,646.5 946.68,643.2" fill="none" stroke="#ff8000" stroke-width="1.1"/>
<polygon points="961.36,643.8 963.76,647.1 961.36,650.4 958.96,647.1" fill="none" stroke="#ff8000" stroke-width="1.1"/>
<polygon points="973.63,640.9 976.03,644.2 973.63,647.5 971.24,644.2" fill="none" stroke="#ff8000" stroke-width="1.1"/>
<polygon points="985.91,643.4 988.31,646.7 985.91,650 983.51,646.7" fill="none" stroke="#ff8000" stroke-width="1.1"/>
<polygon points="998.19,627.2 1000.59,630.5 998.19,633.8 995.79,630.5" fill="none" stroke="#ff8000" stroke-width="1.1"/>
<polygon points="1010.47,621.2 1012.87,624.5 1010.47,627.8 1008.07,624.5" fill="none" stroke="#ff8000" stroke-width="1.1"/>
<polygon points="1022.75,627.2 1025.15,630.5 1022.75,633.8 1020.35,630.5" fill="none" stroke="#ff8000" stroke-width="1.1"/>
<polygon points="1035.03,632.7 1037.43,636 1035.03,639.3 1032.63,636" fill="none" stroke="#ff8000" stroke-width="1.1"/>
<polygon points="1047.31,635.2 1049.71,638.5 1047.31,641.8 1044.91,638.5" fill="none" stroke="#ff8000" stroke-width="1.1"/>
<polygon points="1059.59,644.2 1061.99,647.5 1059.59,650.8 1057.19,647.5" fill="none" stroke="#ff8000" stroke-width="1.1"/>
<polygon points="1071.87,639.7 1074.27,643 1071.87,646.3 1069.47,643" fill="none" stroke="#ff8000" stroke-width="1.1"/>
<polygon points="1084.15,648.7 1086.55,652 1084.15,655.3 1081.75,652" fill="none" stroke="#ff8000" stroke-width="1.1"/>
</g>
<polyline points="126.38,712.5 138.66,713.5 150.94,722.5 163.22,726.1 175.5,730.2 187.78,734.6 200.06,731.3 212.34,716.3 224.62,709.7 236.89,709.7 249.17,720.4 261.45,725 273.73,729.4 286.01,733 298.29,730.3 310.57,716.3 322.85,710.1 335.13,710.9 347.41,719.9 359.69,724.5 371.96,729.4 384.24,733.1 396.52,730.2 408.8,717.1 421.08,710.9 433.36,711.7 445.64,720.4 457.92,725.3 470.2,729.5 482.48,733 494.75,730.2 507.03,717.9 519.31,711.7 531.59,710.9 543.87,719.5 556.15,724.1 568.43,727.2 580.71,729.9 592.99,727.7 605.26,715.5 617.54,708.9 629.82,708.9 642.1,715 654.38,721.2 666.66,726.1 678.94,729 691.22,726.1 703.5,712.2 715.78,706.8 728.05,706.8 740.33,715.5 752.61,720.4 764.89,725.3 777.17,728.1 789.45,725.8 801.73,711.8 814.01,704.8 826.29,705.6 838.57,715.5 850.85,720.4 863.12,725.3 875.4,728.1 887.68,725.8 899.96,711.4 912.24,704.8 924.52,704.8 936.8,715.5 949.08,720.8 961.36,725 973.63,727.7 985.91,725.8 998.19,709.5 1010.47,701.5 1022.75,703 1035.03,713.2 1047.31,717.5 1059.59,721.5 1071.87,724.8 1084.15,722.6" fill="none" stroke="#6e3b2b" stroke-width="1.8" stroke-linejoin="round" />
<line x1="150.94" y1="712.2" x2="150.94" y2="721.2" stroke="#6e3b2b" stroke-width="1.1" stroke-linecap="butt"/>
<line x1="147.94" y1="712.2" x2="153.94" y2="712.2" stroke="#6e3b2b" stroke-width="1.1" stroke-linecap="butt"/>
<line x1="147.94" y1="721.2" x2="153.94" y2="721.2" stroke="#6e3b2b" stroke-width="1.1" stroke-linecap="butt"/>
<line x1="175.5" y1="723.6" x2="175.5" y2="731.8" stroke="#6e3b2b" stroke-width="1.1" stroke-linecap="butt"/>
<line x1="172.5" y1="723.6" x2="178.5" y2="723.6" stroke="#6e3b2b" stroke-width="1.1" stroke-linecap="butt"/>
<line x1="172.5" y1="731.8" x2="178.5" y2="731.8" stroke="#6e3b2b" stroke-width="1.1" stroke-linecap="butt"/>
<line x1="200.06" y1="731" x2="200.06" y2="736.2" stroke="#6e3b2b" stroke-width="1.1" stroke-linecap="butt"/>
<line x1="197.06" y1="731" x2="203.06" y2="731" stroke="#6e3b2b" stroke-width="1.1" stroke-linecap="butt"/>
<line x1="197.06" y1="736.2" x2="203.06" y2="736.2" stroke="#6e3b2b" stroke-width="1.1" stroke-linecap="butt"/>
<line x1="224.62" y1="709.4" x2="224.62" y2="732.6" stroke="#6e3b2b" stroke-width="1.1" stroke-linecap="butt"/>
<line x1="221.62" y1="709.4" x2="227.62" y2="709.4" stroke="#6e3b2b" stroke-width="1.1" stroke-linecap="butt"/>
<line x1="221.62" y1="732.6" x2="227.62" y2="732.6" stroke="#6e3b2b" stroke-width="1.1" stroke-linecap="butt"/>
<line x1="249.17" y1="709.4" x2="249.17" y2="720.4" stroke="#6e3b2b" stroke-width="1.1" stroke-linecap="butt"/>
<line x1="246.17" y1="709.4" x2="252.17" y2="709.4" stroke="#6e3b2b" stroke-width="1.1" stroke-linecap="butt"/>
<line x1="246.17" y1="720.4" x2="252.17" y2="720.4" stroke="#6e3b2b" stroke-width="1.1" stroke-linecap="butt"/>
<line x1="273.73" y1="721.2" x2="273.73" y2="729.7" stroke="#6e3b2b" stroke-width="1.1" stroke-linecap="butt"/>
<line x1="270.73" y1="721.2" x2="276.73" y2="721.2" stroke="#6e3b2b" stroke-width="1.1" stroke-linecap="butt"/>
<line x1="270.73" y1="729.7" x2="276.73" y2="729.7" stroke="#6e3b2b" stroke-width="1.1" stroke-linecap="butt"/>
<line x1="298.29" y1="730" x2="298.29" y2="735.1" stroke="#6e3b2b" stroke-width="1.1" stroke-linecap="butt"/>
<line x1="295.29" y1="730" x2="301.29" y2="730" stroke="#6e3b2b" stroke-width="1.1" stroke-linecap="butt"/>
<line x1="295.29" y1="735.1" x2="301.29" y2="735.1" stroke="#6e3b2b" stroke-width="1.1" stroke-linecap="butt"/>
<line x1="322.85" y1="709.7" x2="322.85" y2="731.3" stroke="#6e3b2b" stroke-width="1.1" stroke-linecap="butt"/>
<line x1="319.85" y1="709.7" x2="325.85" y2="709.7" stroke="#6e3b2b" stroke-width="1.1" stroke-linecap="butt"/>
<line x1="319.85" y1="731.3" x2="325.85" y2="731.3" stroke="#6e3b2b" stroke-width="1.1" stroke-linecap="butt"/>
<line x1="347.41" y1="709.4" x2="347.41" y2="719.9" stroke="#6e3b2b" stroke-width="1.1" stroke-linecap="butt"/>
<line x1="344.41" y1="709.4" x2="350.41" y2="709.4" stroke="#6e3b2b" stroke-width="1.1" stroke-linecap="butt"/>
<line x1="344.41" y1="719.9" x2="350.41" y2="719.9" stroke="#6e3b2b" stroke-width="1.1" stroke-linecap="butt"/>
<line x1="396.52" y1="730.2" x2="396.52" y2="734.3" stroke="#6e3b2b" stroke-width="1.1" stroke-linecap="butt"/>
<line x1="393.52" y1="730.2" x2="399.52" y2="730.2" stroke="#6e3b2b" stroke-width="1.1" stroke-linecap="butt"/>
<line x1="393.52" y1="734.3" x2="399.52" y2="734.3" stroke="#6e3b2b" stroke-width="1.1" stroke-linecap="butt"/>
<line x1="421.08" y1="710.9" x2="421.08" y2="730.2" stroke="#6e3b2b" stroke-width="1.1" stroke-linecap="butt"/>
<line x1="418.08" y1="710.9" x2="424.08" y2="710.9" stroke="#6e3b2b" stroke-width="1.1" stroke-linecap="butt"/>
<line x1="418.08" y1="730.2" x2="424.08" y2="730.2" stroke="#6e3b2b" stroke-width="1.1" stroke-linecap="butt"/>
<line x1="445.64" y1="710.5" x2="445.64" y2="720.4" stroke="#6e3b2b" stroke-width="1.1" stroke-linecap="butt"/>
<line x1="442.64" y1="710.5" x2="448.64" y2="710.5" stroke="#6e3b2b" stroke-width="1.1" stroke-linecap="butt"/>
<line x1="442.64" y1="720.4" x2="448.64" y2="720.4" stroke="#6e3b2b" stroke-width="1.1" stroke-linecap="butt"/>
<line x1="470.2" y1="721.2" x2="470.2" y2="729.5" stroke="#6e3b2b" stroke-width="1.1" stroke-linecap="butt"/>
<line x1="467.2" y1="721.2" x2="473.2" y2="721.2" stroke="#6e3b2b" stroke-width="1.1" stroke-linecap="butt"/>
<line x1="467.2" y1="729.5" x2="473.2" y2="729.5" stroke="#6e3b2b" stroke-width="1.1" stroke-linecap="butt"/>
<line x1="494.75" y1="730.2" x2="494.75" y2="734.3" stroke="#6e3b2b" stroke-width="1.1" stroke-linecap="butt"/>
<line x1="491.75" y1="730.2" x2="497.75" y2="730.2" stroke="#6e3b2b" stroke-width="1.1" stroke-linecap="butt"/>
<line x1="491.75" y1="734.3" x2="497.75" y2="734.3" stroke="#6e3b2b" stroke-width="1.1" stroke-linecap="butt"/>
<line x1="519.31" y1="711.7" x2="519.31" y2="730.2" stroke="#6e3b2b" stroke-width="1.1" stroke-linecap="butt"/>
<line x1="516.31" y1="711.7" x2="522.31" y2="711.7" stroke="#6e3b2b" stroke-width="1.1" stroke-linecap="butt"/>
<line x1="516.31" y1="730.2" x2="522.31" y2="730.2" stroke="#6e3b2b" stroke-width="1.1" stroke-linecap="butt"/>
<line x1="543.87" y1="710.5" x2="543.87" y2="719.5" stroke="#6e3b2b" stroke-width="1.1" stroke-linecap="butt"/>
<line x1="540.87" y1="710.5" x2="546.87" y2="710.5" stroke="#6e3b2b" stroke-width="1.1" stroke-linecap="butt"/>
<line x1="540.87" y1="719.5" x2="546.87" y2="719.5" stroke="#6e3b2b" stroke-width="1.1" stroke-linecap="butt"/>
<line x1="592.99" y1="727.7" x2="592.99" y2="732.3" stroke="#6e3b2b" stroke-width="1.1" stroke-linecap="butt"/>
<line x1="589.99" y1="727.7" x2="595.99" y2="727.7" stroke="#6e3b2b" stroke-width="1.1" stroke-linecap="butt"/>
<line x1="589.99" y1="732.3" x2="595.99" y2="732.3" stroke="#6e3b2b" stroke-width="1.1" stroke-linecap="butt"/>
<line x1="617.54" y1="708.9" x2="617.54" y2="728.6" stroke="#6e3b2b" stroke-width="1.1" stroke-linecap="butt"/>
<line x1="614.54" y1="708.9" x2="620.54" y2="708.9" stroke="#6e3b2b" stroke-width="1.1" stroke-linecap="butt"/>
<line x1="614.54" y1="728.6" x2="620.54" y2="728.6" stroke="#6e3b2b" stroke-width="1.1" stroke-linecap="butt"/>
<line x1="642.1" y1="707.3" x2="642.1" y2="716" stroke="#6e3b2b" stroke-width="1.1" stroke-linecap="butt"/>
<line x1="639.1" y1="707.3" x2="645.1" y2="707.3" stroke="#6e3b2b" stroke-width="1.1" stroke-linecap="butt"/>
<line x1="639.1" y1="716" x2="645.1" y2="716" stroke="#6e3b2b" stroke-width="1.1" stroke-linecap="butt"/>
<line x1="666.66" y1="717.1" x2="666.66" y2="726.1" stroke="#6e3b2b" stroke-width="1.1" stroke-linecap="butt"/>
<line x1="663.66" y1="717.1" x2="669.66" y2="717.1" stroke="#6e3b2b" stroke-width="1.1" stroke-linecap="butt"/>
<line x1="663.66" y1="726.1" x2="669.66" y2="726.1" stroke="#6e3b2b" stroke-width="1.1" stroke-linecap="butt"/>
<line x1="691.22" y1="726.1" x2="691.22" y2="730.2" stroke="#6e3b2b" stroke-width="1.1" stroke-linecap="butt"/>
<line x1="688.22" y1="726.1" x2="694.22" y2="726.1" stroke="#6e3b2b" stroke-width="1.1" stroke-linecap="butt"/>
<line x1="688.22" y1="730.2" x2="694.22" y2="730.2" stroke="#6e3b2b" stroke-width="1.1" stroke-linecap="butt"/>
<line x1="715.78" y1="706.8" x2="715.78" y2="726.4" stroke="#6e3b2b" stroke-width="1.1" stroke-linecap="butt"/>
<line x1="712.78" y1="706.8" x2="718.78" y2="706.8" stroke="#6e3b2b" stroke-width="1.1" stroke-linecap="butt"/>
<line x1="712.78" y1="726.4" x2="718.78" y2="726.4" stroke="#6e3b2b" stroke-width="1.1" stroke-linecap="butt"/>
<line x1="740.33" y1="706.5" x2="740.33" y2="715.5" stroke="#6e3b2b" stroke-width="1.1" stroke-linecap="butt"/>
<line x1="737.33" y1="706.5" x2="743.33" y2="706.5" stroke="#6e3b2b" stroke-width="1.1" stroke-linecap="butt"/>
<line x1="737.33" y1="715.5" x2="743.33" y2="715.5" stroke="#6e3b2b" stroke-width="1.1" stroke-linecap="butt"/>
<line x1="764.89" y1="716.3" x2="764.89" y2="725.3" stroke="#6e3b2b" stroke-width="1.1" stroke-linecap="butt"/>
<line x1="761.89" y1="716.3" x2="767.89" y2="716.3" stroke="#6e3b2b" stroke-width="1.1" stroke-linecap="butt"/>
<line x1="761.89" y1="725.3" x2="767.89" y2="725.3" stroke="#6e3b2b" stroke-width="1.1" stroke-linecap="butt"/>
<line x1="789.45" y1="725.8" x2="789.45" y2="730.2" stroke="#6e3b2b" stroke-width="1.1" stroke-linecap="butt"/>
<line x1="786.45" y1="725.8" x2="792.45" y2="725.8" stroke="#6e3b2b" stroke-width="1.1" stroke-linecap="butt"/>
<line x1="786.45" y1="730.2" x2="792.45" y2="730.2" stroke="#6e3b2b" stroke-width="1.1" stroke-linecap="butt"/>
<line x1="814.01" y1="704.8" x2="814.01" y2="726.4" stroke="#6e3b2b" stroke-width="1.1" stroke-linecap="butt"/>
<line x1="811.01" y1="704.8" x2="817.01" y2="704.8" stroke="#6e3b2b" stroke-width="1.1" stroke-linecap="butt"/>
<line x1="811.01" y1="726.4" x2="817.01" y2="726.4" stroke="#6e3b2b" stroke-width="1.1" stroke-linecap="butt"/>
<line x1="838.57" y1="704.5" x2="838.57" y2="715.5" stroke="#6e3b2b" stroke-width="1.1" stroke-linecap="butt"/>
<line x1="835.57" y1="704.5" x2="841.57" y2="704.5" stroke="#6e3b2b" stroke-width="1.1" stroke-linecap="butt"/>
<line x1="835.57" y1="715.5" x2="841.57" y2="715.5" stroke="#6e3b2b" stroke-width="1.1" stroke-linecap="butt"/>
<line x1="863.12" y1="716.3" x2="863.12" y2="725.3" stroke="#6e3b2b" stroke-width="1.1" stroke-linecap="butt"/>
<line x1="860.12" y1="716.3" x2="866.12" y2="716.3" stroke="#6e3b2b" stroke-width="1.1" stroke-linecap="butt"/>
<line x1="860.12" y1="725.3" x2="866.12" y2="725.3" stroke="#6e3b2b" stroke-width="1.1" stroke-linecap="butt"/>
<line x1="887.68" y1="725.8" x2="887.68" y2="730.2" stroke="#6e3b2b" stroke-width="1.1" stroke-linecap="butt"/>
<line x1="884.68" y1="725.8" x2="890.68" y2="725.8" stroke="#6e3b2b" stroke-width="1.1" stroke-linecap="butt"/>
<line x1="884.68" y1="730.2" x2="890.68" y2="730.2" stroke="#6e3b2b" stroke-width="1.1" stroke-linecap="butt"/>
<line x1="912.24" y1="704.8" x2="912.24" y2="726.4" stroke="#6e3b2b" stroke-width="1.1" stroke-linecap="butt"/>
<line x1="909.24" y1="704.8" x2="915.24" y2="704.8" stroke="#6e3b2b" stroke-width="1.1" stroke-linecap="butt"/>
<line x1="909.24" y1="726.4" x2="915.24" y2="726.4" stroke="#6e3b2b" stroke-width="1.1" stroke-linecap="butt"/>
<line x1="936.8" y1="703.2" x2="936.8" y2="715.5" stroke="#6e3b2b" stroke-width="1.1" stroke-linecap="butt"/>
<line x1="933.8" y1="703.2" x2="939.8" y2="703.2" stroke="#6e3b2b" stroke-width="1.1" stroke-linecap="butt"/>
<line x1="933.8" y1="715.5" x2="939.8" y2="715.5" stroke="#6e3b2b" stroke-width="1.1" stroke-linecap="butt"/>
<line x1="961.36" y1="716.5" x2="961.36" y2="725" stroke="#6e3b2b" stroke-width="1.1" stroke-linecap="butt"/>
<line x1="958.36" y1="716.5" x2="964.36" y2="716.5" stroke="#6e3b2b" stroke-width="1.1" stroke-linecap="butt"/>
<line x1="958.36" y1="725" x2="964.36" y2="725" stroke="#6e3b2b" stroke-width="1.1" stroke-linecap="butt"/>
<line x1="985.91" y1="725.8" x2="985.91" y2="729.2" stroke="#6e3b2b" stroke-width="1.1" stroke-linecap="butt"/>
<line x1="982.91" y1="725.8" x2="988.91" y2="725.8" stroke="#6e3b2b" stroke-width="1.1" stroke-linecap="butt"/>
<line x1="982.91" y1="729.2" x2="988.91" y2="729.2" stroke="#6e3b2b" stroke-width="1.1" stroke-linecap="butt"/>
<line x1="1010.47" y1="701.5" x2="1010.47" y2="726.3" stroke="#6e3b2b" stroke-width="1.1" stroke-linecap="butt"/>
<line x1="1007.47" y1="701.5" x2="1013.47" y2="701.5" stroke="#6e3b2b" stroke-width="1.1" stroke-linecap="butt"/>
<line x1="1007.47" y1="726.3" x2="1013.47" y2="726.3" stroke="#6e3b2b" stroke-width="1.1" stroke-linecap="butt"/>
<line x1="1035.03" y1="701.1" x2="1035.03" y2="713.2" stroke="#6e3b2b" stroke-width="1.1" stroke-linecap="butt"/>
<line x1="1032.03" y1="701.1" x2="1038.03" y2="701.1" stroke="#6e3b2b" stroke-width="1.1" stroke-linecap="butt"/>
<line x1="1032.03" y1="713.2" x2="1038.03" y2="713.2" stroke="#6e3b2b" stroke-width="1.1" stroke-linecap="butt"/>
<line x1="1059.59" y1="714.3" x2="1059.59" y2="721.5" stroke="#6e3b2b" stroke-width="1.1" stroke-linecap="butt"/>
<line x1="1056.59" y1="714.3" x2="1062.59" y2="714.3" stroke="#6e3b2b" stroke-width="1.1" stroke-linecap="butt"/>
<line x1="1056.59" y1="721.5" x2="1062.59" y2="721.5" stroke="#6e3b2b" stroke-width="1.1" stroke-linecap="butt"/>
<line x1="1084.15" y1="722.3" x2="1084.15" y2="727.3" stroke="#6e3b2b" stroke-width="1.1" stroke-linecap="butt"/>
<line x1="1081.15" y1="722.3" x2="1087.15" y2="722.3" stroke="#6e3b2b" stroke-width="1.1" stroke-linecap="butt"/>
<line x1="1081.15" y1="727.3" x2="1087.15" y2="727.3" stroke="#6e3b2b" stroke-width="1.1" stroke-linecap="butt"/>
<polyline points="126.38,762.9 138.66,765.4 150.94,765.4 163.22,767.8 175.5,767.8 187.78,767.8 200.06,767.3 212.34,767 224.62,771.1 236.89,774.4 249.17,774.9 261.45,774.9 273.73,773.2 286.01,766.2 298.29,763.7 310.57,763.7 322.85,764.6 335.13,767.8 347.41,768.6 359.69,767.8 371.96,760.1 384.24,758 396.52,758 408.8,759.6 421.08,762.9 433.36,766.2 445.64,767.8 457.92,762.1 470.2,758 482.48,758 494.75,759.6 507.03,762.1 519.31,764.6 531.59,765.7 543.87,762.9 556.15,762.9 568.43,762.9 580.71,762.1 592.99,760.5 605.26,759.6 617.54,762.9 629.82,765.4 642.1,764.2 654.38,762.9 666.66,761.8 678.94,760.5 691.22,761 703.5,761.3 715.78,765.7 728.05,765.7 740.33,765.7 752.61,765.7 764.89,767.8 777.17,767.8 789.45,767.8 801.73,768.6 814.01,770.3 826.29,769 838.57,768.6 850.85,766.2 863.12,765.7 875.4,765.7 887.68,765.7 899.96,763.7 912.24,767 924.52,766.2 936.8,765.7 949.08,766.3 961.36,766.3 973.63,766.3 985.91,763.1 998.19,761.6 1010.47,767 1022.75,769.2 1035.03,766.6 1047.31,766 1059.59,765.1 1071.87,765.1 1084.15,765.5" fill="none" stroke="#f4f4f4" stroke-width="1.2" stroke-linejoin="round" />
<polyline points="126.38,762.9 138.66,765.4 150.94,765.4 163.22,767.8 175.5,767.8 187.78,767.8 200.06,767.3 212.34,767 224.62,771.1 236.89,774.4 249.17,774.9 261.45,774.9 273.73,773.2 286.01,766.2 298.29,763.7 310.57,763.7 322.85,764.6 335.13,767.8 347.41,768.6 359.69,767.8 371.96,760.1 384.24,758 396.52,758 408.8,759.6 421.08,762.9 433.36,766.2 445.64,767.8 457.92,762.1 470.2,758 482.48,758 494.75,759.6 507.03,762.1 519.31,764.6 531.59,765.7 543.87,762.9 556.15,762.9 568.43,762.9 580.71,762.1 592.99,760.5 605.26,759.6 617.54,762.9 629.82,765.4 642.1,764.2 654.38,762.9 666.66,761.8 678.94,760.5 691.22,761 703.5,761.3 715.78,765.7 728.05,765.7 740.33,765.7 752.61,765.7 764.89,767.8 777.17,767.8 789.45,767.8 801.73,768.6 814.01,770.3 826.29,769 838.57,768.6 850.85,766.2 863.12,765.7 875.4,765.7 887.68,765.7 899.96,763.7 912.24,767 924.52,766.2 936.8,765.7 949.08,766.3 961.36,766.3 973.63,766.3 985.91,763.1 998.19,761.6 1010.47,767 1022.75,769.2 1035.03,766.6 1047.31,766 1059.59,765.1 1071.87,765.1 1084.15,765.5" fill="none" stroke="#8b3a23" stroke-width="2.2" stroke-linejoin="round" stroke-dasharray="3.6 2.4"/>
<polyline points="126.38,822.9 138.66,824.2 150.94,814.9 163.22,812.7 175.5,805.9 187.78,801 200.06,804.9 212.34,823.4 224.62,833.7 236.89,836 249.17,828.3 261.45,823.5 273.73,815.6 286.01,800 298.29,800 310.57,820.3 322.85,830.1 335.13,830.7 347.41,820.9 359.69,815.7 371.96,797.2 384.24,785.7 396.52,789 408.8,811.9 421.08,824.2 433.36,827 445.64,820.6 457.92,806.5 470.2,791.9 482.48,785.7 494.75,793.9 507.03,813.6 519.31,825 531.59,827.1 543.87,814.9 556.15,809.5 568.43,804.9 580.71,798.8 592.99,799.3 605.26,814.9 617.54,827 629.82,828.8 642.1,819 654.38,813.1 666.66,805.7 678.94,798.5 691.22,801.3 703.5,819.8 715.78,831.1 728.05,831.9 740.33,822.2 752.61,819 764.89,816 777.17,811.4 789.45,813.7 801.73,828.6 814.01,836.1 826.29,835.2 838.57,825 850.85,817.5 863.12,812.2 875.4,807.5 887.68,809.8 899.96,824.5 912.24,834 924.52,832.7 936.8,822.6 949.08,818.5 961.36,812.2 973.63,808.6 985.91,805.7 998.19,824.2 1010.47,836.2 1022.75,836.8 1035.03,825.9 1047.31,820 1059.59,814.4 1071.87,810.7 1084.15,813.6" fill="none" stroke="#108010" stroke-width="1.3" stroke-linejoin="round" />
<circle cx="126.38" cy="822.9" r="2.6" fill="#fff" stroke="#108010" stroke-width="1.2"/>
<circle cx="138.66" cy="824.2" r="2.6" fill="#fff" stroke="#108010" stroke-width="1.2"/>
<circle cx="150.94" cy="814.9" r="2.6" fill="#fff" stroke="#108010" stroke-width="1.2"/>
<circle cx="163.22" cy="812.7" r="2.6" fill="#fff" stroke="#108010" stroke-width="1.2"/>
<circle cx="175.5" cy="805.9" r="2.6" fill="#fff" stroke="#108010" stroke-width="1.2"/>
<circle cx="187.78" cy="801" r="2.6" fill="#fff" stroke="#108010" stroke-width="1.2"/>
<circle cx="200.06" cy="804.9" r="2.6" fill="#fff" stroke="#108010" stroke-width="1.2"/>
<circle cx="212.34" cy="823.4" r="2.6" fill="#fff" stroke="#108010" stroke-width="1.2"/>
<circle cx="224.62" cy="833.7" r="2.6" fill="#fff" stroke="#108010" stroke-width="1.2"/>
<circle cx="236.89" cy="836" r="2.6" fill="#fff" stroke="#108010" stroke-width="1.2"/>
<circle cx="249.17" cy="828.3" r="2.6" fill="#fff" stroke="#108010" stroke-width="1.2"/>
<circle cx="261.45" cy="823.5" r="2.6" fill="#fff" stroke="#108010" stroke-width="1.2"/>
<circle cx="273.73" cy="815.6" r="2.6" fill="#fff" stroke="#108010" stroke-width="1.2"/>
<circle cx="286.01" cy="800" r="2.6" fill="#fff" stroke="#108010" stroke-width="1.2"/>
<circle cx="298.29" cy="800" r="2.6" fill="#fff" stroke="#108010" stroke-width="1.2"/>
<circle cx="310.57" cy="820.3" r="2.6" fill="#fff" stroke="#108010" stroke-width="1.2"/>
<circle cx="322.85" cy="830.1" r="2.6" fill="#fff" stroke="#108010" stroke-width="1.2"/>
<circle cx="335.13" cy="830.7" r="2.6" fill="#fff" stroke="#108010" stroke-width="1.2"/>
<circle cx="347.41" cy="820.9" r="2.6" fill="#fff" stroke="#108010" stroke-width="1.2"/>
<circle cx="359.69" cy="815.7" r="2.6" fill="#fff" stroke="#108010" stroke-width="1.2"/>
<circle cx="371.96" cy="797.2" r="2.6" fill="#fff" stroke="#108010" stroke-width="1.2"/>
<circle cx="384.24" cy="785.7" r="2.6" fill="#fff" stroke="#108010" stroke-width="1.2"/>
<circle cx="396.52" cy="789" r="2.6" fill="#fff" stroke="#108010" stroke-width="1.2"/>
<circle cx="408.8" cy="811.9" r="2.6" fill="#fff" stroke="#108010" stroke-width="1.2"/>
<circle cx="421.08" cy="824.2" r="2.6" fill="#fff" stroke="#108010" stroke-width="1.2"/>
<circle cx="433.36" cy="827" r="2.6" fill="#fff" stroke="#108010" stroke-width="1.2"/>
<circle cx="445.64" cy="820.6" r="2.6" fill="#fff" stroke="#108010" stroke-width="1.2"/>
<circle cx="457.92" cy="806.5" r="2.6" fill="#fff" stroke="#108010" stroke-width="1.2"/>
<circle cx="470.2" cy="791.9" r="2.6" fill="#fff" stroke="#108010" stroke-width="1.2"/>
<circle cx="482.48" cy="785.7" r="2.6" fill="#fff" stroke="#108010" stroke-width="1.2"/>
<circle cx="494.75" cy="793.9" r="2.6" fill="#fff" stroke="#108010" stroke-width="1.2"/>
<circle cx="507.03" cy="813.6" r="2.6" fill="#fff" stroke="#108010" stroke-width="1.2"/>
<circle cx="519.31" cy="825" r="2.6" fill="#fff" stroke="#108010" stroke-width="1.2"/>
<circle cx="531.59" cy="827.1" r="2.6" fill="#fff" stroke="#108010" stroke-width="1.2"/>
<circle cx="543.87" cy="814.9" r="2.6" fill="#fff" stroke="#108010" stroke-width="1.2"/>
<circle cx="556.15" cy="809.5" r="2.6" fill="#fff" stroke="#108010" stroke-width="1.2"/>
<circle cx="568.43" cy="804.9" r="2.6" fill="#fff" stroke="#108010" stroke-width="1.2"/>
<circle cx="580.71" cy="798.8" r="2.6" fill="#fff" stroke="#108010" stroke-width="1.2"/>
<circle cx="592.99" cy="799.3" r="2.6" fill="#fff" stroke="#108010" stroke-width="1.2"/>
<circle cx="605.26" cy="814.9" r="2.6" fill="#fff" stroke="#108010" stroke-width="1.2"/>
<circle cx="617.54" cy="827" r="2.6" fill="#fff" stroke="#108010" stroke-width="1.2"/>
<circle cx="629.82" cy="828.8" r="2.6" fill="#fff" stroke="#108010" stroke-width="1.2"/>
<circle cx="642.1" cy="819" r="2.6" fill="#fff" stroke="#108010" stroke-width="1.2"/>
<circle cx="654.38" cy="813.1" r="2.6" fill="#fff" stroke="#108010" stroke-width="1.2"/>
<circle cx="666.66" cy="805.7" r="2.6" fill="#fff" stroke="#108010" stroke-width="1.2"/>
<circle cx="678.94" cy="798.5" r="2.6" fill="#fff" stroke="#108010" stroke-width="1.2"/>
<circle cx="691.22" cy="801.3" r="2.6" fill="#fff" stroke="#108010" stroke-width="1.2"/>
<circle cx="703.5" cy="819.8" r="2.6" fill="#fff" stroke="#108010" stroke-width="1.2"/>
<circle cx="715.78" cy="831.1" r="2.6" fill="#fff" stroke="#108010" stroke-width="1.2"/>
<circle cx="728.05" cy="831.9" r="2.6" fill="#fff" stroke="#108010" stroke-width="1.2"/>
<circle cx="740.33" cy="822.2" r="2.6" fill="#fff" stroke="#108010" stroke-width="1.2"/>
<circle cx="752.61" cy="819" r="2.6" fill="#fff" stroke="#108010" stroke-width="1.2"/>
<circle cx="764.89" cy="816" r="2.6" fill="#fff" stroke="#108010" stroke-width="1.2"/>
<circle cx="777.17" cy="811.4" r="2.6" fill="#fff" stroke="#108010" stroke-width="1.2"/>
<circle cx="789.45" cy="813.7" r="2.6" fill="#fff" stroke="#108010" stroke-width="1.2"/>
<circle cx="801.73" cy="828.6" r="2.6" fill="#fff" stroke="#108010" stroke-width="1.2"/>
<circle cx="814.01" cy="836.1" r="2.6" fill="#fff" stroke="#108010" stroke-width="1.2"/>
<circle cx="826.29" cy="835.2" r="2.6" fill="#fff" stroke="#108010" stroke-width="1.2"/>
<circle cx="838.57" cy="825" r="2.6" fill="#fff" stroke="#108010" stroke-width="1.2"/>
<circle cx="850.85" cy="817.5" r="2.6" fill="#fff" stroke="#108010" stroke-width="1.2"/>
<circle cx="863.12" cy="812.2" r="2.6" fill="#fff" stroke="#108010" stroke-width="1.2"/>
<circle cx="875.4" cy="807.5" r="2.6" fill="#fff" stroke="#108010" stroke-width="1.2"/>
<circle cx="887.68" cy="809.8" r="2.6" fill="#fff" stroke="#108010" stroke-width="1.2"/>
<circle cx="899.96" cy="824.5" r="2.6" fill="#fff" stroke="#108010" stroke-width="1.2"/>
<circle cx="912.24" cy="834" r="2.6" fill="#fff" stroke="#108010" stroke-width="1.2"/>
<circle cx="924.52" cy="832.7" r="2.6" fill="#fff" stroke="#108010" stroke-width="1.2"/>
<circle cx="936.8" cy="822.6" r="2.6" fill="#fff" stroke="#108010" stroke-width="1.2"/>
<circle cx="949.08" cy="818.5" r="2.6" fill="#fff" stroke="#108010" stroke-width="1.2"/>
<circle cx="961.36" cy="812.2" r="2.6" fill="#fff" stroke="#108010" stroke-width="1.2"/>
<circle cx="973.63" cy="808.6" r="2.6" fill="#fff" stroke="#108010" stroke-width="1.2"/>
<circle cx="985.91" cy="805.7" r="2.6" fill="#fff" stroke="#108010" stroke-width="1.2"/>
<circle cx="998.19" cy="824.2" r="2.6" fill="#fff" stroke="#108010" stroke-width="1.2"/>
<circle cx="1010.47" cy="836.2" r="2.6" fill="#fff" stroke="#108010" stroke-width="1.2"/>
<circle cx="1022.75" cy="836.8" r="2.6" fill="#fff" stroke="#108010" stroke-width="1.2"/>
<circle cx="1035.03" cy="825.9" r="2.6" fill="#fff" stroke="#108010" stroke-width="1.2"/>
<circle cx="1047.31" cy="820" r="2.6" fill="#fff" stroke="#108010" stroke-width="1.2"/>
<circle cx="1059.59" cy="814.4" r="2.6" fill="#fff" stroke="#108010" stroke-width="1.2"/>
<circle cx="1071.87" cy="810.7" r="2.6" fill="#fff" stroke="#108010" stroke-width="1.2"/>
<circle cx="1084.15" cy="813.6" r="2.6" fill="#fff" stroke="#108010" stroke-width="1.2"/>
<rect x="120.5" y="70.5" width="970" height="370" fill="none" stroke="#000" stroke-width="1" shape-rendering="crispEdges"/>
<rect x="120.5" y="440.5" width="970" height="85" fill="none" stroke="#000" stroke-width="1" shape-rendering="crispEdges"/>
<rect x="120.5" y="525.5" width="970" height="85" fill="none" stroke="#000" stroke-width="1" shape-rendering="crispEdges"/>
<rect x="120.5" y="610.5" width="970" height="85" fill="none" stroke="#000" stroke-width="1" shape-rendering="crispEdges"/>
<rect x="120.5" y="695.5" width="970" height="85" fill="none" stroke="#000" stroke-width="1" shape-rendering="crispEdges"/>
<rect x="120.5" y="780.5" width="970" height="85" fill="none" stroke="#000" stroke-width="1" shape-rendering="crispEdges"/>
<rect x="132.5" y="865.5" width="958" height="85" fill="none" stroke="#000" stroke-width="1" shape-rendering="crispEdges"/>
<rect x="132.5" y="950.5" width="958" height="110" fill="none" stroke="#000" stroke-width="1" shape-rendering="crispEdges"/>
<text transform="scale(0.85,1)" x="460.10 476.76 493.42 510.08 526.75 543.41 560.07 576.73 593.40 610.06 626.72 643.39 660.05 676.71 693.37 710.04 726.70 743.36 760.02 776.69 793.35 810.01 826.67 843.34 860.00 876.66 893.33 909.99 926.65 943.31 959.98 976.64 993.30 1009.96 1026.63 1043.29 1059.95 1076.61 1093.28 1109.94 1126.60 1143.27 1159.93 1176.59 1193.25 1209.92 1226.58 1243.24 1259.90" y="34" font-family="DejaVu Serif,Liberation Serif,serif" font-size="22.8" text-anchor="middle" fill="#000" stroke="#000" stroke-width="0.5">GFS 0~10day 3-hourly for TAZERBO (21.25E, 25.75N)</text>
<line x1="175.5" y1="66" x2="175.5" y2="70.5" stroke="#000" stroke-width="1" stroke-linecap="butt" shape-rendering="crispEdges"/>
<line x1="175.5" y1="1060.5" x2="175.5" y2="1065" stroke="#000" stroke-width="1" stroke-linecap="butt" shape-rendering="crispEdges"/>
<text class="F" x="176.5" y="62.9" font-size="16.5" fill="#000" style="color:#000" text-anchor="middle" textLength="43" lengthAdjust="spacingAndGlyphs" >10OCT</text>
<text class="F" x="176.5" y="1080.8" font-size="16.5" fill="#000" style="color:#000" text-anchor="middle" textLength="43" lengthAdjust="spacingAndGlyphs" >10OCT</text>
<line x1="273.73" y1="66" x2="273.73" y2="70.5" stroke="#000" stroke-width="1" stroke-linecap="butt" shape-rendering="crispEdges"/>
<line x1="273.73" y1="1060.5" x2="273.73" y2="1065" stroke="#000" stroke-width="1" stroke-linecap="butt" shape-rendering="crispEdges"/>
<text class="F" x="274.73" y="62.9" font-size="16.5" fill="#000" style="color:#000" text-anchor="middle" textLength="43" lengthAdjust="spacingAndGlyphs" >11OCT</text>
<text class="F" x="274.73" y="1080.8" font-size="16.5" fill="#000" style="color:#000" text-anchor="middle" textLength="43" lengthAdjust="spacingAndGlyphs" >11OCT</text>
<line x1="371.96" y1="66" x2="371.96" y2="70.5" stroke="#000" stroke-width="1" stroke-linecap="butt" shape-rendering="crispEdges"/>
<line x1="371.96" y1="1060.5" x2="371.96" y2="1065" stroke="#000" stroke-width="1" stroke-linecap="butt" shape-rendering="crispEdges"/>
<text class="F" x="372.96" y="62.9" font-size="16.5" fill="#000" style="color:#000" text-anchor="middle" textLength="43" lengthAdjust="spacingAndGlyphs" >12OCT</text>
<text class="F" x="372.96" y="1080.8" font-size="16.5" fill="#000" style="color:#000" text-anchor="middle" textLength="43" lengthAdjust="spacingAndGlyphs" >12OCT</text>
<line x1="470.19" y1="66" x2="470.19" y2="70.5" stroke="#000" stroke-width="1" stroke-linecap="butt" shape-rendering="crispEdges"/>
<line x1="470.19" y1="1060.5" x2="470.19" y2="1065" stroke="#000" stroke-width="1" stroke-linecap="butt" shape-rendering="crispEdges"/>
<text class="F" x="471.19" y="62.9" font-size="16.5" fill="#000" style="color:#000" text-anchor="middle" textLength="43" lengthAdjust="spacingAndGlyphs" >13OCT</text>
<text class="F" x="471.19" y="1080.8" font-size="16.5" fill="#000" style="color:#000" text-anchor="middle" textLength="43" lengthAdjust="spacingAndGlyphs" >13OCT</text>
<line x1="568.42" y1="66" x2="568.42" y2="70.5" stroke="#000" stroke-width="1" stroke-linecap="butt" shape-rendering="crispEdges"/>
<line x1="568.42" y1="1060.5" x2="568.42" y2="1065" stroke="#000" stroke-width="1" stroke-linecap="butt" shape-rendering="crispEdges"/>
<text class="F" x="569.42" y="62.9" font-size="16.5" fill="#000" style="color:#000" text-anchor="middle" textLength="43" lengthAdjust="spacingAndGlyphs" >14OCT</text>
<text class="F" x="569.42" y="1080.8" font-size="16.5" fill="#000" style="color:#000" text-anchor="middle" textLength="43" lengthAdjust="spacingAndGlyphs" >14OCT</text>
<line x1="666.65" y1="66" x2="666.65" y2="70.5" stroke="#000" stroke-width="1" stroke-linecap="butt" shape-rendering="crispEdges"/>
<line x1="666.65" y1="1060.5" x2="666.65" y2="1065" stroke="#000" stroke-width="1" stroke-linecap="butt" shape-rendering="crispEdges"/>
<text class="F" x="667.65" y="62.9" font-size="16.5" fill="#000" style="color:#000" text-anchor="middle" textLength="43" lengthAdjust="spacingAndGlyphs" >15OCT</text>
<text class="F" x="667.65" y="1080.8" font-size="16.5" fill="#000" style="color:#000" text-anchor="middle" textLength="43" lengthAdjust="spacingAndGlyphs" >15OCT</text>
<line x1="764.88" y1="66" x2="764.88" y2="70.5" stroke="#000" stroke-width="1" stroke-linecap="butt" shape-rendering="crispEdges"/>
<line x1="764.88" y1="1060.5" x2="764.88" y2="1065" stroke="#000" stroke-width="1" stroke-linecap="butt" shape-rendering="crispEdges"/>
<text class="F" x="765.88" y="62.9" font-size="16.5" fill="#000" style="color:#000" text-anchor="middle" textLength="43" lengthAdjust="spacingAndGlyphs" >16OCT</text>
<text class="F" x="765.88" y="1080.8" font-size="16.5" fill="#000" style="color:#000" text-anchor="middle" textLength="43" lengthAdjust="spacingAndGlyphs" >16OCT</text>
<line x1="863.11" y1="66" x2="863.11" y2="70.5" stroke="#000" stroke-width="1" stroke-linecap="butt" shape-rendering="crispEdges"/>
<line x1="863.11" y1="1060.5" x2="863.11" y2="1065" stroke="#000" stroke-width="1" stroke-linecap="butt" shape-rendering="crispEdges"/>
<text class="F" x="864.11" y="62.9" font-size="16.5" fill="#000" style="color:#000" text-anchor="middle" textLength="43" lengthAdjust="spacingAndGlyphs" >17OCT</text>
<text class="F" x="864.11" y="1080.8" font-size="16.5" fill="#000" style="color:#000" text-anchor="middle" textLength="43" lengthAdjust="spacingAndGlyphs" >17OCT</text>
<line x1="961.34" y1="66" x2="961.34" y2="70.5" stroke="#000" stroke-width="1" stroke-linecap="butt" shape-rendering="crispEdges"/>
<line x1="961.34" y1="1060.5" x2="961.34" y2="1065" stroke="#000" stroke-width="1" stroke-linecap="butt" shape-rendering="crispEdges"/>
<text class="F" x="962.34" y="62.9" font-size="16.5" fill="#000" style="color:#000" text-anchor="middle" textLength="43" lengthAdjust="spacingAndGlyphs" >18OCT</text>
<text class="F" x="962.34" y="1080.8" font-size="16.5" fill="#000" style="color:#000" text-anchor="middle" textLength="43" lengthAdjust="spacingAndGlyphs" >18OCT</text>
<line x1="1059.57" y1="66" x2="1059.57" y2="70.5" stroke="#000" stroke-width="1" stroke-linecap="butt" shape-rendering="crispEdges"/>
<line x1="1059.57" y1="1060.5" x2="1059.57" y2="1065" stroke="#000" stroke-width="1" stroke-linecap="butt" shape-rendering="crispEdges"/>
<text class="F" x="1060.57" y="62.9" font-size="16.5" fill="#000" style="color:#000" text-anchor="middle" textLength="43" lengthAdjust="spacingAndGlyphs" >19OCT</text>
<text class="F" x="1060.57" y="1080.8" font-size="16.5" fill="#000" style="color:#000" text-anchor="middle" textLength="43" lengthAdjust="spacingAndGlyphs" >19OCT</text>
<line x1="116" y1="103.4" x2="120.5" y2="103.4" stroke="#000" stroke-width="1" stroke-linecap="butt" shape-rendering="crispEdges"/>
<text class="F" x="112" y="108.2" font-size="14" fill="#000" style="color:#000" text-anchor="end" textLength="20" lengthAdjust="spacingAndGlyphs" >500</text>
<line x1="116" y1="167.56" x2="120.5" y2="167.56" stroke="#000" stroke-width="1" stroke-linecap="butt" shape-rendering="crispEdges"/>
<text class="F" x="112" y="172.36" font-size="14" fill="#000" style="color:#000" text-anchor="end" textLength="20" lengthAdjust="spacingAndGlyphs" >600</text>
<line x1="116" y1="231.72" x2="120.5" y2="231.72" stroke="#000" stroke-width="1" stroke-linecap="butt" shape-rendering="crispEdges"/>
<text class="F" x="112" y="236.52" font-size="14" fill="#000" style="color:#000" text-anchor="end" textLength="20" lengthAdjust="spacingAndGlyphs" >700</text>
<line x1="116" y1="295.88" x2="120.5" y2="295.88" stroke="#000" stroke-width="1" stroke-linecap="butt" shape-rendering="crispEdges"/>
<text class="F" x="112" y="300.68" font-size="14" fill="#000" style="color:#000" text-anchor="end" textLength="20" lengthAdjust="spacingAndGlyphs" >800</text>
<line x1="116" y1="360.04" x2="120.5" y2="360.04" stroke="#000" stroke-width="1" stroke-linecap="butt" shape-rendering="crispEdges"/>
<text class="F" x="112" y="364.84" font-size="14" fill="#000" style="color:#000" text-anchor="end" textLength="20" lengthAdjust="spacingAndGlyphs" >900</text>
<line x1="116" y1="424.2" x2="120.5" y2="424.2" stroke="#000" stroke-width="1" stroke-linecap="butt" shape-rendering="crispEdges"/>
<text class="F" x="112" y="429" font-size="14" fill="#000" style="color:#000" text-anchor="end" textLength="27" lengthAdjust="spacingAndGlyphs" >1000</text>
<line x1="116" y1="444.5" x2="120.5" y2="444.5" stroke="#000" stroke-width="1" stroke-linecap="butt" shape-rendering="crispEdges"/>
<text class="F" x="112" y="449.3" font-size="14" fill="#000" style="color:#000" text-anchor="end" textLength="27" lengthAdjust="spacingAndGlyphs" >1022</text>
<line x1="116" y1="462.5" x2="120.5" y2="462.5" stroke="#000" stroke-width="1" stroke-linecap="butt" shape-rendering="crispEdges"/>
<text class="F" x="112" y="467.3" font-size="14" fill="#000" style="color:#000" text-anchor="end" textLength="27" lengthAdjust="spacingAndGlyphs" >1020</text>
<line x1="116" y1="480.5" x2="120.5" y2="480.5" stroke="#000" stroke-width="1" stroke-linecap="butt" shape-rendering="crispEdges"/>
<text class="F" x="112" y="485.3" font-size="14" fill="#000" style="color:#000" text-anchor="end" textLength="27" lengthAdjust="spacingAndGlyphs" >1018</text>
<line x1="116" y1="498.5" x2="120.5" y2="498.5" stroke="#000" stroke-width="1" stroke-linecap="butt" shape-rendering="crispEdges"/>
<text class="F" x="112" y="503.3" font-size="14" fill="#000" style="color:#000" text-anchor="end" textLength="27" lengthAdjust="spacingAndGlyphs" >1016</text>
<line x1="116" y1="516.5" x2="120.5" y2="516.5" stroke="#000" stroke-width="1" stroke-linecap="butt" shape-rendering="crispEdges"/>
<text class="F" x="112" y="521.3" font-size="14" fill="#000" style="color:#000" text-anchor="end" textLength="27" lengthAdjust="spacingAndGlyphs" >1014</text>
<line x1="69.5" y1="440" x2="69.5" y2="525.5" stroke="#000" stroke-width="1" stroke-linecap="butt" shape-rendering="crispEdges"/>
<line x1="65" y1="459.5" x2="69.5" y2="459.5" stroke="#000" stroke-width="1" stroke-linecap="butt" shape-rendering="crispEdges"/>
<text class="F" x="61" y="464.3" font-size="14" fill="#000" style="color:#000" text-anchor="end" textLength="20.5" lengthAdjust="spacingAndGlyphs" >574</text>
<line x1="65" y1="482.5" x2="69.5" y2="482.5" stroke="#000" stroke-width="1" stroke-linecap="butt" shape-rendering="crispEdges"/>
<text class="F" x="61" y="487.3" font-size="14" fill="#000" style="color:#000" text-anchor="end" textLength="20.5" lengthAdjust="spacingAndGlyphs" >572</text>
<line x1="65" y1="505.5" x2="69.5" y2="505.5" stroke="#000" stroke-width="1" stroke-linecap="butt" shape-rendering="crispEdges"/>
<text class="F" x="61" y="510.3" font-size="14" fill="#000" style="color:#000" text-anchor="end" textLength="20.5" lengthAdjust="spacingAndGlyphs" >570</text>
<line x1="50.5" y1="525" x2="50.5" y2="610.5" stroke="#000" stroke-width="1" stroke-linecap="butt" shape-rendering="crispEdges"/>
<line x1="46" y1="525.5" x2="50.5" y2="525.5" stroke="#000" stroke-width="1" stroke-linecap="butt" shape-rendering="crispEdges"/>
<text class="F" x="42.5" y="530.3" font-size="13" fill="#000" style="color:#000" text-anchor="end" >-6</text>
<line x1="46" y1="547.5" x2="50.5" y2="547.5" stroke="#000" stroke-width="1" stroke-linecap="butt" shape-rendering="crispEdges"/>
<text class="F" x="42.5" y="552.3" font-size="13" fill="#000" style="color:#000" text-anchor="end" >-3</text>
<line x1="46" y1="568.5" x2="50.5" y2="568.5" stroke="#000" stroke-width="1" stroke-linecap="butt" shape-rendering="crispEdges"/>
<text class="F" x="42.5" y="573.3" font-size="13" fill="#000" style="color:#000" text-anchor="end" >0</text>
<line x1="46" y1="589.5" x2="50.5" y2="589.5" stroke="#000" stroke-width="1" stroke-linecap="butt" shape-rendering="crispEdges"/>
<text class="F" x="42.5" y="594.3" font-size="13" fill="#000" style="color:#000" text-anchor="end" >3</text>
<line x1="46" y1="610.5" x2="50.5" y2="610.5" stroke="#000" stroke-width="1" stroke-linecap="butt" shape-rendering="crispEdges"/>
<text class="F" x="42.5" y="615.3" font-size="13" fill="#000" style="color:#000" text-anchor="end" >6</text>
<line x1="116" y1="613.5" x2="120.5" y2="613.5" stroke="#000" stroke-width="1" stroke-linecap="butt" shape-rendering="crispEdges"/>
<text class="F" x="112" y="618.3" font-size="14" fill="#000" style="color:#000" text-anchor="end" textLength="7" lengthAdjust="spacingAndGlyphs" >6</text>
<line x1="116" y1="630.5" x2="120.5" y2="630.5" stroke="#000" stroke-width="1" stroke-linecap="butt" shape-rendering="crispEdges"/>
<text class="F" x="112" y="635.3" font-size="14" fill="#000" style="color:#000" text-anchor="end" textLength="7" lengthAdjust="spacingAndGlyphs" >5</text>
<line x1="116" y1="647.5" x2="120.5" y2="647.5" stroke="#000" stroke-width="1" stroke-linecap="butt" shape-rendering="crispEdges"/>
<text class="F" x="112" y="652.3" font-size="14" fill="#000" style="color:#000" text-anchor="end" textLength="7" lengthAdjust="spacingAndGlyphs" >4</text>
<line x1="116" y1="664.5" x2="120.5" y2="664.5" stroke="#000" stroke-width="1" stroke-linecap="butt" shape-rendering="crispEdges"/>
<text class="F" x="112" y="669.3" font-size="14" fill="#000" style="color:#000" text-anchor="end" textLength="7" lengthAdjust="spacingAndGlyphs" >3</text>
<line x1="116" y1="681.5" x2="120.5" y2="681.5" stroke="#000" stroke-width="1" stroke-linecap="butt" shape-rendering="crispEdges"/>
<text class="F" x="112" y="686.3" font-size="14" fill="#000" style="color:#000" text-anchor="end" textLength="7" lengthAdjust="spacingAndGlyphs" >2</text>
<line x1="116" y1="700.5" x2="120.5" y2="700.5" stroke="#000" stroke-width="1" stroke-linecap="butt" shape-rendering="crispEdges"/>
<text class="F" x="112" y="705.3" font-size="14" fill="#000" style="color:#000" text-anchor="end" textLength="14" lengthAdjust="spacingAndGlyphs" >32</text>
<line x1="116" y1="720.5" x2="120.5" y2="720.5" stroke="#000" stroke-width="1" stroke-linecap="butt" shape-rendering="crispEdges"/>
<text class="F" x="112" y="725.3" font-size="14" fill="#000" style="color:#000" text-anchor="end" textLength="14" lengthAdjust="spacingAndGlyphs" >24</text>
<line x1="116" y1="740.5" x2="120.5" y2="740.5" stroke="#000" stroke-width="1" stroke-linecap="butt" shape-rendering="crispEdges"/>
<text class="F" x="112" y="745.3" font-size="14" fill="#000" style="color:#000" text-anchor="end" textLength="14" lengthAdjust="spacingAndGlyphs" >16</text>
<line x1="116" y1="760.5" x2="120.5" y2="760.5" stroke="#000" stroke-width="1" stroke-linecap="butt" shape-rendering="crispEdges"/>
<text class="F" x="112" y="765.3" font-size="14" fill="#000" style="color:#000" text-anchor="end" textLength="7" lengthAdjust="spacingAndGlyphs" >8</text>
<line x1="116" y1="780.5" x2="120.5" y2="780.5" stroke="#000" stroke-width="1" stroke-linecap="butt" shape-rendering="crispEdges"/>
<text class="F" x="112" y="785.3" font-size="14" fill="#000" style="color:#000" text-anchor="end" textLength="7" lengthAdjust="spacingAndGlyphs" >0</text>
<line x1="116" y1="803.5" x2="120.5" y2="803.5" stroke="#000" stroke-width="1" stroke-linecap="butt" shape-rendering="crispEdges"/>
<text class="F" x="112" y="808.3" font-size="14" fill="#000" style="color:#000" text-anchor="end" textLength="14" lengthAdjust="spacingAndGlyphs" >40</text>
<line x1="116" y1="834.5" x2="120.5" y2="834.5" stroke="#000" stroke-width="1" stroke-linecap="butt" shape-rendering="crispEdges"/>
<text class="F" x="112" y="839.3" font-size="14" fill="#000" style="color:#000" text-anchor="end" textLength="14" lengthAdjust="spacingAndGlyphs" >20</text>
<line x1="128" y1="893.5" x2="132.5" y2="893.5" stroke="#000" stroke-width="1" stroke-linecap="butt" shape-rendering="crispEdges"/>
<text class="F" x="121" y="885.5" font-size="15" fill="#000" style="color:#000" text-anchor="end" textLength="27.4" lengthAdjust="spacingAndGlyphs" >high</text>
<line x1="128" y1="920.5" x2="132.5" y2="920.5" stroke="#000" stroke-width="1" stroke-linecap="butt" shape-rendering="crispEdges"/>
<text class="F" x="121" y="914" font-size="15" fill="#000" style="color:#000" text-anchor="end" textLength="44" lengthAdjust="spacingAndGlyphs" >middle</text>
<line x1="128" y1="948" x2="132.5" y2="948" stroke="#000" stroke-width="1" stroke-linecap="butt" shape-rendering="crispEdges"/>
<text class="F" x="121" y="942" font-size="15" fill="#000" style="color:#000" text-anchor="end" textLength="20.4" lengthAdjust="spacingAndGlyphs" >low</text>
<rect x="98" y="781.5" width="18" height="9" fill="#fff" stroke="none" stroke-width="1" />
<line x1="128" y1="972.5" x2="132.5" y2="972.5" stroke="#000" stroke-width="1" stroke-linecap="butt" shape-rendering="crispEdges"/>
<text class="F" x="124" y="977.3" font-size="14" fill="#000" style="color:#000" text-anchor="end" >0.8</text>
<line x1="128" y1="994.5" x2="132.5" y2="994.5" stroke="#000" stroke-width="1" stroke-linecap="butt" shape-rendering="crispEdges"/>
<text class="F" x="124" y="999.3" font-size="14" fill="#000" style="color:#000" text-anchor="end" >0.6</text>
<line x1="128" y1="1016.5" x2="132.5" y2="1016.5" stroke="#000" stroke-width="1" stroke-linecap="butt" shape-rendering="crispEdges"/>
<text class="F" x="124" y="1021.3" font-size="14" fill="#000" style="color:#000" text-anchor="end" >0.4</text>
<line x1="128" y1="1038.5" x2="132.5" y2="1038.5" stroke="#000" stroke-width="1" stroke-linecap="butt" shape-rendering="crispEdges"/>
<text class="F" x="124" y="1043.3" font-size="14" fill="#000" style="color:#000" text-anchor="end" >0.2</text>
<line x1="128" y1="1060.5" x2="132.5" y2="1060.5" stroke="#000" stroke-width="1" stroke-linecap="butt" shape-rendering="crispEdges"/>
<text class="F" x="124" y="1065.3" font-size="14" fill="#000" style="color:#000" text-anchor="end" >0</text>
<text class="F" x="1085" y="965" font-size="14.5" fill="#000" style="color:#000" text-anchor="end" textLength="104" lengthAdjust="spacingAndGlyphs" >Run Total = 0</text>
<text class="F" x="56" y="264" font-size="16" fill="#000" style="color:#000" transform="rotate(-90 56 264)" textLength="78.5" lengthAdjust="spacingAndGlyphs"><tspan fill="#ff3030" style="color:#ff3030">T</tspan><tspan fill="#ff5a28" style="color:#ff5a28">e</tspan><tspan fill="#ff8c1e" style="color:#ff8c1e">m</tspan><tspan fill="#ffb41e" style="color:#ffb41e">p</tspan><tspan fill="#e6d21e" style="color:#e6d21e">e</tspan><tspan fill="#b4dc28" style="color:#b4dc28">r</tspan><tspan fill="#5ad23c" style="color:#5ad23c">a</tspan><tspan fill="#28c8b4" style="color:#28c8b4">t</tspan><tspan fill="#2896f0" style="color:#2896f0">u</tspan><tspan fill="#5050f0" style="color:#5050f0">r</tspan><tspan fill="#9628dc" style="color:#9628dc">e</tspan></text>
<text class="F" x="56" y="177" font-size="16" fill="#ff3030" style="color:#ff3030" transform="rotate(-90 56 177)" textLength="26.5" lengthAdjust="spacingAndGlyphs">(°C)</text>
<text class="F" x="56" y="149.5" font-size="16" fill="#000" style="color:#000" transform="rotate(-90 56 149.5)" textLength="81.8" lengthAdjust="spacingAndGlyphs">Wind (m/s)</text>
<text class="F" x="84.5" y="321" font-size="16" fill="#000" style="color:#000" transform="rotate(-90 84.5 321)" textLength="133" lengthAdjust="spacingAndGlyphs" letter-spacing="6">(millibars)</text>
<rect x="40" y="282" width="5" height="54" fill="#00cc00" stroke="none" stroke-width="1" shape-rendering="crispEdges"/>
<rect x="45" y="282" width="5" height="54" fill="#00f000" stroke="none" stroke-width="1" shape-rendering="crispEdges"/>
<rect x="50" y="282" width="4" height="54" fill="#88d888" stroke="none" stroke-width="1" shape-rendering="crispEdges"/>
<rect x="54" y="282" width="5" height="54" fill="#a0d0a0" stroke="none" stroke-width="1" shape-rendering="crispEdges"/>
<rect x="59" y="282" width="4" height="54" fill="#c8d8c8" stroke="none" stroke-width="1" shape-rendering="crispEdges"/>
<text class="F" x="56" y="332" font-size="16" fill="#000" style="color:#000" transform="rotate(-90 56 332)" textLength="48" lengthAdjust="spacingAndGlyphs">RH (%)</text>
<text class="F" x="21.4" y="532" font-size="16" fill="#00c8c8" style="color:#00c8c8" transform="rotate(-90 21.4 532)" textLength="96" lengthAdjust="spacingAndGlyphs">1000-500mb</text>
<text class="F" x="39" y="532" font-size="16" fill="#00c8c8" style="color:#00c8c8" transform="rotate(-90 39 532)" textLength="96" lengthAdjust="spacingAndGlyphs">Thcknss (dm)</text>
<text class="F" x="83" y="516.4" font-size="16" fill="#2020ff" style="color:#2020ff" transform="rotate(-90 83 516.4)" textLength="65.7" lengthAdjust="spacingAndGlyphs">SLP (mb)</text>
<text class="F" x="24" y="609" font-size="16" fill="#ff3030" style="color:#ff3030" transform="rotate(-90 24 609)" textLength="81" lengthAdjust="spacingAndGlyphs">Lifted Index</text>
<text class="F" x="85" y="612" font-size="16" fill="#b070ff" style="color:#b070ff" transform="rotate(-90 85 612)" textLength="87.5" lengthAdjust="spacingAndGlyphs">CAPE (J/kg)</text>
<text class="F" x="21.3" y="686.8" font-size="16" fill="#ff8000" style="color:#ff8000" transform="rotate(-90 21.3 686.8)" textLength="68.5" lengthAdjust="spacingAndGlyphs">10m Wind</text>
<text class="F" x="41" y="674.4" font-size="16" fill="#ff8000" style="color:#ff8000" transform="rotate(-90 41 674.4)" textLength="40.8" lengthAdjust="spacingAndGlyphs">Speed</text>
<text class="F" x="61.5" y="682" font-size="16" fill="#a08060" style="color:#a08060" transform="rotate(-90 61.5 682)" textLength="57.8" lengthAdjust="spacingAndGlyphs">&amp; Barbs</text>
<text class="F" x="82" y="673.8" font-size="16" fill="#000" style="color:#000" transform="rotate(-90 82 673.8)" textLength="41.3" lengthAdjust="spacingAndGlyphs">(m/s)</text>
<text class="F" x="21.5" y="771.6" font-size="16" fill="#7f3f2f" style="color:#7f3f2f" transform="rotate(-90 21.5 771.6)" textLength="66.2" lengthAdjust="spacingAndGlyphs">2m Temp</text>
<text class="F" x="41.4" y="774" font-size="16" fill="#7f3f2f" style="color:#7f3f2f" transform="rotate(-90 41.4 774)" textLength="72.8" lengthAdjust="spacingAndGlyphs">2m DewPt</text>
<text class="F" x="61.5" y="788.7" font-size="16" fill="#7f3f2f" style="color:#7f3f2f" transform="rotate(-90 61.5 788.7)" textLength="108.7" lengthAdjust="spacingAndGlyphs">(6hr Min/Max)</text>
<text class="F" x="82" y="750.9" font-size="16" fill="#000" style="color:#000" transform="rotate(-90 82 750.9)" textLength="25.4" lengthAdjust="spacingAndGlyphs">(°C)</text>
<text class="F" x="41.5" y="846.9" font-size="16" fill="#00b000" style="color:#00b000" transform="rotate(-90 41.5 846.9)" textLength="47.5" lengthAdjust="spacingAndGlyphs">2m RH</text>
<text class="F" x="82" y="834" font-size="16" fill="#000" style="color:#000" transform="rotate(-90 82 834)" textLength="20.8" lengthAdjust="spacingAndGlyphs">(%)</text>
<text class="F" x="30.6" y="949.8" font-size="16" fill="#4a90d0" style="color:#4a90d0" transform="rotate(-90 30.6 949.8)" textLength="84.1" lengthAdjust="spacingAndGlyphs">Cloud Cover</text>
<text class="F" x="52" y="918.6" font-size="16" fill="#000" style="color:#000" transform="rotate(-90 52 918.6)" textLength="20.4" lengthAdjust="spacingAndGlyphs">(%)</text>
<text class="F" x="87.8" y="1049.6" font-size="16" fill="#000" style="color:#000" transform="rotate(-90 87.8 1049.6)" textLength="120.2" lengthAdjust="spacingAndGlyphs">3hr Precip (mm)</text>
<text class="F" x="69.3" y="976.4" font-size="15.5" fill="#00d000" style="color:#00d000" text-anchor="end" textLength="87" lengthAdjust="spacingAndGlyphs" >Total / Rain</text>
<text class="F" x="69.3" y="996.4" font-size="15.5" fill="#ff3030" style="color:#ff3030" text-anchor="end" textLength="69.3" lengthAdjust="spacingAndGlyphs" >Convective</text>
<polyline points="811,610 813.5,607.5 816,610" fill="none" stroke="#ff3030" stroke-width="1" stroke-linejoin="round" />
<polyline points="819,609.3 823.5,609.3" fill="none" stroke="#ff3030" stroke-width="1" stroke-linejoin="round" />
<polyline points="824,610 826.5,606.5 829,610" fill="none" stroke="#ff3030" stroke-width="1" stroke-linejoin="round" />
<polyline points="906,610 909,607" fill="none" stroke="#ff3030" stroke-width="1" stroke-linejoin="round" />
<polyline points="909.5,609 912.5,604.5 915.5,609" fill="none" stroke="#ff3030" stroke-width="1" stroke-linejoin="round" />
<polyline points="915,608.5 921,608.5" fill="none" stroke="#ff3030" stroke-width="1" stroke-linejoin="round" />
<polyline points="922,610 924.5,606.5 927,610" fill="none" stroke="#ff3030" stroke-width="1" stroke-linejoin="round" />
</svg>
</body></html>
